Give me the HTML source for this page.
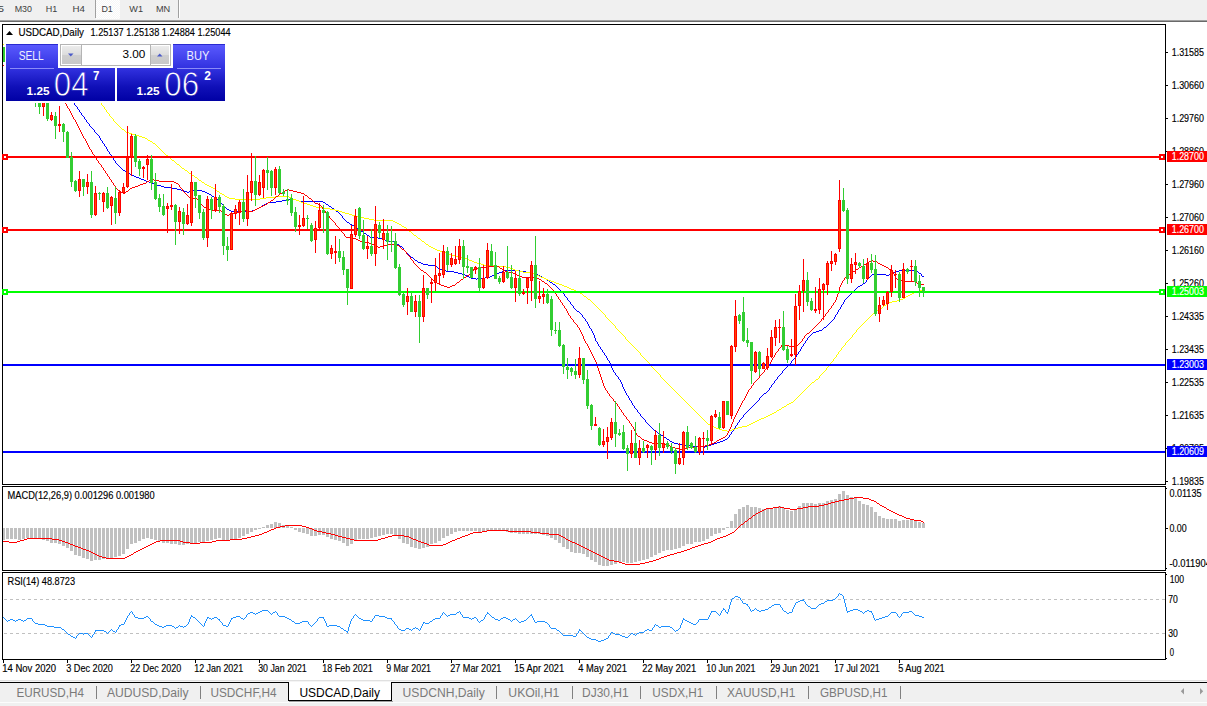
<!DOCTYPE html>
<html><head><meta charset="utf-8"><title>USDCAD,Daily</title>
<style>html,body{margin:0;padding:0;background:#fff;overflow:hidden}body{width:1207px;height:706px;font-family:"Liberation Sans",sans-serif}svg{display:block}</style></head>
<body>
<svg width="1207" height="706" viewBox="0 0 1207 706" font-family="Liberation Sans, sans-serif" style="display:block">
<defs>
<linearGradient id="gb" gradientUnits="userSpaceOnUse" x1="0" y1="44" x2="0" y2="101"><stop offset="0" stop-color="#5b5bff"/><stop offset="0.42" stop-color="#3232e0"/><stop offset="0.75" stop-color="#1010b8"/><stop offset="1" stop-color="#0000a4"/></linearGradient>
<linearGradient id="gbtn" x1="0" y1="0" x2="0" y2="1"><stop offset="0" stop-color="#ececec"/><stop offset="0.5" stop-color="#dcdcdc"/><stop offset="0.5" stop-color="#cfcfcf"/><stop offset="1" stop-color="#c8c8c8"/></linearGradient>
<pattern id="chk" width="2" height="2" patternUnits="userSpaceOnUse"><rect width="2" height="2" fill="#f6f6f6"/><rect width="1" height="1" fill="#ffffff"/><rect x="1" y="1" width="1" height="1" fill="#ffffff"/></pattern>
<clipPath id="cm"><rect x="3" y="25" width="1162" height="459"/></clipPath>
<clipPath id="cmacd"><rect x="3" y="487" width="1162" height="83"/></clipPath>
<clipPath id="crsi"><rect x="3" y="573" width="1162" height="86"/></clipPath>
</defs>
<rect x="0" y="0" width="1207" height="706" fill="#ffffff" />
<g shape-rendering="crispEdges">
<rect x="0" y="0" width="1207" height="20" fill="#f0f0f0" />
<rect x="0" y="20" width="1207" height="1" fill="#a0a0a0" />
<rect x="0" y="21" width="1207" height="1" fill="#696969" />
<rect x="96" y="0" width="24" height="19" fill="url(#chk)" />
<rect x="95" y="0" width="1" height="18" fill="#a0a0a0" />
<rect x="178" y="0" width="1" height="18" fill="#a0a0a0" />
<rect x="179" y="0" width="1" height="18" fill="#ffffff" />
<rect x="2" y="24" width="1164" height="1" fill="#000" />
<rect x="2" y="24" width="1" height="636" fill="#000" />
<rect x="1165" y="24" width="1" height="636" fill="#000" />
<rect x="2" y="484" width="1164" height="1" fill="#000" />
<rect x="2" y="485" width="1164" height="1" fill="#fff" />
<rect x="2" y="486" width="1164" height="1" fill="#000" />
<rect x="2" y="570" width="1164" height="1" fill="#000" />
<rect x="2" y="571" width="1164" height="1" fill="#fff" />
<rect x="2" y="572" width="1164" height="1" fill="#000" />
<rect x="2" y="659" width="1164" height="1" fill="#000" />
</g>
<g clip-path="url(#cm)" shape-rendering="crispEdges">
<path d="M74 103h1v1h-1zM74 104h1v1h-1zM75 105h1v1h-1zM76 106h1v1h-1zM77 107h1v1h-1zM77 108h1v1h-1zM78 109h1v1h-1zM79 110h1v1h-1zM79 111h1v1h-1zM80 112h1v1h-1zM81 113h1v1h-1zM81 114h1v1h-1zM82 115h1v1h-1zM83 116h1v1h-1zM84 117h1v1h-1zM84 118h1v1h-1zM85 119h1v1h-1zM86 120h1v1h-1zM86 121h1v1h-1zM87 122h1v1h-1zM88 123h1v1h-1zM89 124h1v1h-1zM89 125h1v1h-1zM90 126h1v1h-1zM91 127h1v1h-1zM92 128h1v1h-1zM93 129h1v1h-1zM94 130h1v1h-1zM94 131h1v1h-1zM95 132h1v1h-1zM96 133h1v1h-1zM97 134h1v1h-1zM98 135h1v1h-1zM99 136h1v1h-1zM99 137h1v1h-1zM100 138h1v1h-1zM100 139h1v1h-1zM101 140h1v1h-1zM102 141h1v1h-1zM102 142h1v1h-1zM103 143h1v1h-1zM104 144h1v1h-1zM104 145h1v1h-1zM105 146h1v1h-1zM106 147h1v1h-1zM106 148h1v1h-1zM107 149h1v1h-1zM107 150h1v1h-1zM108 151h1v1h-1zM109 152h1v1h-1zM109 153h1v1h-1zM110 154h1v1h-1zM111 155h1v1h-1zM111 156h1v1h-1zM112 157h1v1h-1zM113 158h1v1h-1zM113 159h1v1h-1zM114 160h1v1h-1zM115 161h1v1h-1zM115 162h1v1h-1zM116 163h1v1h-1zM117 164h1v1h-1zM118 165h1v1h-1zM119 166h1v1h-1zM120 167h1v1h-1zM121 168h1v1h-1zM122 169h1v1h-1zM123 170h1v1h-1zM124 170h1v1h-1zM125 171h1v1h-1zM126 171h1v1h-1zM127 172h1v1h-1zM128 173h1v1h-1zM129 173h1v1h-1zM130 174h1v1h-1zM131 174h1v1h-1zM132 175h1v1h-1zM133 175h1v1h-1zM134 176h1v1h-1zM135 176h1v1h-1zM136 177h1v1h-1zM137 177h1v1h-1zM138 177h1v1h-1zM139 178h1v1h-1zM140 178h1v1h-1zM141 179h1v1h-1zM142 179h1v1h-1zM143 179h1v1h-1zM144 180h1v1h-1zM145 180h1v1h-1zM146 181h1v1h-1zM147 181h1v1h-1zM148 181h1v1h-1zM149 182h1v1h-1zM150 182h1v1h-1zM151 183h1v1h-1zM152 183h1v1h-1zM153 183h1v1h-1zM154 184h1v1h-1zM155 184h1v1h-1zM156 184h1v1h-1zM157 185h1v1h-1zM158 185h1v1h-1zM159 185h1v1h-1zM160 185h1v1h-1zM161 186h1v1h-1zM162 186h1v1h-1zM163 186h1v1h-1zM164 187h1v1h-1zM165 187h1v1h-1zM166 187h1v1h-1zM167 187h1v1h-1zM168 187h1v1h-1zM169 187h1v1h-1zM170 187h1v1h-1zM171 188h1v1h-1zM172 188h1v1h-1zM173 188h1v1h-1zM174 188h1v1h-1zM175 188h1v1h-1zM176 188h1v1h-1zM177 189h1v1h-1zM178 189h1v1h-1zM179 189h1v1h-1zM180 189h1v1h-1zM181 190h1v1h-1zM182 190h1v1h-1zM183 190h1v1h-1zM184 191h1v1h-1zM185 191h1v1h-1zM186 191h1v1h-1zM187 192h1v1h-1zM188 192h1v1h-1zM189 191h1v1h-1zM190 191h1v1h-1zM191 191h1v1h-1zM192 190h1v1h-1zM193 190h1v1h-1zM194 189h1v1h-1zM195 189h1v1h-1zM196 190h1v1h-1zM197 190h1v1h-1zM198 190h1v1h-1zM199 190h1v1h-1zM200 190h1v1h-1zM201 190h1v1h-1zM202 191h1v1h-1zM203 191h1v1h-1zM204 191h1v1h-1zM205 192h1v1h-1zM206 192h1v1h-1zM207 193h1v1h-1zM208 193h1v1h-1zM209 194h1v1h-1zM210 194h1v1h-1zM211 195h1v1h-1zM212 196h1v1h-1zM213 196h1v1h-1zM214 197h1v1h-1zM215 197h1v1h-1zM216 198h1v1h-1zM217 199h1v1h-1zM218 200h1v1h-1zM219 201h1v1h-1zM220 202h1v1h-1zM221 203h1v1h-1zM222 204h1v1h-1zM223 205h1v1h-1zM224 206h1v1h-1zM225 207h1v1h-1zM226 208h1v1h-1zM227 209h1v1h-1zM228 209h1v1h-1zM229 210h1v1h-1zM230 210h1v1h-1zM231 211h1v1h-1zM232 211h1v1h-1zM233 211h1v1h-1zM234 211h1v1h-1zM235 211h1v1h-1zM236 211h1v1h-1zM237 211h1v1h-1zM238 211h1v1h-1zM239 211h1v1h-1zM240 211h1v1h-1zM241 211h1v1h-1zM242 211h1v1h-1zM243 211h1v1h-1zM244 211h1v1h-1zM245 211h1v1h-1zM246 211h1v1h-1zM247 211h1v1h-1zM248 211h1v1h-1zM249 211h1v1h-1zM250 211h1v1h-1zM251 211h1v1h-1zM252 210h1v1h-1zM253 210h1v1h-1zM254 210h1v1h-1zM255 209h1v1h-1zM256 209h1v1h-1zM257 208h1v1h-1zM258 208h1v1h-1zM259 207h1v1h-1zM260 207h1v1h-1zM261 206h1v1h-1zM262 205h1v1h-1zM263 205h1v1h-1zM264 204h1v1h-1zM265 204h1v1h-1zM266 203h1v1h-1zM267 203h1v1h-1zM268 202h1v1h-1zM269 202h1v1h-1zM270 202h1v1h-1zM271 202h1v1h-1zM272 202h1v1h-1zM273 202h1v1h-1zM274 202h1v1h-1zM275 202h1v1h-1zM276 201h1v1h-1zM277 201h1v1h-1zM278 201h1v1h-1zM279 201h1v1h-1zM280 201h1v1h-1zM281 201h1v1h-1zM282 200h1v1h-1zM283 200h1v1h-1zM284 200h1v1h-1zM285 200h1v1h-1zM286 199h1v1h-1zM287 199h1v1h-1zM288 199h1v1h-1zM289 199h1v1h-1zM290 199h1v1h-1zM291 199h1v1h-1zM292 199h1v1h-1zM293 199h1v1h-1zM294 199h1v1h-1zM295 199h1v1h-1zM296 200h1v1h-1zM297 200h1v1h-1zM298 200h1v1h-1zM299 201h1v1h-1zM300 201h1v1h-1zM301 201h1v1h-1zM302 201h1v1h-1zM303 201h1v1h-1zM304 201h1v1h-1zM305 201h1v1h-1zM306 201h1v1h-1zM307 201h1v1h-1zM308 201h1v1h-1zM309 201h1v1h-1zM310 201h1v1h-1zM311 201h1v1h-1zM312 201h1v1h-1zM313 201h1v1h-1zM314 201h1v1h-1zM315 201h1v1h-1zM316 201h1v1h-1zM317 201h1v1h-1zM318 201h1v1h-1zM319 201h1v1h-1zM320 201h1v1h-1zM321 201h1v1h-1zM322 201h1v1h-1zM323 202h1v1h-1zM324 202h1v1h-1zM325 203h1v1h-1zM326 204h1v1h-1zM327 204h1v1h-1zM328 205h1v1h-1zM329 206h1v1h-1zM330 206h1v1h-1zM331 207h1v1h-1zM332 208h1v1h-1zM333 208h1v1h-1zM334 209h1v1h-1zM335 210h1v1h-1zM336 211h1v1h-1zM337 211h1v1h-1zM338 212h1v1h-1zM339 213h1v1h-1zM340 214h1v1h-1zM341 215h1v1h-1zM342 216h1v1h-1zM342 217h1v1h-1zM343 218h1v1h-1zM344 219h1v1h-1zM345 220h1v1h-1zM346 221h1v1h-1zM347 222h1v1h-1zM348 222h1v1h-1zM349 223h1v1h-1zM350 224h1v1h-1zM351 224h1v1h-1zM352 225h1v1h-1zM353 225h1v1h-1zM354 226h1v1h-1zM355 227h1v1h-1zM356 227h1v1h-1zM357 228h1v1h-1zM358 229h1v1h-1zM359 229h1v1h-1zM360 230h1v1h-1zM361 231h1v1h-1zM362 231h1v1h-1zM363 232h1v1h-1zM364 233h1v1h-1zM365 233h1v1h-1zM366 234h1v1h-1zM367 235h1v1h-1zM368 235h1v1h-1zM369 236h1v1h-1zM370 237h1v1h-1zM371 237h1v1h-1zM372 237h1v1h-1zM373 237h1v1h-1zM374 237h1v1h-1zM375 237h1v1h-1zM376 237h1v1h-1zM377 237h1v1h-1zM378 238h1v1h-1zM379 238h1v1h-1zM380 238h1v1h-1zM381 238h1v1h-1zM382 239h1v1h-1zM383 239h1v1h-1zM384 239h1v1h-1zM385 240h1v1h-1zM386 240h1v1h-1zM387 240h1v1h-1zM388 240h1v1h-1zM389 241h1v1h-1zM390 241h1v1h-1zM391 241h1v1h-1zM392 241h1v1h-1zM393 241h1v1h-1zM394 242h1v1h-1zM395 242h1v1h-1zM396 243h1v1h-1zM397 244h1v1h-1zM398 244h1v1h-1zM399 245h1v1h-1zM400 246h1v1h-1zM401 246h1v1h-1zM402 247h1v1h-1zM403 248h1v1h-1zM403 249h1v1h-1zM404 250h1v1h-1zM405 251h1v1h-1zM406 252h1v1h-1zM407 253h1v1h-1zM408 254h1v1h-1zM409 255h1v1h-1zM410 256h1v1h-1zM411 257h1v1h-1zM412 257h1v1h-1zM413 258h1v1h-1zM414 259h1v1h-1zM415 260h1v1h-1zM416 260h1v1h-1zM417 261h1v1h-1zM418 262h1v1h-1zM419 262h1v1h-1zM420 262h1v1h-1zM421 263h1v1h-1zM422 263h1v1h-1zM423 264h1v1h-1zM424 264h1v1h-1zM425 264h1v1h-1zM426 264h1v1h-1zM427 264h1v1h-1zM428 265h1v1h-1zM429 265h1v1h-1zM430 265h1v1h-1zM431 265h1v1h-1zM432 265h1v1h-1zM433 265h1v1h-1zM434 265h1v1h-1zM435 266h1v1h-1zM436 266h1v1h-1zM437 267h1v1h-1zM438 268h1v1h-1zM439 268h1v1h-1zM440 269h1v1h-1zM441 269h1v1h-1zM442 269h1v1h-1zM443 270h1v1h-1zM444 270h1v1h-1zM445 270h1v1h-1zM446 271h1v1h-1zM447 271h1v1h-1zM448 271h1v1h-1zM449 271h1v1h-1zM450 271h1v1h-1zM451 271h1v1h-1zM452 271h1v1h-1zM453 271h1v1h-1zM454 272h1v1h-1zM455 272h1v1h-1zM456 272h1v1h-1zM457 272h1v1h-1zM458 273h1v1h-1zM459 273h1v1h-1zM460 273h1v1h-1zM461 273h1v1h-1zM462 274h1v1h-1zM463 274h1v1h-1zM464 274h1v1h-1zM465 275h1v1h-1zM466 275h1v1h-1zM467 276h1v1h-1zM468 276h1v1h-1zM469 277h1v1h-1zM470 277h1v1h-1zM471 278h1v1h-1zM472 278h1v1h-1zM473 278h1v1h-1zM474 278h1v1h-1zM475 278h1v1h-1zM476 279h1v1h-1zM477 278h1v1h-1zM478 278h1v1h-1zM479 278h1v1h-1zM480 278h1v1h-1zM481 278h1v1h-1zM482 278h1v1h-1zM483 278h1v1h-1zM484 278h1v1h-1zM485 277h1v1h-1zM486 277h1v1h-1zM487 277h1v1h-1zM488 277h1v1h-1zM489 277h1v1h-1zM490 276h1v1h-1zM491 276h1v1h-1zM492 275h1v1h-1zM493 275h1v1h-1zM494 275h1v1h-1zM495 274h1v1h-1zM496 274h1v1h-1zM497 273h1v1h-1zM498 273h1v1h-1zM499 272h1v1h-1zM500 272h1v1h-1zM501 272h1v1h-1zM502 271h1v1h-1zM503 271h1v1h-1zM504 270h1v1h-1zM505 270h1v1h-1zM506 270h1v1h-1zM507 270h1v1h-1zM508 270h1v1h-1zM509 270h1v1h-1zM510 270h1v1h-1zM511 270h1v1h-1zM512 270h1v1h-1zM513 270h1v1h-1zM514 270h1v1h-1zM515 270h1v1h-1zM516 270h1v1h-1zM517 270h1v1h-1zM518 270h1v1h-1zM519 270h1v1h-1zM520 271h1v1h-1zM521 271h1v1h-1zM522 271h1v1h-1zM523 271h1v1h-1zM524 271h1v1h-1zM525 271h1v1h-1zM526 272h1v1h-1zM527 272h1v1h-1zM528 272h1v1h-1zM529 272h1v1h-1zM530 272h1v1h-1zM531 273h1v1h-1zM532 273h1v1h-1zM533 273h1v1h-1zM534 273h1v1h-1zM535 274h1v1h-1zM536 274h1v1h-1zM537 274h1v1h-1zM538 275h1v1h-1zM539 275h1v1h-1zM540 276h1v1h-1zM541 276h1v1h-1zM542 277h1v1h-1zM543 277h1v1h-1zM544 278h1v1h-1zM545 278h1v1h-1zM546 279h1v1h-1zM547 280h1v1h-1zM548 280h1v1h-1zM549 281h1v1h-1zM550 282h1v1h-1zM551 282h1v1h-1zM552 283h1v1h-1zM553 284h1v1h-1zM554 284h1v1h-1zM555 285h1v1h-1zM556 286h1v1h-1zM557 287h1v1h-1zM558 288h1v1h-1zM559 289h1v1h-1zM560 290h1v1h-1zM561 291h1v1h-1zM562 292h1v1h-1zM563 293h1v1h-1zM564 294h1v1h-1zM564 295h1v1h-1zM565 296h1v1h-1zM566 297h1v1h-1zM567 298h1v1h-1zM567 299h1v1h-1zM568 300h1v1h-1zM569 301h1v1h-1zM570 302h1v1h-1zM570 303h1v1h-1zM571 304h1v1h-1zM572 305h1v1h-1zM573 306h1v1h-1zM573 307h1v1h-1zM574 308h1v1h-1zM575 309h1v1h-1zM576 310h1v1h-1zM577 311h1v1h-1zM578 311h1v1h-1zM579 312h1v1h-1zM580 313h1v1h-1zM581 314h1v1h-1zM582 315h1v1h-1zM582 316h1v1h-1zM583 317h1v1h-1zM584 318h1v1h-1zM585 319h1v1h-1zM585 320h1v1h-1zM586 321h1v1h-1zM587 322h1v1h-1zM587 323h1v1h-1zM588 324h1v1h-1zM588 325h1v1h-1zM589 326h1v1h-1zM589 327h1v1h-1zM590 328h1v1h-1zM591 329h1v1h-1zM591 330h1v1h-1zM592 331h1v1h-1zM592 332h1v1h-1zM593 333h1v1h-1zM593 334h1v1h-1zM594 335h1v2h-1zM594 337h1v1h-1zM595 338h1v2h-1zM595 340h1v1h-1zM596 341h1v1h-1zM597 342h1v1h-1zM597 343h1v1h-1zM598 344h1v1h-1zM598 345h1v1h-1zM599 346h1v1h-1zM600 347h1v1h-1zM600 348h1v1h-1zM601 349h1v1h-1zM602 350h1v1h-1zM602 351h1v1h-1zM603 352h1v1h-1zM604 353h1v1h-1zM604 354h1v1h-1zM605 355h1v1h-1zM606 356h1v1h-1zM606 357h1v1h-1zM607 358h1v1h-1zM607 359h1v1h-1zM608 360h1v1h-1zM609 361h1v1h-1zM609 362h1v1h-1zM610 363h1v1h-1zM610 364h1v1h-1zM611 365h1v2h-1zM611 367h1v1h-1zM612 368h1v1h-1zM612 369h1v1h-1zM613 370h1v1h-1zM613 371h1v1h-1zM614 372h1v1h-1zM615 373h1v1h-1zM615 374h1v1h-1zM616 375h1v1h-1zM617 376h1v1h-1zM618 377h1v1h-1zM618 378h1v1h-1zM619 379h1v1h-1zM620 380h1v1h-1zM620 381h1v1h-1zM621 382h1v1h-1zM621 383h1v1h-1zM622 384h1v2h-1zM622 386h1v1h-1zM623 387h1v1h-1zM623 388h1v1h-1zM624 389h1v1h-1zM624 390h1v1h-1zM625 391h1v1h-1zM625 392h1v1h-1zM626 393h1v1h-1zM626 394h1v1h-1zM627 395h1v1h-1zM628 396h1v1h-1zM628 397h1v1h-1zM629 398h1v1h-1zM629 399h1v1h-1zM630 400h1v1h-1zM631 401h1v1h-1zM631 402h1v1h-1zM632 403h1v1h-1zM632 404h1v1h-1zM633 405h1v1h-1zM634 406h1v1h-1zM634 407h1v1h-1zM635 408h1v1h-1zM636 409h1v1h-1zM637 410h1v1h-1zM637 411h1v1h-1zM638 412h1v1h-1zM639 413h1v1h-1zM640 414h1v1h-1zM640 415h1v1h-1zM641 416h1v1h-1zM642 417h1v1h-1zM643 418h1v1h-1zM644 419h1v1h-1zM645 420h1v1h-1zM645 421h1v1h-1zM646 422h1v1h-1zM647 423h1v1h-1zM648 424h1v1h-1zM649 425h1v1h-1zM650 426h1v1h-1zM651 427h1v1h-1zM652 428h1v1h-1zM653 429h1v1h-1zM654 430h1v1h-1zM655 431h1v1h-1zM656 431h1v1h-1zM657 432h1v1h-1zM658 433h1v1h-1zM659 433h1v1h-1zM660 434h1v1h-1zM661 435h1v1h-1zM662 435h1v1h-1zM663 436h1v1h-1zM664 437h1v1h-1zM665 437h1v1h-1zM666 438h1v1h-1zM667 439h1v1h-1zM668 439h1v1h-1zM669 440h1v1h-1zM670 441h1v1h-1zM671 441h1v1h-1zM672 442h1v1h-1zM673 442h1v1h-1zM674 443h1v1h-1zM675 443h1v1h-1zM676 443h1v1h-1zM677 443h1v1h-1zM678 444h1v1h-1zM679 444h1v1h-1zM680 444h1v1h-1zM681 444h1v1h-1zM682 444h1v1h-1zM683 445h1v1h-1zM684 445h1v1h-1zM685 445h1v1h-1zM686 445h1v1h-1zM687 445h1v1h-1zM688 445h1v1h-1zM689 445h1v1h-1zM690 445h1v1h-1zM691 445h1v1h-1zM692 446h1v1h-1zM693 446h1v1h-1zM694 446h1v1h-1zM695 446h1v1h-1zM696 446h1v1h-1zM697 446h1v1h-1zM698 446h1v1h-1zM699 446h1v1h-1zM700 446h1v1h-1zM701 446h1v1h-1zM702 446h1v1h-1zM703 447h1v1h-1zM704 447h1v1h-1zM705 446h1v1h-1zM706 446h1v1h-1zM707 446h1v1h-1zM708 445h1v1h-1zM709 445h1v1h-1zM710 445h1v1h-1zM711 444h1v1h-1zM712 444h1v1h-1zM713 444h1v1h-1zM714 443h1v1h-1zM715 443h1v1h-1zM716 443h1v1h-1zM717 442h1v1h-1zM718 442h1v1h-1zM719 442h1v1h-1zM720 441h1v1h-1zM721 441h1v1h-1zM722 441h1v1h-1zM723 440h1v1h-1zM724 440h1v1h-1zM725 439h1v1h-1zM726 439h1v1h-1zM727 438h1v1h-1zM728 437h1v1h-1zM729 435h1v2h-1zM730 434h1v1h-1zM731 432h1v2h-1zM732 431h1v1h-1zM733 429h1v2h-1zM734 428h1v1h-1zM735 426h1v2h-1zM736 425h1v1h-1zM737 423h1v2h-1zM738 422h1v1h-1zM739 420h1v2h-1zM740 419h1v1h-1zM741 418h1v1h-1zM742 417h1v1h-1zM743 415h1v2h-1zM744 414h1v1h-1zM745 413h1v1h-1zM746 412h1v1h-1zM747 411h1v1h-1zM748 410h1v1h-1zM749 409h1v1h-1zM750 408h1v1h-1zM751 407h1v1h-1zM752 406h1v1h-1zM753 405h1v1h-1zM754 404h1v1h-1zM755 403h1v1h-1zM756 402h1v1h-1zM757 401h1v1h-1zM758 400h1v1h-1zM759 398h1v2h-1zM760 397h1v1h-1zM761 396h1v1h-1zM762 395h1v1h-1zM763 394h1v1h-1zM764 393h1v1h-1zM765 393h1v1h-1zM766 392h1v1h-1zM767 391h1v1h-1zM768 390h1v1h-1zM769 388h1v2h-1zM770 387h1v1h-1zM771 385h1v2h-1zM772 384h1v1h-1zM773 383h1v1h-1zM774 381h1v2h-1zM775 380h1v1h-1zM776 379h1v1h-1zM777 377h1v2h-1zM778 376h1v1h-1zM779 375h1v1h-1zM780 374h1v1h-1zM781 373h1v1h-1zM782 371h1v2h-1zM783 370h1v1h-1zM784 369h1v1h-1zM785 368h1v1h-1zM786 367h1v1h-1zM787 366h1v1h-1zM788 365h1v1h-1zM789 364h1v1h-1zM790 363h1v1h-1zM791 361h1v2h-1zM792 360h1v1h-1zM793 359h1v1h-1zM794 358h1v1h-1zM795 357h1v1h-1zM796 355h1v2h-1zM797 354h1v1h-1zM798 352h1v2h-1zM799 351h1v1h-1zM800 349h1v2h-1zM801 347h1v2h-1zM802 346h1v1h-1zM803 344h1v2h-1zM804 343h1v1h-1zM805 341h1v2h-1zM806 340h1v1h-1zM807 338h1v2h-1zM808 337h1v1h-1zM809 336h1v1h-1zM810 335h1v1h-1zM811 334h1v1h-1zM812 333h1v1h-1zM813 332h1v1h-1zM814 332h1v1h-1zM815 332h1v1h-1zM816 331h1v1h-1zM817 331h1v1h-1zM818 331h1v1h-1zM819 330h1v1h-1zM820 330h1v1h-1zM821 330h1v1h-1zM822 329h1v1h-1zM823 328h1v1h-1zM824 327h1v1h-1zM825 327h1v1h-1zM826 326h1v1h-1zM827 325h1v1h-1zM828 324h1v1h-1zM829 323h1v1h-1zM830 322h1v1h-1zM831 321h1v1h-1zM832 320h1v1h-1zM833 319h1v1h-1zM834 317h1v2h-1zM835 315h1v2h-1zM836 314h1v1h-1zM837 312h1v2h-1zM838 310h1v2h-1zM839 309h1v1h-1zM840 307h1v2h-1zM841 305h1v2h-1zM842 304h1v1h-1zM843 302h1v2h-1zM844 300h1v2h-1zM845 299h1v1h-1zM846 298h1v1h-1zM847 297h1v1h-1zM848 296h1v1h-1zM849 295h1v1h-1zM850 294h1v1h-1zM851 293h1v1h-1zM852 292h1v1h-1zM853 291h1v1h-1zM854 290h1v1h-1zM855 289h1v1h-1zM856 288h1v1h-1zM857 287h1v1h-1zM858 286h1v1h-1zM859 286h1v1h-1zM860 285h1v1h-1zM861 285h1v1h-1zM862 284h1v1h-1zM863 283h1v1h-1zM864 283h1v1h-1zM865 282h1v1h-1zM866 280h1v2h-1zM867 279h1v1h-1zM868 278h1v1h-1zM869 277h1v1h-1zM870 276h1v1h-1zM871 275h1v1h-1zM872 274h1v1h-1zM873 274h1v1h-1zM874 274h1v1h-1zM875 274h1v1h-1zM876 274h1v1h-1zM877 274h1v1h-1zM878 274h1v1h-1zM879 274h1v1h-1zM880 274h1v1h-1zM881 274h1v1h-1zM882 274h1v1h-1zM883 274h1v1h-1zM884 274h1v1h-1zM885 274h1v1h-1zM886 275h1v1h-1zM887 275h1v1h-1zM888 275h1v1h-1zM889 274h1v1h-1zM890 274h1v1h-1zM891 273h1v1h-1zM892 273h1v1h-1zM893 272h1v1h-1zM894 272h1v1h-1zM895 272h1v1h-1zM896 271h1v1h-1zM897 271h1v1h-1zM898 271h1v1h-1zM899 270h1v1h-1zM900 270h1v1h-1zM901 270h1v1h-1zM902 270h1v1h-1zM903 270h1v1h-1zM904 270h1v1h-1zM905 270h1v1h-1zM906 270h1v1h-1zM907 270h1v1h-1zM908 270h1v1h-1zM909 270h1v1h-1zM910 270h1v1h-1zM911 270h1v1h-1zM912 270h1v1h-1zM913 270h1v1h-1zM914 270h1v1h-1zM915 270h1v1h-1zM916 271h1v1h-1zM917 271h1v1h-1zM918 272h1v1h-1zM919 273h1v1h-1zM920 273h1v1h-1zM921 274h1v1h-1zM921 275h1v1h-1zM922 276h1v1h-1zM923 276h1v1h-1z" fill="#0000ff"/>
<path d="M101 103h1v1h-1zM101 104h1v1h-1zM102 105h1v1h-1zM103 106h1v1h-1zM104 107h1v1h-1zM104 108h1v1h-1zM105 109h1v1h-1zM106 110h1v1h-1zM106 111h1v1h-1zM107 112h1v1h-1zM108 113h1v1h-1zM109 114h1v1h-1zM109 115h1v1h-1zM110 116h1v1h-1zM111 117h1v1h-1zM112 118h1v1h-1zM113 119h1v1h-1zM113 120h1v1h-1zM114 121h1v1h-1zM115 122h1v1h-1zM116 123h1v1h-1zM117 124h1v1h-1zM118 125h1v1h-1zM119 126h1v1h-1zM120 127h1v1h-1zM121 128h1v1h-1zM122 129h1v1h-1zM123 129h1v1h-1zM124 130h1v1h-1zM125 131h1v1h-1zM126 132h1v1h-1zM127 132h1v1h-1zM128 132h1v1h-1zM129 133h1v1h-1zM130 133h1v1h-1zM131 133h1v1h-1zM132 134h1v1h-1zM133 134h1v1h-1zM134 134h1v1h-1zM135 135h1v1h-1zM136 135h1v1h-1zM137 135h1v1h-1zM138 135h1v1h-1zM139 136h1v1h-1zM140 136h1v1h-1zM141 136h1v1h-1zM142 137h1v1h-1zM143 137h1v1h-1zM144 137h1v1h-1zM145 138h1v1h-1zM146 138h1v1h-1zM147 139h1v1h-1zM148 140h1v1h-1zM149 140h1v1h-1zM150 141h1v1h-1zM151 141h1v1h-1zM152 142h1v1h-1zM153 143h1v1h-1zM154 143h1v1h-1zM155 144h1v1h-1zM156 145h1v1h-1zM157 146h1v1h-1zM158 147h1v1h-1zM159 148h1v1h-1zM160 149h1v1h-1zM161 150h1v1h-1zM162 151h1v1h-1zM163 152h1v1h-1zM164 153h1v1h-1zM165 154h1v1h-1zM166 155h1v1h-1zM167 155h1v1h-1zM168 156h1v1h-1zM169 157h1v1h-1zM170 158h1v1h-1zM171 159h1v1h-1zM172 160h1v1h-1zM173 160h1v1h-1zM174 161h1v1h-1zM175 162h1v1h-1zM176 163h1v1h-1zM177 164h1v1h-1zM178 164h1v1h-1zM179 165h1v1h-1zM180 166h1v1h-1zM181 167h1v1h-1zM182 168h1v1h-1zM183 168h1v1h-1zM184 169h1v1h-1zM185 170h1v1h-1zM186 170h1v1h-1zM187 171h1v1h-1zM188 172h1v1h-1zM189 173h1v1h-1zM190 173h1v1h-1zM191 174h1v1h-1zM192 175h1v1h-1zM193 175h1v1h-1zM194 176h1v1h-1zM195 177h1v1h-1zM196 177h1v1h-1zM197 178h1v1h-1zM198 179h1v1h-1zM199 180h1v1h-1zM200 180h1v1h-1zM201 181h1v1h-1zM202 182h1v1h-1zM203 182h1v1h-1zM204 183h1v1h-1zM205 184h1v1h-1zM206 184h1v1h-1zM207 185h1v1h-1zM208 185h1v1h-1zM209 186h1v1h-1zM210 186h1v1h-1zM211 187h1v1h-1zM212 187h1v1h-1zM213 188h1v1h-1zM214 188h1v1h-1zM215 189h1v1h-1zM216 190h1v1h-1zM217 191h1v1h-1zM218 191h1v1h-1zM219 192h1v1h-1zM220 193h1v1h-1zM221 193h1v1h-1zM222 194h1v1h-1zM223 194h1v1h-1zM224 195h1v1h-1zM225 196h1v1h-1zM226 196h1v1h-1zM227 197h1v1h-1zM228 197h1v1h-1zM229 198h1v1h-1zM230 198h1v1h-1zM231 198h1v1h-1zM232 198h1v1h-1zM233 198h1v1h-1zM234 198h1v1h-1zM235 199h1v1h-1zM236 199h1v1h-1zM237 199h1v1h-1zM238 199h1v1h-1zM239 199h1v1h-1zM240 199h1v1h-1zM241 199h1v1h-1zM242 199h1v1h-1zM243 199h1v1h-1zM244 199h1v1h-1zM245 199h1v1h-1zM246 199h1v1h-1zM247 199h1v1h-1zM248 199h1v1h-1zM249 199h1v1h-1zM250 199h1v1h-1zM251 199h1v1h-1zM252 199h1v1h-1zM253 199h1v1h-1zM254 199h1v1h-1zM255 199h1v1h-1zM256 199h1v1h-1zM257 199h1v1h-1zM258 199h1v1h-1zM259 199h1v1h-1zM260 198h1v1h-1zM261 198h1v1h-1zM262 198h1v1h-1zM263 198h1v1h-1zM264 198h1v1h-1zM265 198h1v1h-1zM266 197h1v1h-1zM267 197h1v1h-1zM268 197h1v1h-1zM269 197h1v1h-1zM270 197h1v1h-1zM271 197h1v1h-1zM272 197h1v1h-1zM273 197h1v1h-1zM274 197h1v1h-1zM275 196h1v1h-1zM276 196h1v1h-1zM277 196h1v1h-1zM278 196h1v1h-1zM279 196h1v1h-1zM280 196h1v1h-1zM281 196h1v1h-1zM282 196h1v1h-1zM283 196h1v1h-1zM284 196h1v1h-1zM285 196h1v1h-1zM286 196h1v1h-1zM287 196h1v1h-1zM288 196h1v1h-1zM289 197h1v1h-1zM290 197h1v1h-1zM291 198h1v1h-1zM292 198h1v1h-1zM293 199h1v1h-1zM294 199h1v1h-1zM295 199h1v1h-1zM296 200h1v1h-1zM297 200h1v1h-1zM298 200h1v1h-1zM299 201h1v1h-1zM300 201h1v1h-1zM301 202h1v1h-1zM302 202h1v1h-1zM303 202h1v1h-1zM304 203h1v1h-1zM305 203h1v1h-1zM306 203h1v1h-1zM307 204h1v1h-1zM308 204h1v1h-1zM309 204h1v1h-1zM310 205h1v1h-1zM311 205h1v1h-1zM312 205h1v1h-1zM313 206h1v1h-1zM314 206h1v1h-1zM315 206h1v1h-1zM316 207h1v1h-1zM317 207h1v1h-1zM318 207h1v1h-1zM319 207h1v1h-1zM320 207h1v1h-1zM321 207h1v1h-1zM322 207h1v1h-1zM323 208h1v1h-1zM324 208h1v1h-1zM325 208h1v1h-1zM326 208h1v1h-1zM327 208h1v1h-1zM328 208h1v1h-1zM329 208h1v1h-1zM330 209h1v1h-1zM331 209h1v1h-1zM332 209h1v1h-1zM333 209h1v1h-1zM334 209h1v1h-1zM335 210h1v1h-1zM336 210h1v1h-1zM337 210h1v1h-1zM338 210h1v1h-1zM339 211h1v1h-1zM340 211h1v1h-1zM341 211h1v1h-1zM342 212h1v1h-1zM343 212h1v1h-1zM344 212h1v1h-1zM345 213h1v1h-1zM346 213h1v1h-1zM347 213h1v1h-1zM348 213h1v1h-1zM349 214h1v1h-1zM350 214h1v1h-1zM351 214h1v1h-1zM352 215h1v1h-1zM353 215h1v1h-1zM354 215h1v1h-1zM355 215h1v1h-1zM356 216h1v1h-1zM357 216h1v1h-1zM358 216h1v1h-1zM359 216h1v1h-1zM360 217h1v1h-1zM361 217h1v1h-1zM362 217h1v1h-1zM363 217h1v1h-1zM364 218h1v1h-1zM365 218h1v1h-1zM366 218h1v1h-1zM367 218h1v1h-1zM368 218h1v1h-1zM369 219h1v1h-1zM370 219h1v1h-1zM371 219h1v1h-1zM372 219h1v1h-1zM373 219h1v1h-1zM374 220h1v1h-1zM375 220h1v1h-1zM376 220h1v1h-1zM377 220h1v1h-1zM378 220h1v1h-1zM379 220h1v1h-1zM380 220h1v1h-1zM381 220h1v1h-1zM382 220h1v1h-1zM383 220h1v1h-1zM384 220h1v1h-1zM385 220h1v1h-1zM386 220h1v1h-1zM387 220h1v1h-1zM388 220h1v1h-1zM389 220h1v1h-1zM390 220h1v1h-1zM391 220h1v1h-1zM392 220h1v1h-1zM393 221h1v1h-1zM394 221h1v1h-1zM395 222h1v1h-1zM396 222h1v1h-1zM397 223h1v1h-1zM398 223h1v1h-1zM399 224h1v1h-1zM400 224h1v1h-1zM401 225h1v1h-1zM402 226h1v1h-1zM403 226h1v1h-1zM404 227h1v1h-1zM405 227h1v1h-1zM406 228h1v1h-1zM407 229h1v1h-1zM408 230h1v1h-1zM409 231h1v1h-1zM410 231h1v1h-1zM411 232h1v1h-1zM412 233h1v1h-1zM413 234h1v1h-1zM414 235h1v1h-1zM415 235h1v1h-1zM416 236h1v1h-1zM417 237h1v1h-1zM418 238h1v1h-1zM419 238h1v1h-1zM420 239h1v1h-1zM421 240h1v1h-1zM422 241h1v1h-1zM423 241h1v1h-1zM424 242h1v1h-1zM425 243h1v1h-1zM426 244h1v1h-1zM427 244h1v1h-1zM428 245h1v1h-1zM429 246h1v1h-1zM430 246h1v1h-1zM431 247h1v1h-1zM432 247h1v1h-1zM433 248h1v1h-1zM434 248h1v1h-1zM435 249h1v1h-1zM436 249h1v1h-1zM437 250h1v1h-1zM438 250h1v1h-1zM439 250h1v1h-1zM440 251h1v1h-1zM441 251h1v1h-1zM442 251h1v1h-1zM443 252h1v1h-1zM444 252h1v1h-1zM445 252h1v1h-1zM446 253h1v1h-1zM447 253h1v1h-1zM448 253h1v1h-1zM449 254h1v1h-1zM450 254h1v1h-1zM451 254h1v1h-1zM452 255h1v1h-1zM453 255h1v1h-1zM454 255h1v1h-1zM455 255h1v1h-1zM456 256h1v1h-1zM457 256h1v1h-1zM458 256h1v1h-1zM459 256h1v1h-1zM460 257h1v1h-1zM461 257h1v1h-1zM462 257h1v1h-1zM463 257h1v1h-1zM464 258h1v1h-1zM465 258h1v1h-1zM466 258h1v1h-1zM467 259h1v1h-1zM468 259h1v1h-1zM469 260h1v1h-1zM470 260h1v1h-1zM471 260h1v1h-1zM472 261h1v1h-1zM473 261h1v1h-1zM474 262h1v1h-1zM475 262h1v1h-1zM476 262h1v1h-1zM477 263h1v1h-1zM478 263h1v1h-1zM479 263h1v1h-1zM480 263h1v1h-1zM481 264h1v1h-1zM482 264h1v1h-1zM483 264h1v1h-1zM484 265h1v1h-1zM485 265h1v1h-1zM486 265h1v1h-1zM487 265h1v1h-1zM488 265h1v1h-1zM489 265h1v1h-1zM490 265h1v1h-1zM491 265h1v1h-1zM492 265h1v1h-1zM493 265h1v1h-1zM494 266h1v1h-1zM495 266h1v1h-1zM496 266h1v1h-1zM497 266h1v1h-1zM498 266h1v1h-1zM499 266h1v1h-1zM500 266h1v1h-1zM501 266h1v1h-1zM502 266h1v1h-1zM503 266h1v1h-1zM504 266h1v1h-1zM505 266h1v1h-1zM506 267h1v1h-1zM507 267h1v1h-1zM508 267h1v1h-1zM509 267h1v1h-1zM510 268h1v1h-1zM511 268h1v1h-1zM512 268h1v1h-1zM513 269h1v1h-1zM514 269h1v1h-1zM515 270h1v1h-1zM516 270h1v1h-1zM517 270h1v1h-1zM518 270h1v1h-1zM519 271h1v1h-1zM520 271h1v1h-1zM521 271h1v1h-1zM522 271h1v1h-1zM523 272h1v1h-1zM524 272h1v1h-1zM525 272h1v1h-1zM526 272h1v1h-1zM527 272h1v1h-1zM528 272h1v1h-1zM529 272h1v1h-1zM530 272h1v1h-1zM531 272h1v1h-1zM532 272h1v1h-1zM533 273h1v1h-1zM534 273h1v1h-1zM535 274h1v1h-1zM536 274h1v1h-1zM537 275h1v1h-1zM538 275h1v1h-1zM539 276h1v1h-1zM540 276h1v1h-1zM541 277h1v1h-1zM542 277h1v1h-1zM543 277h1v1h-1zM544 278h1v1h-1zM545 278h1v1h-1zM546 279h1v1h-1zM547 279h1v1h-1zM548 280h1v1h-1zM549 280h1v1h-1zM550 280h1v1h-1zM551 281h1v1h-1zM552 281h1v1h-1zM553 281h1v1h-1zM554 282h1v1h-1zM555 282h1v1h-1zM556 283h1v1h-1zM557 283h1v1h-1zM558 283h1v1h-1zM559 284h1v1h-1zM560 284h1v1h-1zM561 284h1v1h-1zM562 285h1v1h-1zM563 285h1v1h-1zM564 286h1v1h-1zM565 286h1v1h-1zM566 286h1v1h-1zM567 287h1v1h-1zM568 287h1v1h-1zM569 288h1v1h-1zM570 288h1v1h-1zM571 289h1v1h-1zM572 289h1v1h-1zM573 289h1v1h-1zM574 290h1v1h-1zM575 290h1v1h-1zM576 291h1v1h-1zM577 291h1v1h-1zM578 292h1v1h-1zM579 292h1v1h-1zM580 293h1v1h-1zM581 293h1v1h-1zM582 294h1v1h-1zM583 295h1v1h-1zM584 296h1v1h-1zM585 296h1v1h-1zM586 297h1v1h-1zM587 298h1v1h-1zM588 299h1v1h-1zM589 299h1v1h-1zM590 300h1v1h-1zM591 301h1v1h-1zM592 302h1v1h-1zM593 303h1v1h-1zM594 304h1v1h-1zM595 305h1v1h-1zM596 306h1v1h-1zM597 307h1v1h-1zM598 308h1v1h-1zM599 309h1v1h-1zM600 310h1v1h-1zM601 311h1v1h-1zM602 312h1v1h-1zM603 313h1v1h-1zM604 314h1v1h-1zM605 315h1v1h-1zM605 316h1v1h-1zM606 317h1v1h-1zM607 318h1v1h-1zM608 319h1v1h-1zM609 320h1v1h-1zM610 321h1v1h-1zM611 322h1v1h-1zM612 323h1v1h-1zM613 324h1v1h-1zM614 325h1v1h-1zM615 326h1v1h-1zM615 327h1v1h-1zM616 328h1v1h-1zM617 329h1v1h-1zM618 330h1v1h-1zM619 331h1v1h-1zM620 332h1v1h-1zM621 333h1v1h-1zM622 334h1v1h-1zM623 335h1v1h-1zM624 336h1v1h-1zM625 337h1v1h-1zM625 338h1v1h-1zM626 339h1v1h-1zM627 340h1v1h-1zM628 341h1v1h-1zM629 342h1v1h-1zM630 343h1v1h-1zM631 344h1v1h-1zM632 345h1v1h-1zM633 346h1v1h-1zM634 347h1v1h-1zM635 348h1v1h-1zM636 349h1v1h-1zM637 350h1v1h-1zM638 351h1v1h-1zM639 352h1v1h-1zM640 353h1v1h-1zM640 354h1v1h-1zM641 355h1v1h-1zM642 356h1v1h-1zM643 357h1v1h-1zM644 358h1v1h-1zM645 359h1v1h-1zM646 360h1v1h-1zM647 361h1v1h-1zM648 362h1v1h-1zM649 363h1v1h-1zM650 364h1v1h-1zM650 365h1v1h-1zM651 366h1v1h-1zM652 367h1v1h-1zM653 368h1v1h-1zM654 369h1v1h-1zM655 370h1v1h-1zM656 371h1v1h-1zM657 372h1v1h-1zM658 373h1v1h-1zM659 374h1v1h-1zM660 375h1v1h-1zM660 376h1v1h-1zM661 377h1v1h-1zM662 378h1v1h-1zM663 379h1v1h-1zM664 380h1v1h-1zM665 381h1v1h-1zM666 382h1v1h-1zM667 383h1v1h-1zM668 384h1v1h-1zM669 385h1v1h-1zM670 386h1v1h-1zM671 387h1v1h-1zM672 388h1v1h-1zM673 389h1v1h-1zM674 390h1v1h-1zM675 391h1v1h-1zM676 392h1v1h-1zM677 393h1v1h-1zM678 394h1v1h-1zM679 395h1v1h-1zM680 396h1v1h-1zM681 397h1v1h-1zM682 398h1v1h-1zM683 399h1v1h-1zM684 400h1v1h-1zM685 401h1v1h-1zM686 402h1v1h-1zM687 403h1v1h-1zM688 404h1v1h-1zM689 405h1v1h-1zM690 406h1v1h-1zM691 407h1v1h-1zM692 408h1v1h-1zM693 409h1v1h-1zM694 410h1v1h-1zM695 411h1v1h-1zM696 412h1v1h-1zM697 413h1v1h-1zM698 414h1v1h-1zM699 415h1v1h-1zM700 416h1v1h-1zM701 417h1v1h-1zM702 418h1v1h-1zM703 419h1v1h-1zM704 420h1v1h-1zM705 421h1v1h-1zM706 422h1v1h-1zM707 423h1v1h-1zM708 424h1v1h-1zM709 424h1v1h-1zM710 425h1v1h-1zM711 425h1v1h-1zM712 426h1v1h-1zM713 426h1v1h-1zM714 427h1v1h-1zM715 427h1v1h-1zM716 428h1v1h-1zM717 428h1v1h-1zM718 428h1v1h-1zM719 429h1v1h-1zM720 429h1v1h-1zM721 429h1v1h-1zM722 430h1v1h-1zM723 430h1v1h-1zM724 430h1v1h-1zM725 430h1v1h-1zM726 430h1v1h-1zM727 431h1v1h-1zM728 431h1v1h-1zM729 430h1v1h-1zM730 430h1v1h-1zM731 430h1v1h-1zM732 429h1v1h-1zM733 429h1v1h-1zM734 429h1v1h-1zM735 428h1v1h-1zM736 428h1v1h-1zM737 428h1v1h-1zM738 427h1v1h-1zM739 427h1v1h-1zM740 427h1v1h-1zM741 427h1v1h-1zM742 426h1v1h-1zM743 426h1v1h-1zM744 426h1v1h-1zM745 426h1v1h-1zM746 426h1v1h-1zM747 425h1v1h-1zM748 425h1v1h-1zM749 424h1v1h-1zM750 424h1v1h-1zM751 423h1v1h-1zM752 423h1v1h-1zM753 422h1v1h-1zM754 422h1v1h-1zM755 421h1v1h-1zM756 421h1v1h-1zM757 420h1v1h-1zM758 420h1v1h-1zM759 419h1v1h-1zM760 419h1v1h-1zM761 418h1v1h-1zM762 418h1v1h-1zM763 418h1v1h-1zM764 417h1v1h-1zM765 417h1v1h-1zM766 416h1v1h-1zM767 416h1v1h-1zM768 415h1v1h-1zM769 415h1v1h-1zM770 414h1v1h-1zM771 414h1v1h-1zM772 413h1v1h-1zM773 413h1v1h-1zM774 412h1v1h-1zM775 412h1v1h-1zM776 411h1v1h-1zM777 410h1v1h-1zM778 410h1v1h-1zM779 409h1v1h-1zM780 409h1v1h-1zM781 408h1v1h-1zM782 407h1v1h-1zM783 407h1v1h-1zM784 406h1v1h-1zM785 406h1v1h-1zM786 405h1v1h-1zM787 404h1v1h-1zM788 404h1v1h-1zM789 403h1v1h-1zM790 403h1v1h-1zM791 402h1v1h-1zM792 402h1v1h-1zM793 401h1v1h-1zM794 400h1v1h-1zM795 399h1v1h-1zM796 398h1v1h-1zM797 397h1v1h-1zM798 396h1v1h-1zM799 395h1v1h-1zM800 394h1v1h-1zM801 393h1v1h-1zM802 392h1v1h-1zM803 391h1v1h-1zM804 390h1v1h-1zM805 389h1v1h-1zM806 388h1v1h-1zM807 387h1v1h-1zM808 386h1v1h-1zM809 385h1v1h-1zM810 384h1v1h-1zM811 383h1v1h-1zM812 382h1v1h-1zM813 382h1v1h-1zM814 381h1v1h-1zM815 380h1v1h-1zM816 379h1v1h-1zM817 379h1v1h-1zM818 378h1v1h-1zM819 376h1v2h-1zM820 375h1v1h-1zM821 374h1v1h-1zM822 373h1v1h-1zM823 372h1v1h-1zM824 371h1v1h-1zM825 370h1v1h-1zM826 368h1v2h-1zM827 367h1v1h-1zM828 366h1v1h-1zM829 365h1v1h-1zM830 363h1v2h-1zM831 362h1v1h-1zM832 361h1v1h-1zM833 359h1v2h-1zM834 358h1v1h-1zM835 357h1v1h-1zM836 355h1v2h-1zM837 354h1v1h-1zM838 352h1v2h-1zM839 351h1v1h-1zM840 350h1v1h-1zM841 348h1v2h-1zM842 347h1v1h-1zM843 346h1v1h-1zM844 345h1v1h-1zM845 343h1v2h-1zM846 342h1v1h-1zM847 341h1v1h-1zM848 340h1v1h-1zM849 339h1v1h-1zM850 338h1v1h-1zM851 337h1v1h-1zM852 335h1v2h-1zM853 334h1v1h-1zM854 333h1v1h-1zM855 332h1v1h-1zM856 330h1v2h-1zM857 329h1v1h-1zM858 328h1v1h-1zM859 327h1v1h-1zM860 326h1v1h-1zM861 325h1v1h-1zM862 324h1v1h-1zM863 323h1v1h-1zM864 322h1v1h-1zM865 321h1v1h-1zM866 320h1v1h-1zM867 319h1v1h-1zM868 318h1v1h-1zM869 317h1v1h-1zM870 316h1v1h-1zM871 315h1v1h-1zM872 314h1v1h-1zM873 313h1v1h-1zM874 312h1v1h-1zM875 312h1v1h-1zM876 311h1v1h-1zM877 310h1v1h-1zM878 310h1v1h-1zM879 309h1v1h-1zM880 308h1v1h-1zM881 308h1v1h-1zM882 307h1v1h-1zM883 306h1v1h-1zM884 305h1v1h-1zM885 305h1v1h-1zM886 304h1v1h-1zM887 304h1v1h-1zM888 303h1v1h-1zM889 302h1v1h-1zM890 302h1v1h-1zM891 302h1v1h-1zM892 301h1v1h-1zM893 301h1v1h-1zM894 301h1v1h-1zM895 301h1v1h-1zM896 301h1v1h-1zM897 300h1v1h-1zM898 300h1v1h-1zM899 300h1v1h-1zM900 299h1v1h-1zM901 299h1v1h-1zM902 299h1v1h-1zM903 298h1v1h-1zM904 298h1v1h-1zM905 297h1v1h-1zM906 296h1v1h-1zM907 296h1v1h-1zM908 295h1v1h-1zM909 295h1v1h-1zM910 294h1v1h-1zM911 294h1v1h-1zM912 293h1v1h-1zM913 293h1v1h-1zM914 292h1v1h-1zM915 292h1v1h-1zM916 292h1v1h-1zM917 291h1v1h-1zM918 291h1v1h-1zM919 290h1v1h-1zM920 290h1v1h-1zM921 290h1v1h-1z" fill="#ffff00"/>
<path d="M65 103h1v1h-1zM66 104h1v1h-1zM66 105h1v1h-1zM67 106h1v1h-1zM67 107h1v1h-1zM68 108h1v1h-1zM69 109h1v1h-1zM69 110h1v1h-1zM70 111h1v1h-1zM70 112h1v1h-1zM71 113h1v1h-1zM71 114h1v1h-1zM72 115h1v1h-1zM72 116h1v1h-1zM73 117h1v1h-1zM73 118h1v1h-1zM74 119h1v1h-1zM75 120h1v1h-1zM75 121h1v1h-1zM76 122h1v1h-1zM76 123h1v1h-1zM77 124h1v1h-1zM77 125h1v1h-1zM78 126h1v1h-1zM78 127h1v1h-1zM79 128h1v1h-1zM79 129h1v1h-1zM80 130h1v1h-1zM80 131h1v1h-1zM81 132h1v1h-1zM81 133h1v1h-1zM82 134h1v1h-1zM82 135h1v1h-1zM83 136h1v1h-1zM83 137h1v1h-1zM84 138h1v1h-1zM85 139h1v1h-1zM85 140h1v1h-1zM86 141h1v1h-1zM86 142h1v1h-1zM87 143h1v1h-1zM87 144h1v1h-1zM88 145h1v1h-1zM88 146h1v1h-1zM89 147h1v1h-1zM89 148h1v1h-1zM90 149h1v1h-1zM91 150h1v1h-1zM91 151h1v1h-1zM92 152h1v1h-1zM92 153h1v1h-1zM93 154h1v1h-1zM94 155h1v1h-1zM94 156h1v1h-1zM95 157h1v1h-1zM96 158h1v1h-1zM96 159h1v1h-1zM97 160h1v1h-1zM98 161h1v1h-1zM98 162h1v1h-1zM99 163h1v1h-1zM100 164h1v1h-1zM101 165h1v1h-1zM101 166h1v1h-1zM102 167h1v1h-1zM103 168h1v1h-1zM103 169h1v1h-1zM104 170h1v1h-1zM105 171h1v1h-1zM105 172h1v1h-1zM106 173h1v1h-1zM107 174h1v1h-1zM107 175h1v1h-1zM108 176h1v1h-1zM109 177h1v1h-1zM109 178h1v1h-1zM110 179h1v1h-1zM111 180h1v1h-1zM111 181h1v1h-1zM112 182h1v1h-1zM113 183h1v1h-1zM113 184h1v1h-1zM114 185h1v1h-1zM115 186h1v1h-1zM115 187h1v1h-1zM116 188h1v1h-1zM117 189h1v1h-1zM118 190h1v1h-1zM119 190h1v1h-1zM120 191h1v1h-1zM121 192h1v1h-1zM122 192h1v1h-1zM123 193h1v1h-1zM124 193h1v1h-1zM125 192h1v1h-1zM126 191h1v1h-1zM127 191h1v1h-1zM128 190h1v1h-1zM129 189h1v1h-1zM130 188h1v1h-1zM131 188h1v1h-1zM132 187h1v1h-1zM133 187h1v1h-1zM134 187h1v1h-1zM135 186h1v1h-1zM136 186h1v1h-1zM137 186h1v1h-1zM138 185h1v1h-1zM139 185h1v1h-1zM140 184h1v1h-1zM141 184h1v1h-1zM142 184h1v1h-1zM143 183h1v1h-1zM144 183h1v1h-1zM145 183h1v1h-1zM146 182h1v1h-1zM147 181h1v1h-1zM148 181h1v1h-1zM149 180h1v1h-1zM150 179h1v1h-1zM151 179h1v1h-1zM152 179h1v1h-1zM153 179h1v1h-1zM154 180h1v1h-1zM155 180h1v1h-1zM156 180h1v1h-1zM157 180h1v1h-1zM158 180h1v1h-1zM159 181h1v1h-1zM160 181h1v1h-1zM161 181h1v1h-1zM162 181h1v1h-1zM163 181h1v1h-1zM164 181h1v1h-1zM165 181h1v1h-1zM166 181h1v1h-1zM167 181h1v1h-1zM168 181h1v1h-1zM169 181h1v1h-1zM170 181h1v1h-1zM171 181h1v1h-1zM172 181h1v1h-1zM173 181h1v1h-1zM174 182h1v1h-1zM175 182h1v1h-1zM176 183h1v1h-1zM177 183h1v1h-1zM178 184h1v1h-1zM179 185h1v1h-1zM179 186h1v1h-1zM180 187h1v1h-1zM181 188h1v1h-1zM182 189h1v1h-1zM182 190h1v1h-1zM183 191h1v1h-1zM184 192h1v1h-1zM185 193h1v1h-1zM186 194h1v1h-1zM187 195h1v1h-1zM188 196h1v1h-1zM189 197h1v1h-1zM190 198h1v1h-1zM191 198h1v1h-1zM192 198h1v1h-1zM193 198h1v1h-1zM194 198h1v1h-1zM195 198h1v1h-1zM196 198h1v1h-1zM197 199h1v1h-1zM198 200h1v1h-1zM199 201h1v1h-1zM200 202h1v1h-1zM200 203h1v1h-1zM201 204h1v1h-1zM202 205h1v1h-1zM203 206h1v1h-1zM204 207h1v1h-1zM205 207h1v1h-1zM206 208h1v1h-1zM207 208h1v1h-1zM208 208h1v1h-1zM209 209h1v1h-1zM210 209h1v1h-1zM211 209h1v1h-1zM212 210h1v1h-1zM213 210h1v1h-1zM214 210h1v1h-1zM215 210h1v1h-1zM216 210h1v1h-1zM217 210h1v1h-1zM218 210h1v1h-1zM219 210h1v1h-1zM220 210h1v1h-1zM221 211h1v1h-1zM222 212h1v1h-1zM223 212h1v1h-1zM224 213h1v1h-1zM225 214h1v1h-1zM226 214h1v1h-1zM227 215h1v1h-1zM228 215h1v1h-1zM229 214h1v1h-1zM230 214h1v1h-1zM231 213h1v1h-1zM232 213h1v1h-1zM233 213h1v1h-1zM234 212h1v1h-1zM235 212h1v1h-1zM236 212h1v1h-1zM237 212h1v1h-1zM238 212h1v1h-1zM239 212h1v1h-1zM240 212h1v1h-1zM241 211h1v1h-1zM242 211h1v1h-1zM243 211h1v1h-1zM244 210h1v1h-1zM245 210h1v1h-1zM246 210h1v1h-1zM247 210h1v1h-1zM248 210h1v1h-1zM249 211h1v1h-1zM250 211h1v1h-1zM251 211h1v1h-1zM252 211h1v1h-1zM253 210h1v1h-1zM254 210h1v1h-1zM255 209h1v1h-1zM256 209h1v1h-1zM257 208h1v1h-1zM258 208h1v1h-1zM259 207h1v1h-1zM260 207h1v1h-1zM261 206h1v1h-1zM262 206h1v1h-1zM263 205h1v1h-1zM264 205h1v1h-1zM265 204h1v1h-1zM266 204h1v1h-1zM267 203h1v1h-1zM268 202h1v1h-1zM269 202h1v1h-1zM270 201h1v1h-1zM271 200h1v1h-1zM272 200h1v1h-1zM273 199h1v1h-1zM274 198h1v1h-1zM275 197h1v1h-1zM276 196h1v1h-1zM277 196h1v1h-1zM278 195h1v1h-1zM279 194h1v1h-1zM280 193h1v1h-1zM281 193h1v1h-1zM282 192h1v1h-1zM283 192h1v1h-1zM284 191h1v1h-1zM285 190h1v1h-1zM286 190h1v1h-1zM287 189h1v1h-1zM288 189h1v1h-1zM289 190h1v1h-1zM290 190h1v1h-1zM291 190h1v1h-1zM292 190h1v1h-1zM293 191h1v1h-1zM294 191h1v1h-1zM295 191h1v1h-1zM296 191h1v1h-1zM297 192h1v1h-1zM298 192h1v1h-1zM299 192h1v1h-1zM300 192h1v1h-1zM301 193h1v1h-1zM302 193h1v1h-1zM303 193h1v1h-1zM304 194h1v1h-1zM305 195h1v1h-1zM306 195h1v1h-1zM307 196h1v1h-1zM308 197h1v1h-1zM309 198h1v1h-1zM310 198h1v1h-1zM311 199h1v1h-1zM312 200h1v1h-1zM313 201h1v1h-1zM314 202h1v1h-1zM315 203h1v1h-1zM316 203h1v1h-1zM317 203h1v1h-1zM318 204h1v1h-1zM319 204h1v1h-1zM320 205h1v1h-1zM321 206h1v1h-1zM322 207h1v1h-1zM322 208h1v1h-1zM323 209h1v1h-1zM324 210h1v1h-1zM325 211h1v1h-1zM325 212h1v1h-1zM326 213h1v1h-1zM327 214h1v1h-1zM328 215h1v1h-1zM329 216h1v1h-1zM329 217h1v1h-1zM330 218h1v1h-1zM331 219h1v1h-1zM332 220h1v1h-1zM333 221h1v1h-1zM334 222h1v1h-1zM335 223h1v1h-1zM335 224h1v1h-1zM336 225h1v1h-1zM337 226h1v1h-1zM338 227h1v1h-1zM339 228h1v1h-1zM340 229h1v1h-1zM340 230h1v1h-1zM341 231h1v1h-1zM342 232h1v1h-1zM343 233h1v1h-1zM344 234h1v1h-1zM344 235h1v1h-1zM345 236h1v1h-1zM346 237h1v1h-1zM347 237h1v1h-1zM348 237h1v1h-1zM349 237h1v1h-1zM350 238h1v1h-1zM351 238h1v1h-1zM352 238h1v1h-1zM353 238h1v1h-1zM354 238h1v1h-1zM355 238h1v1h-1zM356 239h1v1h-1zM357 239h1v1h-1zM358 240h1v1h-1zM359 240h1v1h-1zM360 241h1v1h-1zM361 241h1v1h-1zM362 241h1v1h-1zM363 242h1v1h-1zM364 242h1v1h-1zM365 242h1v1h-1zM366 242h1v1h-1zM367 242h1v1h-1zM368 242h1v1h-1zM369 243h1v1h-1zM370 243h1v1h-1zM371 243h1v1h-1zM372 244h1v1h-1zM373 244h1v1h-1zM374 245h1v1h-1zM375 245h1v1h-1zM376 246h1v1h-1zM377 246h1v1h-1zM378 247h1v1h-1zM379 247h1v1h-1zM380 246h1v1h-1zM381 246h1v1h-1zM382 246h1v1h-1zM383 245h1v1h-1zM384 245h1v1h-1zM385 245h1v1h-1zM386 245h1v1h-1zM387 244h1v1h-1zM388 244h1v1h-1zM389 244h1v1h-1zM390 244h1v1h-1zM391 244h1v1h-1zM392 244h1v1h-1zM393 244h1v1h-1zM394 244h1v1h-1zM395 244h1v1h-1zM396 245h1v1h-1zM397 245h1v1h-1zM398 245h1v1h-1zM399 246h1v1h-1zM400 247h1v1h-1zM401 248h1v1h-1zM402 249h1v1h-1zM403 249h1v1h-1zM404 250h1v1h-1zM405 251h1v1h-1zM406 252h1v1h-1zM406 253h1v1h-1zM407 254h1v1h-1zM408 255h1v1h-1zM409 256h1v1h-1zM410 257h1v1h-1zM410 258h1v1h-1zM411 259h1v1h-1zM412 260h1v1h-1zM413 261h1v1h-1zM413 262h1v1h-1zM414 263h1v1h-1zM415 264h1v1h-1zM416 265h1v1h-1zM417 266h1v1h-1zM418 267h1v1h-1zM419 268h1v1h-1zM420 269h1v1h-1zM421 270h1v1h-1zM422 270h1v1h-1zM423 271h1v1h-1zM424 272h1v1h-1zM425 272h1v1h-1zM426 273h1v1h-1zM427 274h1v1h-1zM428 275h1v1h-1zM429 276h1v1h-1zM430 277h1v1h-1zM431 278h1v1h-1zM432 279h1v1h-1zM433 280h1v1h-1zM434 280h1v1h-1zM435 281h1v1h-1zM436 282h1v1h-1zM437 283h1v1h-1zM438 283h1v1h-1zM439 284h1v1h-1zM440 284h1v1h-1zM441 285h1v1h-1zM442 285h1v1h-1zM443 285h1v1h-1zM444 286h1v1h-1zM445 286h1v1h-1zM446 286h1v1h-1zM447 287h1v1h-1zM448 287h1v1h-1zM449 287h1v1h-1zM450 286h1v1h-1zM451 286h1v1h-1zM452 285h1v1h-1zM453 285h1v1h-1zM454 285h1v1h-1zM455 284h1v1h-1zM456 283h1v1h-1zM457 282h1v1h-1zM458 282h1v1h-1zM459 281h1v1h-1zM460 280h1v1h-1zM461 279h1v1h-1zM462 279h1v1h-1zM463 278h1v1h-1zM464 277h1v1h-1zM465 277h1v1h-1zM466 276h1v1h-1zM467 275h1v1h-1zM468 275h1v1h-1zM469 274h1v1h-1zM470 273h1v1h-1zM471 272h1v1h-1zM472 271h1v1h-1zM473 269h1v2h-1zM474 268h1v1h-1zM475 268h1v1h-1zM476 268h1v1h-1zM477 268h1v1h-1zM478 267h1v1h-1zM479 267h1v1h-1zM480 267h1v1h-1zM481 267h1v1h-1zM482 267h1v1h-1zM483 267h1v1h-1zM484 267h1v1h-1zM485 267h1v1h-1zM486 267h1v1h-1zM487 266h1v1h-1zM488 266h1v1h-1zM489 266h1v1h-1zM490 266h1v1h-1zM491 266h1v1h-1zM492 266h1v1h-1zM493 266h1v1h-1zM494 266h1v1h-1zM495 266h1v1h-1zM496 266h1v1h-1zM497 266h1v1h-1zM498 266h1v1h-1zM499 267h1v1h-1zM500 268h1v1h-1zM501 268h1v1h-1zM502 269h1v1h-1zM503 269h1v1h-1zM504 270h1v1h-1zM505 271h1v1h-1zM506 271h1v1h-1zM507 271h1v1h-1zM508 272h1v1h-1zM509 272h1v1h-1zM510 272h1v1h-1zM511 272h1v1h-1zM512 272h1v1h-1zM513 273h1v1h-1zM514 273h1v1h-1zM515 274h1v1h-1zM516 274h1v1h-1zM517 275h1v1h-1zM518 275h1v1h-1zM519 276h1v1h-1zM520 276h1v1h-1zM521 276h1v1h-1zM522 277h1v1h-1zM523 277h1v1h-1zM524 277h1v1h-1zM525 277h1v1h-1zM526 277h1v1h-1zM527 277h1v1h-1zM528 277h1v1h-1zM529 277h1v1h-1zM530 277h1v1h-1zM531 277h1v1h-1zM532 277h1v1h-1zM533 277h1v1h-1zM534 277h1v1h-1zM535 277h1v1h-1zM536 277h1v1h-1zM537 278h1v1h-1zM538 278h1v1h-1zM539 279h1v1h-1zM540 279h1v1h-1zM541 280h1v1h-1zM542 281h1v1h-1zM543 281h1v1h-1zM544 282h1v1h-1zM545 283h1v1h-1zM546 283h1v1h-1zM547 284h1v1h-1zM548 285h1v1h-1zM549 286h1v1h-1zM550 287h1v1h-1zM551 288h1v1h-1zM552 289h1v1h-1zM553 290h1v1h-1zM554 291h1v1h-1zM554 292h1v1h-1zM555 293h1v1h-1zM556 294h1v1h-1zM556 295h1v1h-1zM557 296h1v1h-1zM558 297h1v1h-1zM558 298h1v1h-1zM559 299h1v1h-1zM560 300h1v1h-1zM560 301h1v1h-1zM561 302h1v1h-1zM562 303h1v1h-1zM562 304h1v1h-1zM563 305h1v1h-1zM564 306h1v1h-1zM564 307h1v1h-1zM565 308h1v1h-1zM566 309h1v1h-1zM566 310h1v1h-1zM567 311h1v1h-1zM567 312h1v1h-1zM568 313h1v1h-1zM568 314h1v1h-1zM569 315h1v1h-1zM570 316h1v1h-1zM570 317h1v1h-1zM571 318h1v1h-1zM572 319h1v1h-1zM573 320h1v1h-1zM573 321h1v1h-1zM574 322h1v1h-1zM575 323h1v1h-1zM576 324h1v1h-1zM577 325h1v1h-1zM577 326h1v1h-1zM578 327h1v1h-1zM579 328h1v1h-1zM579 329h1v1h-1zM580 330h1v1h-1zM580 331h1v1h-1zM581 332h1v1h-1zM581 333h1v1h-1zM582 334h1v1h-1zM582 335h1v1h-1zM583 336h1v2h-1zM583 338h1v1h-1zM584 339h1v1h-1zM584 340h1v1h-1zM585 341h1v1h-1zM585 342h1v1h-1zM586 343h1v1h-1zM587 344h1v1h-1zM587 345h1v1h-1zM588 346h1v1h-1zM588 347h1v1h-1zM589 348h1v1h-1zM589 349h1v1h-1zM590 350h1v1h-1zM590 351h1v1h-1zM591 352h1v1h-1zM591 353h1v1h-1zM592 354h1v1h-1zM592 355h1v1h-1zM593 356h1v1h-1zM593 357h1v1h-1zM594 358h1v1h-1zM594 359h1v1h-1zM595 360h1v1h-1zM595 361h1v1h-1zM596 362h1v2h-1zM596 364h1v1h-1zM597 365h1v2h-1zM597 367h1v1h-1zM598 368h1v2h-1zM598 370h1v1h-1zM599 371h1v2h-1zM599 373h1v1h-1zM600 374h1v2h-1zM600 376h1v1h-1zM601 377h1v2h-1zM601 379h1v1h-1zM602 380h1v2h-1zM602 382h1v1h-1zM603 383h1v2h-1zM603 385h1v1h-1zM604 386h1v2h-1zM605 388h1v1h-1zM605 389h1v1h-1zM606 390h1v1h-1zM607 391h1v1h-1zM607 392h1v1h-1zM608 393h1v1h-1zM609 394h1v1h-1zM609 395h1v1h-1zM610 396h1v1h-1zM611 397h1v1h-1zM612 398h1v1h-1zM613 399h1v1h-1zM613 400h1v1h-1zM614 401h1v1h-1zM615 402h1v1h-1zM616 403h1v1h-1zM617 404h1v1h-1zM617 405h1v1h-1zM618 406h1v1h-1zM619 407h1v1h-1zM619 408h1v1h-1zM620 409h1v1h-1zM621 410h1v1h-1zM621 411h1v1h-1zM622 412h1v1h-1zM623 413h1v1h-1zM623 414h1v1h-1zM624 415h1v1h-1zM625 416h1v1h-1zM626 417h1v1h-1zM626 418h1v1h-1zM627 419h1v1h-1zM628 420h1v1h-1zM629 421h1v1h-1zM629 422h1v1h-1zM630 423h1v1h-1zM631 424h1v1h-1zM631 425h1v1h-1zM632 426h1v1h-1zM633 427h1v1h-1zM633 428h1v1h-1zM634 429h1v1h-1zM634 430h1v1h-1zM635 431h1v1h-1zM635 432h1v1h-1zM636 433h1v1h-1zM636 434h1v1h-1zM637 435h1v1h-1zM638 436h1v1h-1zM639 436h1v1h-1zM640 437h1v1h-1zM641 438h1v1h-1zM642 439h1v1h-1zM643 439h1v1h-1zM644 440h1v1h-1zM645 440h1v1h-1zM646 440h1v1h-1zM647 441h1v1h-1zM648 441h1v1h-1zM649 442h1v1h-1zM650 442h1v1h-1zM651 442h1v1h-1zM652 443h1v1h-1zM653 443h1v1h-1zM654 443h1v1h-1zM655 443h1v1h-1zM656 443h1v1h-1zM657 443h1v1h-1zM658 443h1v1h-1zM659 443h1v1h-1zM660 443h1v1h-1zM661 443h1v1h-1zM662 443h1v1h-1zM663 443h1v1h-1zM664 443h1v1h-1zM665 444h1v1h-1zM666 444h1v1h-1zM667 445h1v1h-1zM668 445h1v1h-1zM669 445h1v1h-1zM670 446h1v1h-1zM671 446h1v1h-1zM672 447h1v1h-1zM673 447h1v1h-1zM674 447h1v1h-1zM675 448h1v1h-1zM676 448h1v1h-1zM677 448h1v1h-1zM678 448h1v1h-1zM679 449h1v1h-1zM680 449h1v1h-1zM681 449h1v1h-1zM682 449h1v1h-1zM683 448h1v1h-1zM684 448h1v1h-1zM685 448h1v1h-1zM686 448h1v1h-1zM687 447h1v1h-1zM688 447h1v1h-1zM689 447h1v1h-1zM690 447h1v1h-1zM691 447h1v1h-1zM692 447h1v1h-1zM693 447h1v1h-1zM694 447h1v1h-1zM695 447h1v1h-1zM696 447h1v1h-1zM697 446h1v1h-1zM698 446h1v1h-1zM699 446h1v1h-1zM700 446h1v1h-1zM701 446h1v1h-1zM702 446h1v1h-1zM703 446h1v1h-1zM704 446h1v1h-1zM705 445h1v1h-1zM706 445h1v1h-1zM707 445h1v1h-1zM708 445h1v1h-1zM709 444h1v1h-1zM710 444h1v1h-1zM711 443h1v1h-1zM712 443h1v1h-1zM713 443h1v1h-1zM714 442h1v1h-1zM715 442h1v1h-1zM716 441h1v1h-1zM717 440h1v1h-1zM718 440h1v1h-1zM719 439h1v1h-1zM720 439h1v1h-1zM721 438h1v1h-1zM722 438h1v1h-1zM723 437h1v1h-1zM724 437h1v1h-1zM725 436h1v1h-1zM726 435h1v1h-1zM727 433h1v2h-1zM728 431h1v2h-1zM729 429h1v2h-1zM730 427h1v2h-1zM731 425h1v2h-1zM731 424h1v1h-1zM732 422h1v2h-1zM733 420h1v2h-1zM733 419h1v1h-1zM734 417h1v2h-1zM735 415h1v2h-1zM736 413h1v2h-1zM737 411h1v2h-1zM738 409h1v2h-1zM739 407h1v2h-1zM740 405h1v2h-1zM741 403h1v2h-1zM742 401h1v2h-1zM743 400h1v1h-1zM744 398h1v2h-1zM745 396h1v2h-1zM746 394h1v2h-1zM747 392h1v2h-1zM748 390h1v2h-1zM749 389h1v1h-1zM750 388h1v1h-1zM751 386h1v2h-1zM752 385h1v1h-1zM753 383h1v2h-1zM754 382h1v1h-1zM755 381h1v1h-1zM756 380h1v1h-1zM757 379h1v1h-1zM758 378h1v1h-1zM759 376h1v2h-1zM760 375h1v1h-1zM761 374h1v1h-1zM762 373h1v1h-1zM763 372h1v1h-1zM764 370h1v2h-1zM765 369h1v1h-1zM766 368h1v1h-1zM767 367h1v1h-1zM768 365h1v2h-1zM769 364h1v1h-1zM770 362h1v2h-1zM771 360h1v2h-1zM772 358h1v2h-1zM773 357h1v1h-1zM774 355h1v2h-1zM775 353h1v2h-1zM776 352h1v1h-1zM777 351h1v1h-1zM778 349h1v2h-1zM779 348h1v1h-1zM780 347h1v1h-1zM781 345h1v2h-1zM782 345h1v1h-1zM783 345h1v1h-1zM784 345h1v1h-1zM785 345h1v1h-1zM786 345h1v1h-1zM787 345h1v1h-1zM788 345h1v1h-1zM789 346h1v1h-1zM790 346h1v1h-1zM791 346h1v1h-1zM792 346h1v1h-1zM793 346h1v1h-1zM794 346h1v1h-1zM795 346h1v1h-1zM796 345h1v1h-1zM797 345h1v1h-1zM798 344h1v1h-1zM799 343h1v1h-1zM800 342h1v1h-1zM801 341h1v1h-1zM802 339h1v2h-1zM803 338h1v1h-1zM804 336h1v2h-1zM805 335h1v1h-1zM806 334h1v1h-1zM807 333h1v1h-1zM808 333h1v1h-1zM809 332h1v1h-1zM810 331h1v1h-1zM811 330h1v1h-1zM812 329h1v1h-1zM813 328h1v1h-1zM814 327h1v1h-1zM815 326h1v1h-1zM816 325h1v1h-1zM817 324h1v1h-1zM818 323h1v1h-1zM819 322h1v1h-1zM820 321h1v1h-1zM821 319h1v2h-1zM822 318h1v1h-1zM823 317h1v1h-1zM824 316h1v1h-1zM825 314h1v2h-1zM826 313h1v1h-1zM827 312h1v1h-1zM828 310h1v2h-1zM829 309h1v1h-1zM830 308h1v1h-1zM831 306h1v2h-1zM832 305h1v1h-1zM833 303h1v2h-1zM834 302h1v1h-1zM835 300h1v2h-1zM836 298h1v2h-1zM836 297h1v1h-1zM837 295h1v2h-1zM837 294h1v1h-1zM838 292h1v2h-1zM838 291h1v1h-1zM839 288h1v3h-1zM839 287h1v1h-1zM840 285h1v2h-1zM841 283h1v2h-1zM842 281h1v2h-1zM843 280h1v1h-1zM844 278h1v2h-1zM845 277h1v1h-1zM846 276h1v1h-1zM847 275h1v1h-1zM848 274h1v1h-1zM849 274h1v1h-1zM850 273h1v1h-1zM851 272h1v1h-1zM852 272h1v1h-1zM853 271h1v1h-1zM854 271h1v1h-1zM855 270h1v1h-1zM856 269h1v1h-1zM857 269h1v1h-1zM858 268h1v1h-1zM859 267h1v1h-1zM860 267h1v1h-1zM861 266h1v1h-1zM862 266h1v1h-1zM863 265h1v1h-1zM864 264h1v1h-1zM865 264h1v1h-1zM866 263h1v1h-1zM867 262h1v1h-1zM868 262h1v1h-1zM869 261h1v1h-1zM870 261h1v1h-1zM871 260h1v1h-1zM872 260h1v1h-1zM873 261h1v1h-1zM874 261h1v1h-1zM875 261h1v1h-1zM876 261h1v1h-1zM877 262h1v1h-1zM878 263h1v1h-1zM879 263h1v1h-1zM880 264h1v1h-1zM881 264h1v1h-1zM882 265h1v1h-1zM883 265h1v1h-1zM884 266h1v1h-1zM885 266h1v1h-1zM886 267h1v1h-1zM887 267h1v1h-1zM888 268h1v1h-1zM889 269h1v1h-1zM890 269h1v1h-1zM891 270h1v1h-1zM892 271h1v1h-1zM893 272h1v1h-1zM893 273h1v1h-1zM894 274h1v1h-1zM894 275h1v1h-1zM895 276h1v1h-1zM895 277h1v1h-1zM896 278h1v1h-1zM897 279h1v1h-1zM898 279h1v1h-1zM899 280h1v1h-1zM900 280h1v1h-1zM901 280h1v1h-1zM902 281h1v1h-1zM903 281h1v1h-1zM904 281h1v1h-1zM905 281h1v1h-1zM906 281h1v1h-1zM907 281h1v1h-1zM908 281h1v1h-1zM909 281h1v1h-1zM910 281h1v1h-1zM911 281h1v1h-1zM912 281h1v1h-1zM913 281h1v1h-1zM914 281h1v1h-1zM915 282h1v1h-1zM916 282h1v1h-1zM917 283h1v1h-1zM918 283h1v1h-1zM919 283h1v1h-1zM920 283h1v1h-1zM921 284h1v1h-1zM922 284h1v1h-1zM923 284h1v1h-1z" fill="#ff0000"/>
<rect x="3" y="156" width="1162" height="2" fill="#ff0000" />
<rect x="3" y="229" width="1162" height="2" fill="#ff0000" />
<rect x="3" y="291" width="1162" height="2" fill="#00ff00" />
<rect x="3" y="364" width="1162" height="2" fill="#0000ff" />
<rect x="3" y="451" width="1162" height="2" fill="#0000ff" />
<rect x="3" y="47" width="2" height="15" fill="#32cd32" />
<rect x="3" y="44" width="1" height="1" fill="#ffff00" />
<rect x="3" y="65" width="1" height="1" fill="#ff0000" />
<rect x="35" y="101" width="1" height="6" fill="#32cd32" />
<rect x="34" y="101" width="3" height="1" fill="#32cd32" />
<rect x="39" y="101" width="1" height="13" fill="#32cd32" />
<rect x="38" y="101" width="3" height="6" fill="#32cd32" />
<rect x="43" y="101" width="1" height="15" fill="#ff0000" />
<rect x="42" y="101" width="3" height="6" fill="#ff0000" />
<rect x="43" y="102" width="1" height="4" fill="#ff4500" />
<rect x="47" y="101" width="1" height="20" fill="#32cd32" />
<rect x="46" y="101" width="3" height="18" fill="#32cd32" />
<rect x="51" y="112" width="1" height="9" fill="#ff0000" />
<rect x="50" y="115" width="3" height="5" fill="#ff0000" />
<rect x="51" y="116" width="1" height="3" fill="#ff4500" />
<rect x="55" y="112" width="1" height="27" fill="#32cd32" />
<rect x="54" y="116" width="3" height="10" fill="#32cd32" />
<rect x="59" y="106" width="1" height="26" fill="#ff0000" />
<rect x="58" y="124" width="3" height="2" fill="#ff0000" />
<rect x="63" y="123" width="1" height="19" fill="#32cd32" />
<rect x="62" y="124" width="3" height="8" fill="#32cd32" />
<rect x="67" y="131" width="1" height="27" fill="#32cd32" />
<rect x="66" y="132" width="3" height="26" fill="#32cd32" />
<rect x="71" y="152" width="1" height="35" fill="#32cd32" />
<rect x="70" y="157" width="3" height="25" fill="#32cd32" />
<rect x="75" y="180" width="1" height="12" fill="#32cd32" />
<rect x="74" y="181" width="3" height="10" fill="#32cd32" />
<rect x="79" y="171" width="1" height="26" fill="#ff0000" />
<rect x="78" y="179" width="3" height="12" fill="#ff0000" />
<rect x="79" y="180" width="1" height="10" fill="#ff4500" />
<rect x="83" y="179" width="1" height="17" fill="#32cd32" />
<rect x="82" y="179" width="3" height="8" fill="#32cd32" />
<rect x="87" y="174" width="1" height="20" fill="#ff0000" />
<rect x="86" y="182" width="3" height="5" fill="#ff0000" />
<rect x="87" y="183" width="1" height="3" fill="#ff4500" />
<rect x="91" y="171" width="1" height="47" fill="#32cd32" />
<rect x="90" y="182" width="3" height="33" fill="#32cd32" />
<rect x="95" y="186" width="1" height="30" fill="#ff0000" />
<rect x="94" y="193" width="3" height="22" fill="#ff0000" />
<rect x="95" y="194" width="1" height="20" fill="#ff4500" />
<rect x="99" y="192" width="1" height="8" fill="#32cd32" />
<rect x="98" y="193" width="3" height="1" fill="#32cd32" />
<rect x="103" y="192" width="1" height="20" fill="#ff0000" />
<rect x="102" y="193" width="3" height="9" fill="#ff0000" />
<rect x="103" y="194" width="1" height="7" fill="#ff4500" />
<rect x="107" y="187" width="1" height="22" fill="#32cd32" />
<rect x="106" y="193" width="3" height="15" fill="#32cd32" />
<rect x="111" y="196" width="1" height="29" fill="#ff0000" />
<rect x="110" y="197" width="3" height="9" fill="#ff0000" />
<rect x="111" y="198" width="1" height="7" fill="#ff4500" />
<rect x="115" y="187" width="1" height="37" fill="#32cd32" />
<rect x="114" y="198" width="3" height="15" fill="#32cd32" />
<rect x="119" y="190" width="1" height="26" fill="#ff0000" />
<rect x="118" y="192" width="3" height="21" fill="#ff0000" />
<rect x="119" y="193" width="1" height="19" fill="#ff4500" />
<rect x="123" y="183" width="1" height="11" fill="#ff0000" />
<rect x="122" y="187" width="3" height="6" fill="#ff0000" />
<rect x="123" y="188" width="1" height="4" fill="#ff4500" />
<rect x="127" y="126" width="1" height="62" fill="#ff0000" />
<rect x="126" y="157" width="3" height="30" fill="#ff0000" />
<rect x="127" y="158" width="1" height="28" fill="#ff4500" />
<rect x="131" y="134" width="1" height="42" fill="#ff0000" />
<rect x="130" y="136" width="3" height="21" fill="#ff0000" />
<rect x="131" y="137" width="1" height="19" fill="#ff4500" />
<rect x="135" y="134" width="1" height="33" fill="#32cd32" />
<rect x="134" y="136" width="3" height="26" fill="#32cd32" />
<rect x="139" y="159" width="1" height="17" fill="#32cd32" />
<rect x="138" y="161" width="3" height="8" fill="#32cd32" />
<rect x="143" y="166" width="1" height="12" fill="#ff0000" />
<rect x="142" y="167" width="3" height="2" fill="#ff0000" />
<rect x="147" y="155" width="1" height="25" fill="#ff0000" />
<rect x="146" y="159" width="3" height="6" fill="#ff0000" />
<rect x="147" y="160" width="1" height="4" fill="#ff4500" />
<rect x="151" y="155" width="1" height="35" fill="#32cd32" />
<rect x="150" y="159" width="3" height="24" fill="#32cd32" />
<rect x="155" y="173" width="1" height="27" fill="#32cd32" />
<rect x="154" y="182" width="3" height="17" fill="#32cd32" />
<rect x="159" y="194" width="1" height="18" fill="#32cd32" />
<rect x="158" y="198" width="3" height="9" fill="#32cd32" />
<rect x="163" y="194" width="1" height="22" fill="#32cd32" />
<rect x="162" y="206" width="3" height="9" fill="#32cd32" />
<rect x="167" y="203" width="1" height="30" fill="#ff0000" />
<rect x="166" y="206" width="3" height="3" fill="#ff0000" />
<rect x="167" y="207" width="1" height="1" fill="#ff4500" />
<rect x="171" y="184" width="1" height="26" fill="#ff0000" />
<rect x="170" y="205" width="3" height="2" fill="#ff0000" />
<rect x="175" y="204" width="1" height="41" fill="#32cd32" />
<rect x="174" y="205" width="3" height="17" fill="#32cd32" />
<rect x="179" y="207" width="1" height="27" fill="#ff0000" />
<rect x="178" y="211" width="3" height="11" fill="#ff0000" />
<rect x="179" y="212" width="1" height="9" fill="#ff4500" />
<rect x="183" y="208" width="1" height="27" fill="#32cd32" />
<rect x="182" y="212" width="3" height="12" fill="#32cd32" />
<rect x="187" y="204" width="1" height="21" fill="#ff0000" />
<rect x="186" y="215" width="3" height="9" fill="#ff0000" />
<rect x="187" y="216" width="1" height="7" fill="#ff4500" />
<rect x="191" y="171" width="1" height="55" fill="#ff0000" />
<rect x="190" y="182" width="3" height="41" fill="#ff0000" />
<rect x="191" y="183" width="1" height="39" fill="#ff4500" />
<rect x="195" y="182" width="1" height="26" fill="#32cd32" />
<rect x="194" y="182" width="3" height="14" fill="#32cd32" />
<rect x="199" y="195" width="1" height="24" fill="#32cd32" />
<rect x="198" y="195" width="3" height="18" fill="#32cd32" />
<rect x="203" y="209" width="1" height="31" fill="#32cd32" />
<rect x="202" y="212" width="3" height="26" fill="#32cd32" />
<rect x="207" y="196" width="1" height="51" fill="#ff0000" />
<rect x="206" y="199" width="3" height="39" fill="#ff0000" />
<rect x="207" y="200" width="1" height="37" fill="#ff4500" />
<rect x="211" y="197" width="1" height="22" fill="#32cd32" />
<rect x="210" y="199" width="3" height="11" fill="#32cd32" />
<rect x="215" y="184" width="1" height="28" fill="#ff0000" />
<rect x="214" y="197" width="3" height="13" fill="#ff0000" />
<rect x="215" y="198" width="1" height="11" fill="#ff4500" />
<rect x="219" y="195" width="1" height="18" fill="#32cd32" />
<rect x="218" y="197" width="3" height="10" fill="#32cd32" />
<rect x="223" y="204" width="1" height="51" fill="#32cd32" />
<rect x="222" y="206" width="3" height="40" fill="#32cd32" />
<rect x="227" y="237" width="1" height="24" fill="#32cd32" />
<rect x="226" y="246" width="3" height="4" fill="#32cd32" />
<rect x="231" y="212" width="1" height="38" fill="#ff0000" />
<rect x="230" y="213" width="3" height="37" fill="#ff0000" />
<rect x="231" y="214" width="1" height="35" fill="#ff4500" />
<rect x="235" y="205" width="1" height="14" fill="#ff0000" />
<rect x="234" y="209" width="3" height="5" fill="#ff0000" />
<rect x="235" y="210" width="1" height="3" fill="#ff4500" />
<rect x="239" y="200" width="1" height="25" fill="#ff0000" />
<rect x="238" y="202" width="3" height="10" fill="#ff0000" />
<rect x="239" y="203" width="1" height="8" fill="#ff4500" />
<rect x="243" y="189" width="1" height="33" fill="#32cd32" />
<rect x="242" y="202" width="3" height="17" fill="#32cd32" />
<rect x="247" y="175" width="1" height="51" fill="#ff0000" />
<rect x="246" y="192" width="3" height="27" fill="#ff0000" />
<rect x="247" y="193" width="1" height="25" fill="#ff4500" />
<rect x="251" y="153" width="1" height="48" fill="#ff0000" />
<rect x="250" y="181" width="3" height="12" fill="#ff0000" />
<rect x="251" y="182" width="1" height="10" fill="#ff4500" />
<rect x="255" y="156" width="1" height="50" fill="#32cd32" />
<rect x="254" y="181" width="3" height="14" fill="#32cd32" />
<rect x="259" y="175" width="1" height="21" fill="#ff0000" />
<rect x="258" y="182" width="3" height="13" fill="#ff0000" />
<rect x="259" y="183" width="1" height="11" fill="#ff4500" />
<rect x="263" y="169" width="1" height="29" fill="#ff0000" />
<rect x="262" y="170" width="3" height="18" fill="#ff0000" />
<rect x="263" y="171" width="1" height="16" fill="#ff4500" />
<rect x="267" y="157" width="1" height="33" fill="#32cd32" />
<rect x="266" y="170" width="3" height="3" fill="#32cd32" />
<rect x="271" y="170" width="1" height="26" fill="#32cd32" />
<rect x="270" y="171" width="3" height="17" fill="#32cd32" />
<rect x="275" y="167" width="1" height="28" fill="#ff0000" />
<rect x="274" y="169" width="3" height="19" fill="#ff0000" />
<rect x="275" y="170" width="1" height="17" fill="#ff4500" />
<rect x="279" y="166" width="1" height="28" fill="#32cd32" />
<rect x="278" y="169" width="3" height="24" fill="#32cd32" />
<rect x="283" y="189" width="1" height="7" fill="#32cd32" />
<rect x="282" y="192" width="3" height="2" fill="#32cd32" />
<rect x="287" y="189" width="1" height="16" fill="#32cd32" />
<rect x="286" y="199" width="3" height="2" fill="#32cd32" />
<rect x="291" y="194" width="1" height="22" fill="#32cd32" />
<rect x="290" y="198" width="3" height="15" fill="#32cd32" />
<rect x="295" y="207" width="1" height="25" fill="#32cd32" />
<rect x="294" y="212" width="3" height="15" fill="#32cd32" />
<rect x="299" y="215" width="1" height="20" fill="#ff0000" />
<rect x="298" y="225" width="3" height="2" fill="#ff0000" />
<rect x="303" y="196" width="1" height="31" fill="#ff0000" />
<rect x="302" y="218" width="3" height="8" fill="#ff0000" />
<rect x="303" y="219" width="1" height="6" fill="#ff4500" />
<rect x="307" y="215" width="1" height="14" fill="#32cd32" />
<rect x="306" y="218" width="3" height="1" fill="#32cd32" />
<rect x="311" y="223" width="1" height="19" fill="#32cd32" />
<rect x="310" y="225" width="3" height="16" fill="#32cd32" />
<rect x="315" y="221" width="1" height="32" fill="#ff0000" />
<rect x="314" y="228" width="3" height="12" fill="#ff0000" />
<rect x="315" y="229" width="1" height="10" fill="#ff4500" />
<rect x="319" y="203" width="1" height="26" fill="#ff0000" />
<rect x="318" y="210" width="3" height="18" fill="#ff0000" />
<rect x="319" y="211" width="1" height="16" fill="#ff4500" />
<rect x="323" y="205" width="1" height="28" fill="#32cd32" />
<rect x="322" y="210" width="3" height="3" fill="#32cd32" />
<rect x="327" y="211" width="1" height="44" fill="#32cd32" />
<rect x="326" y="212" width="3" height="42" fill="#32cd32" />
<rect x="331" y="245" width="1" height="14" fill="#ff0000" />
<rect x="330" y="248" width="3" height="6" fill="#ff0000" />
<rect x="331" y="249" width="1" height="4" fill="#ff4500" />
<rect x="335" y="236" width="1" height="28" fill="#ff0000" />
<rect x="334" y="251" width="3" height="2" fill="#ff0000" />
<rect x="339" y="239" width="1" height="23" fill="#32cd32" />
<rect x="338" y="251" width="3" height="7" fill="#32cd32" />
<rect x="343" y="251" width="1" height="24" fill="#32cd32" />
<rect x="342" y="257" width="3" height="13" fill="#32cd32" />
<rect x="347" y="269" width="1" height="36" fill="#32cd32" />
<rect x="346" y="269" width="3" height="19" fill="#32cd32" />
<rect x="351" y="225" width="1" height="64" fill="#ff0000" />
<rect x="350" y="234" width="3" height="55" fill="#ff0000" />
<rect x="351" y="235" width="1" height="53" fill="#ff4500" />
<rect x="355" y="209" width="1" height="28" fill="#ff0000" />
<rect x="354" y="216" width="3" height="19" fill="#ff0000" />
<rect x="355" y="217" width="1" height="17" fill="#ff4500" />
<rect x="359" y="207" width="1" height="32" fill="#32cd32" />
<rect x="358" y="208" width="3" height="28" fill="#32cd32" />
<rect x="363" y="220" width="1" height="30" fill="#32cd32" />
<rect x="362" y="235" width="3" height="14" fill="#32cd32" />
<rect x="367" y="236" width="1" height="23" fill="#ff0000" />
<rect x="366" y="246" width="3" height="3" fill="#ff0000" />
<rect x="367" y="247" width="1" height="1" fill="#ff4500" />
<rect x="371" y="229" width="1" height="27" fill="#32cd32" />
<rect x="370" y="246" width="3" height="8" fill="#32cd32" />
<rect x="375" y="206" width="1" height="60" fill="#ff0000" />
<rect x="374" y="224" width="3" height="30" fill="#ff0000" />
<rect x="375" y="225" width="1" height="28" fill="#ff4500" />
<rect x="379" y="222" width="1" height="16" fill="#32cd32" />
<rect x="378" y="225" width="3" height="8" fill="#32cd32" />
<rect x="383" y="219" width="1" height="30" fill="#ff0000" />
<rect x="382" y="233" width="3" height="7" fill="#ff0000" />
<rect x="383" y="234" width="1" height="5" fill="#ff4500" />
<rect x="387" y="225" width="1" height="35" fill="#32cd32" />
<rect x="386" y="233" width="3" height="9" fill="#32cd32" />
<rect x="391" y="226" width="1" height="26" fill="#32cd32" />
<rect x="390" y="241" width="3" height="1" fill="#32cd32" />
<rect x="395" y="233" width="1" height="36" fill="#32cd32" />
<rect x="394" y="241" width="3" height="27" fill="#32cd32" />
<rect x="399" y="264" width="1" height="32" fill="#32cd32" />
<rect x="398" y="267" width="3" height="28" fill="#32cd32" />
<rect x="403" y="293" width="1" height="14" fill="#32cd32" />
<rect x="402" y="294" width="3" height="11" fill="#32cd32" />
<rect x="407" y="288" width="1" height="27" fill="#ff0000" />
<rect x="406" y="296" width="3" height="6" fill="#ff0000" />
<rect x="407" y="297" width="1" height="4" fill="#ff4500" />
<rect x="411" y="292" width="1" height="20" fill="#32cd32" />
<rect x="410" y="296" width="3" height="16" fill="#32cd32" />
<rect x="415" y="295" width="1" height="22" fill="#ff0000" />
<rect x="414" y="301" width="3" height="11" fill="#ff0000" />
<rect x="415" y="302" width="1" height="9" fill="#ff4500" />
<rect x="419" y="295" width="1" height="48" fill="#32cd32" />
<rect x="418" y="301" width="3" height="16" fill="#32cd32" />
<rect x="423" y="275" width="1" height="47" fill="#ff0000" />
<rect x="422" y="288" width="3" height="29" fill="#ff0000" />
<rect x="423" y="289" width="1" height="27" fill="#ff4500" />
<rect x="427" y="288" width="1" height="11" fill="#32cd32" />
<rect x="426" y="288" width="3" height="7" fill="#32cd32" />
<rect x="431" y="278" width="1" height="25" fill="#ff0000" />
<rect x="430" y="282" width="3" height="2" fill="#ff0000" />
<rect x="435" y="258" width="1" height="33" fill="#ff0000" />
<rect x="434" y="275" width="3" height="8" fill="#ff0000" />
<rect x="435" y="276" width="1" height="6" fill="#ff4500" />
<rect x="439" y="253" width="1" height="31" fill="#ff0000" />
<rect x="438" y="273" width="3" height="3" fill="#ff0000" />
<rect x="439" y="274" width="1" height="1" fill="#ff4500" />
<rect x="443" y="245" width="1" height="33" fill="#ff0000" />
<rect x="442" y="251" width="3" height="24" fill="#ff0000" />
<rect x="443" y="252" width="1" height="22" fill="#ff4500" />
<rect x="447" y="247" width="1" height="24" fill="#32cd32" />
<rect x="446" y="251" width="3" height="14" fill="#32cd32" />
<rect x="451" y="253" width="1" height="14" fill="#ff0000" />
<rect x="450" y="258" width="3" height="7" fill="#ff0000" />
<rect x="451" y="259" width="1" height="5" fill="#ff4500" />
<rect x="455" y="246" width="1" height="19" fill="#ff0000" />
<rect x="454" y="259" width="3" height="5" fill="#ff0000" />
<rect x="455" y="260" width="1" height="3" fill="#ff4500" />
<rect x="459" y="239" width="1" height="25" fill="#ff0000" />
<rect x="458" y="246" width="3" height="14" fill="#ff0000" />
<rect x="459" y="247" width="1" height="12" fill="#ff4500" />
<rect x="463" y="240" width="1" height="39" fill="#32cd32" />
<rect x="462" y="246" width="3" height="21" fill="#32cd32" />
<rect x="467" y="255" width="1" height="18" fill="#32cd32" />
<rect x="466" y="266" width="3" height="2" fill="#32cd32" />
<rect x="471" y="267" width="1" height="11" fill="#32cd32" />
<rect x="470" y="267" width="3" height="11" fill="#32cd32" />
<rect x="475" y="266" width="1" height="8" fill="#ff0000" />
<rect x="474" y="267" width="3" height="3" fill="#ff0000" />
<rect x="475" y="268" width="1" height="1" fill="#ff4500" />
<rect x="479" y="258" width="1" height="34" fill="#32cd32" />
<rect x="478" y="267" width="3" height="21" fill="#32cd32" />
<rect x="483" y="265" width="1" height="24" fill="#ff0000" />
<rect x="482" y="278" width="3" height="10" fill="#ff0000" />
<rect x="483" y="279" width="1" height="8" fill="#ff4500" />
<rect x="487" y="243" width="1" height="36" fill="#ff0000" />
<rect x="486" y="250" width="3" height="28" fill="#ff0000" />
<rect x="487" y="251" width="1" height="26" fill="#ff4500" />
<rect x="491" y="244" width="1" height="22" fill="#32cd32" />
<rect x="490" y="251" width="3" height="15" fill="#32cd32" />
<rect x="495" y="252" width="1" height="27" fill="#32cd32" />
<rect x="494" y="265" width="3" height="14" fill="#32cd32" />
<rect x="499" y="276" width="1" height="8" fill="#32cd32" />
<rect x="498" y="278" width="3" height="4" fill="#32cd32" />
<rect x="503" y="266" width="1" height="17" fill="#ff0000" />
<rect x="502" y="272" width="3" height="10" fill="#ff0000" />
<rect x="503" y="273" width="1" height="8" fill="#ff4500" />
<rect x="507" y="246" width="1" height="33" fill="#32cd32" />
<rect x="506" y="272" width="3" height="6" fill="#32cd32" />
<rect x="511" y="265" width="1" height="24" fill="#32cd32" />
<rect x="510" y="277" width="3" height="11" fill="#32cd32" />
<rect x="515" y="271" width="1" height="31" fill="#ff0000" />
<rect x="514" y="278" width="3" height="10" fill="#ff0000" />
<rect x="515" y="279" width="1" height="8" fill="#ff4500" />
<rect x="519" y="271" width="1" height="25" fill="#32cd32" />
<rect x="518" y="278" width="3" height="16" fill="#32cd32" />
<rect x="523" y="289" width="1" height="6" fill="#ff0000" />
<rect x="522" y="292" width="3" height="2" fill="#ff0000" />
<rect x="527" y="278" width="1" height="26" fill="#ff0000" />
<rect x="526" y="278" width="3" height="10" fill="#ff0000" />
<rect x="527" y="279" width="1" height="8" fill="#ff4500" />
<rect x="531" y="261" width="1" height="40" fill="#ff0000" />
<rect x="530" y="265" width="3" height="16" fill="#ff0000" />
<rect x="531" y="266" width="1" height="14" fill="#ff4500" />
<rect x="535" y="236" width="1" height="72" fill="#32cd32" />
<rect x="534" y="265" width="3" height="34" fill="#32cd32" />
<rect x="539" y="281" width="1" height="22" fill="#ff0000" />
<rect x="538" y="296" width="3" height="3" fill="#ff0000" />
<rect x="539" y="297" width="1" height="1" fill="#ff4500" />
<rect x="543" y="288" width="1" height="16" fill="#ff0000" />
<rect x="542" y="294" width="3" height="3" fill="#ff0000" />
<rect x="543" y="295" width="1" height="1" fill="#ff4500" />
<rect x="547" y="289" width="1" height="15" fill="#32cd32" />
<rect x="546" y="294" width="3" height="9" fill="#32cd32" />
<rect x="551" y="296" width="1" height="40" fill="#32cd32" />
<rect x="550" y="299" width="3" height="31" fill="#32cd32" />
<rect x="555" y="322" width="1" height="12" fill="#32cd32" />
<rect x="554" y="330" width="3" height="1" fill="#32cd32" />
<rect x="559" y="322" width="1" height="25" fill="#32cd32" />
<rect x="558" y="330" width="3" height="16" fill="#32cd32" />
<rect x="563" y="344" width="1" height="30" fill="#32cd32" />
<rect x="562" y="345" width="3" height="22" fill="#32cd32" />
<rect x="567" y="358" width="1" height="21" fill="#32cd32" />
<rect x="566" y="367" width="3" height="3" fill="#32cd32" />
<rect x="571" y="367" width="1" height="9" fill="#32cd32" />
<rect x="570" y="368" width="3" height="4" fill="#32cd32" />
<rect x="575" y="359" width="1" height="20" fill="#32cd32" />
<rect x="574" y="371" width="3" height="4" fill="#32cd32" />
<rect x="579" y="347" width="1" height="31" fill="#ff0000" />
<rect x="578" y="358" width="3" height="17" fill="#ff0000" />
<rect x="579" y="359" width="1" height="15" fill="#ff4500" />
<rect x="583" y="358" width="1" height="26" fill="#32cd32" />
<rect x="582" y="358" width="3" height="22" fill="#32cd32" />
<rect x="587" y="370" width="1" height="39" fill="#32cd32" />
<rect x="586" y="379" width="3" height="27" fill="#32cd32" />
<rect x="591" y="404" width="1" height="26" fill="#32cd32" />
<rect x="590" y="405" width="3" height="21" fill="#32cd32" />
<rect x="595" y="417" width="1" height="9" fill="#ff0000" />
<rect x="594" y="424" width="3" height="2" fill="#ff0000" />
<rect x="599" y="427" width="1" height="19" fill="#32cd32" />
<rect x="598" y="428" width="3" height="17" fill="#32cd32" />
<rect x="603" y="429" width="1" height="18" fill="#ff0000" />
<rect x="602" y="441" width="3" height="4" fill="#ff0000" />
<rect x="603" y="442" width="1" height="2" fill="#ff4500" />
<rect x="607" y="427" width="1" height="32" fill="#ff0000" />
<rect x="606" y="437" width="3" height="5" fill="#ff0000" />
<rect x="607" y="438" width="1" height="3" fill="#ff4500" />
<rect x="611" y="418" width="1" height="22" fill="#ff0000" />
<rect x="610" y="422" width="3" height="16" fill="#ff0000" />
<rect x="611" y="423" width="1" height="14" fill="#ff4500" />
<rect x="615" y="401" width="1" height="46" fill="#32cd32" />
<rect x="614" y="422" width="3" height="12" fill="#32cd32" />
<rect x="619" y="429" width="1" height="7" fill="#32cd32" />
<rect x="618" y="433" width="3" height="2" fill="#32cd32" />
<rect x="623" y="425" width="1" height="25" fill="#32cd32" />
<rect x="622" y="432" width="3" height="17" fill="#32cd32" />
<rect x="627" y="445" width="1" height="26" fill="#32cd32" />
<rect x="626" y="448" width="3" height="6" fill="#32cd32" />
<rect x="631" y="430" width="1" height="28" fill="#ff0000" />
<rect x="630" y="443" width="3" height="11" fill="#ff0000" />
<rect x="631" y="444" width="1" height="9" fill="#ff4500" />
<rect x="635" y="422" width="1" height="36" fill="#32cd32" />
<rect x="634" y="443" width="3" height="15" fill="#32cd32" />
<rect x="639" y="440" width="1" height="25" fill="#ff0000" />
<rect x="638" y="448" width="3" height="10" fill="#ff0000" />
<rect x="639" y="449" width="1" height="8" fill="#ff4500" />
<rect x="643" y="441" width="1" height="12" fill="#32cd32" />
<rect x="642" y="448" width="3" height="4" fill="#32cd32" />
<rect x="647" y="444" width="1" height="14" fill="#ff0000" />
<rect x="646" y="445" width="3" height="3" fill="#ff0000" />
<rect x="647" y="446" width="1" height="1" fill="#ff4500" />
<rect x="651" y="445" width="1" height="20" fill="#32cd32" />
<rect x="650" y="446" width="3" height="4" fill="#32cd32" />
<rect x="655" y="430" width="1" height="30" fill="#ff0000" />
<rect x="654" y="435" width="3" height="15" fill="#ff0000" />
<rect x="655" y="436" width="1" height="13" fill="#ff4500" />
<rect x="659" y="423" width="1" height="33" fill="#32cd32" />
<rect x="658" y="435" width="3" height="13" fill="#32cd32" />
<rect x="663" y="431" width="1" height="22" fill="#ff0000" />
<rect x="662" y="443" width="3" height="5" fill="#ff0000" />
<rect x="663" y="444" width="1" height="3" fill="#ff4500" />
<rect x="667" y="441" width="1" height="8" fill="#32cd32" />
<rect x="666" y="443" width="3" height="4" fill="#32cd32" />
<rect x="671" y="443" width="1" height="11" fill="#32cd32" />
<rect x="670" y="447" width="3" height="4" fill="#32cd32" />
<rect x="675" y="448" width="1" height="26" fill="#32cd32" />
<rect x="674" y="450" width="3" height="14" fill="#32cd32" />
<rect x="679" y="443" width="1" height="22" fill="#ff0000" />
<rect x="678" y="458" width="3" height="6" fill="#ff0000" />
<rect x="679" y="459" width="1" height="4" fill="#ff4500" />
<rect x="683" y="431" width="1" height="34" fill="#ff0000" />
<rect x="682" y="432" width="3" height="26" fill="#ff0000" />
<rect x="683" y="433" width="1" height="24" fill="#ff4500" />
<rect x="687" y="426" width="1" height="24" fill="#32cd32" />
<rect x="686" y="432" width="3" height="16" fill="#32cd32" />
<rect x="691" y="442" width="1" height="7" fill="#32cd32" />
<rect x="690" y="443" width="3" height="5" fill="#32cd32" />
<rect x="695" y="436" width="1" height="17" fill="#32cd32" />
<rect x="694" y="447" width="3" height="5" fill="#32cd32" />
<rect x="699" y="437" width="1" height="18" fill="#ff0000" />
<rect x="698" y="438" width="3" height="14" fill="#ff0000" />
<rect x="699" y="439" width="1" height="12" fill="#ff4500" />
<rect x="703" y="432" width="1" height="23" fill="#ff0000" />
<rect x="702" y="438" width="3" height="1" fill="#ff0000" />
<rect x="707" y="430" width="1" height="20" fill="#32cd32" />
<rect x="706" y="438" width="3" height="3" fill="#32cd32" />
<rect x="711" y="415" width="1" height="30" fill="#ff0000" />
<rect x="710" y="416" width="3" height="25" fill="#ff0000" />
<rect x="711" y="417" width="1" height="23" fill="#ff4500" />
<rect x="715" y="410" width="1" height="8" fill="#ff0000" />
<rect x="714" y="414" width="3" height="3" fill="#ff0000" />
<rect x="715" y="415" width="1" height="1" fill="#ff4500" />
<rect x="719" y="412" width="1" height="17" fill="#32cd32" />
<rect x="718" y="417" width="3" height="11" fill="#32cd32" />
<rect x="723" y="401" width="1" height="28" fill="#ff0000" />
<rect x="722" y="401" width="3" height="27" fill="#ff0000" />
<rect x="723" y="402" width="1" height="25" fill="#ff4500" />
<rect x="727" y="401" width="1" height="14" fill="#32cd32" />
<rect x="726" y="401" width="3" height="14" fill="#32cd32" />
<rect x="731" y="345" width="1" height="74" fill="#ff0000" />
<rect x="730" y="346" width="3" height="70" fill="#ff0000" />
<rect x="731" y="347" width="1" height="68" fill="#ff4500" />
<rect x="735" y="300" width="1" height="52" fill="#ff0000" />
<rect x="734" y="316" width="3" height="31" fill="#ff0000" />
<rect x="735" y="317" width="1" height="29" fill="#ff4500" />
<rect x="739" y="314" width="1" height="10" fill="#32cd32" />
<rect x="738" y="315" width="3" height="6" fill="#32cd32" />
<rect x="743" y="297" width="1" height="45" fill="#32cd32" />
<rect x="742" y="312" width="3" height="29" fill="#32cd32" />
<rect x="747" y="328" width="1" height="19" fill="#32cd32" />
<rect x="746" y="340" width="3" height="3" fill="#32cd32" />
<rect x="751" y="342" width="1" height="42" fill="#32cd32" />
<rect x="750" y="342" width="3" height="29" fill="#32cd32" />
<rect x="755" y="351" width="1" height="22" fill="#ff0000" />
<rect x="754" y="352" width="3" height="20" fill="#ff0000" />
<rect x="755" y="353" width="1" height="18" fill="#ff4500" />
<rect x="759" y="351" width="1" height="25" fill="#32cd32" />
<rect x="758" y="352" width="3" height="17" fill="#32cd32" />
<rect x="763" y="362" width="1" height="7" fill="#ff0000" />
<rect x="762" y="363" width="3" height="6" fill="#ff0000" />
<rect x="763" y="364" width="1" height="4" fill="#ff4500" />
<rect x="767" y="348" width="1" height="22" fill="#ff0000" />
<rect x="766" y="356" width="3" height="12" fill="#ff0000" />
<rect x="767" y="357" width="1" height="10" fill="#ff4500" />
<rect x="771" y="330" width="1" height="28" fill="#ff0000" />
<rect x="770" y="337" width="3" height="20" fill="#ff0000" />
<rect x="771" y="338" width="1" height="18" fill="#ff4500" />
<rect x="775" y="320" width="1" height="26" fill="#ff0000" />
<rect x="774" y="327" width="3" height="11" fill="#ff0000" />
<rect x="775" y="328" width="1" height="9" fill="#ff4500" />
<rect x="779" y="319" width="1" height="24" fill="#ff0000" />
<rect x="778" y="327" width="3" height="1" fill="#ff0000" />
<rect x="783" y="311" width="1" height="40" fill="#32cd32" />
<rect x="782" y="327" width="3" height="23" fill="#32cd32" />
<rect x="787" y="346" width="1" height="17" fill="#32cd32" />
<rect x="786" y="349" width="3" height="11" fill="#32cd32" />
<rect x="791" y="339" width="1" height="18" fill="#ff0000" />
<rect x="790" y="354" width="3" height="2" fill="#ff0000" />
<rect x="795" y="294" width="1" height="71" fill="#ff0000" />
<rect x="794" y="306" width="3" height="49" fill="#ff0000" />
<rect x="795" y="307" width="1" height="47" fill="#ff4500" />
<rect x="799" y="285" width="1" height="35" fill="#ff0000" />
<rect x="798" y="291" width="3" height="15" fill="#ff0000" />
<rect x="799" y="292" width="1" height="13" fill="#ff4500" />
<rect x="803" y="259" width="1" height="53" fill="#ff0000" />
<rect x="802" y="280" width="3" height="11" fill="#ff0000" />
<rect x="803" y="281" width="1" height="9" fill="#ff4500" />
<rect x="807" y="272" width="1" height="34" fill="#32cd32" />
<rect x="806" y="280" width="3" height="22" fill="#32cd32" />
<rect x="811" y="298" width="1" height="13" fill="#32cd32" />
<rect x="810" y="301" width="3" height="9" fill="#32cd32" />
<rect x="815" y="287" width="1" height="26" fill="#ff0000" />
<rect x="814" y="309" width="3" height="2" fill="#ff0000" />
<rect x="819" y="278" width="1" height="36" fill="#ff0000" />
<rect x="818" y="289" width="3" height="21" fill="#ff0000" />
<rect x="819" y="290" width="1" height="19" fill="#ff4500" />
<rect x="823" y="283" width="1" height="37" fill="#ff0000" />
<rect x="822" y="284" width="3" height="6" fill="#ff0000" />
<rect x="823" y="285" width="1" height="4" fill="#ff4500" />
<rect x="827" y="261" width="1" height="34" fill="#ff0000" />
<rect x="826" y="263" width="3" height="22" fill="#ff0000" />
<rect x="827" y="264" width="1" height="20" fill="#ff4500" />
<rect x="831" y="251" width="1" height="20" fill="#ff0000" />
<rect x="830" y="261" width="3" height="3" fill="#ff0000" />
<rect x="831" y="262" width="1" height="1" fill="#ff4500" />
<rect x="835" y="253" width="1" height="12" fill="#ff0000" />
<rect x="834" y="254" width="3" height="8" fill="#ff0000" />
<rect x="835" y="255" width="1" height="6" fill="#ff4500" />
<rect x="839" y="180" width="1" height="72" fill="#ff0000" />
<rect x="838" y="200" width="3" height="49" fill="#ff0000" />
<rect x="839" y="201" width="1" height="47" fill="#ff4500" />
<rect x="843" y="188" width="1" height="24" fill="#32cd32" />
<rect x="842" y="200" width="3" height="11" fill="#32cd32" />
<rect x="847" y="208" width="1" height="76" fill="#32cd32" />
<rect x="846" y="210" width="3" height="69" fill="#32cd32" />
<rect x="851" y="258" width="1" height="25" fill="#ff0000" />
<rect x="850" y="264" width="3" height="15" fill="#ff0000" />
<rect x="851" y="265" width="1" height="13" fill="#ff4500" />
<rect x="855" y="253" width="1" height="21" fill="#ff0000" />
<rect x="854" y="262" width="3" height="3" fill="#ff0000" />
<rect x="855" y="263" width="1" height="1" fill="#ff4500" />
<rect x="859" y="262" width="1" height="6" fill="#32cd32" />
<rect x="858" y="263" width="3" height="3" fill="#32cd32" />
<rect x="863" y="259" width="1" height="24" fill="#32cd32" />
<rect x="862" y="266" width="3" height="13" fill="#32cd32" />
<rect x="867" y="258" width="1" height="22" fill="#ff0000" />
<rect x="866" y="263" width="3" height="16" fill="#ff0000" />
<rect x="867" y="264" width="1" height="14" fill="#ff4500" />
<rect x="871" y="254" width="1" height="19" fill="#32cd32" />
<rect x="870" y="263" width="3" height="7" fill="#32cd32" />
<rect x="875" y="255" width="1" height="61" fill="#32cd32" />
<rect x="874" y="269" width="3" height="45" fill="#32cd32" />
<rect x="879" y="297" width="1" height="25" fill="#ff0000" />
<rect x="878" y="305" width="3" height="9" fill="#ff0000" />
<rect x="879" y="306" width="1" height="7" fill="#ff4500" />
<rect x="883" y="296" width="1" height="10" fill="#ff0000" />
<rect x="882" y="300" width="3" height="5" fill="#ff0000" />
<rect x="883" y="301" width="1" height="3" fill="#ff4500" />
<rect x="887" y="291" width="1" height="19" fill="#ff0000" />
<rect x="886" y="292" width="3" height="12" fill="#ff0000" />
<rect x="887" y="293" width="1" height="10" fill="#ff4500" />
<rect x="891" y="265" width="1" height="32" fill="#ff0000" />
<rect x="890" y="270" width="3" height="22" fill="#ff0000" />
<rect x="891" y="271" width="1" height="20" fill="#ff4500" />
<rect x="895" y="270" width="1" height="18" fill="#ff0000" />
<rect x="894" y="274" width="3" height="1" fill="#ff0000" />
<rect x="899" y="272" width="1" height="30" fill="#32cd32" />
<rect x="898" y="274" width="3" height="24" fill="#32cd32" />
<rect x="903" y="263" width="1" height="35" fill="#ff0000" />
<rect x="902" y="269" width="3" height="29" fill="#ff0000" />
<rect x="903" y="270" width="1" height="27" fill="#ff4500" />
<rect x="907" y="268" width="1" height="6" fill="#32cd32" />
<rect x="906" y="269" width="3" height="3" fill="#32cd32" />
<rect x="911" y="260" width="1" height="21" fill="#ff0000" />
<rect x="910" y="266" width="3" height="1" fill="#ff0000" />
<rect x="915" y="260" width="1" height="26" fill="#32cd32" />
<rect x="914" y="266" width="3" height="16" fill="#32cd32" />
<rect x="919" y="275" width="1" height="22" fill="#32cd32" />
<rect x="918" y="281" width="3" height="7" fill="#32cd32" />
<rect x="923" y="287" width="1" height="10" fill="#32cd32" />
<rect x="922" y="287" width="3" height="5" fill="#32cd32" />
</g>
<g shape-rendering="crispEdges">
<rect x="2" y="154" width="6" height="6" fill="#ff0000" />
<rect x="4" y="156" width="2" height="2" fill="#fff" />
<rect x="1159" y="154" width="6" height="6" fill="#ff0000" />
<rect x="1161" y="156" width="2" height="2" fill="#fff" />
<rect x="2" y="227" width="6" height="6" fill="#ff0000" />
<rect x="4" y="229" width="2" height="2" fill="#fff" />
<rect x="1159" y="227" width="6" height="6" fill="#ff0000" />
<rect x="1161" y="229" width="2" height="2" fill="#fff" />
<rect x="2" y="289" width="6" height="6" fill="#00ff00" />
<rect x="4" y="291" width="2" height="2" fill="#fff" />
<rect x="1159" y="289" width="6" height="6" fill="#00ff00" />
<rect x="1161" y="291" width="2" height="2" fill="#fff" />
</g>
<g clip-path="url(#cmacd)" shape-rendering="crispEdges">
<rect x="2" y="528" width="3" height="12" fill="#c0c0c0" />
<rect x="6" y="528" width="3" height="11" fill="#c0c0c0" />
<rect x="10" y="528" width="3" height="11" fill="#c0c0c0" />
<rect x="14" y="528" width="3" height="11" fill="#c0c0c0" />
<rect x="18" y="528" width="3" height="12" fill="#c0c0c0" />
<rect x="22" y="528" width="3" height="11" fill="#c0c0c0" />
<rect x="26" y="528" width="3" height="10" fill="#c0c0c0" />
<rect x="30" y="528" width="3" height="10" fill="#c0c0c0" />
<rect x="34" y="528" width="3" height="10" fill="#c0c0c0" />
<rect x="38" y="528" width="3" height="11" fill="#c0c0c0" />
<rect x="42" y="528" width="3" height="12" fill="#c0c0c0" />
<rect x="46" y="528" width="3" height="13" fill="#c0c0c0" />
<rect x="50" y="528" width="3" height="15" fill="#c0c0c0" />
<rect x="54" y="528" width="3" height="15" fill="#c0c0c0" />
<rect x="58" y="528" width="3" height="16" fill="#c0c0c0" />
<rect x="62" y="528" width="3" height="18" fill="#c0c0c0" />
<rect x="66" y="528" width="3" height="20" fill="#c0c0c0" />
<rect x="70" y="528" width="3" height="23" fill="#c0c0c0" />
<rect x="74" y="528" width="3" height="27" fill="#c0c0c0" />
<rect x="78" y="528" width="3" height="28" fill="#c0c0c0" />
<rect x="82" y="528" width="3" height="30" fill="#c0c0c0" />
<rect x="86" y="528" width="3" height="31" fill="#c0c0c0" />
<rect x="90" y="528" width="3" height="33" fill="#c0c0c0" />
<rect x="94" y="528" width="3" height="32" fill="#c0c0c0" />
<rect x="98" y="528" width="3" height="32" fill="#c0c0c0" />
<rect x="102" y="528" width="3" height="31" fill="#c0c0c0" />
<rect x="106" y="528" width="3" height="31" fill="#c0c0c0" />
<rect x="110" y="528" width="3" height="30" fill="#c0c0c0" />
<rect x="114" y="528" width="3" height="29" fill="#c0c0c0" />
<rect x="118" y="528" width="3" height="28" fill="#c0c0c0" />
<rect x="122" y="528" width="3" height="26" fill="#c0c0c0" />
<rect x="126" y="528" width="3" height="21" fill="#c0c0c0" />
<rect x="130" y="528" width="3" height="16" fill="#c0c0c0" />
<rect x="134" y="528" width="3" height="15" fill="#c0c0c0" />
<rect x="138" y="528" width="3" height="13" fill="#c0c0c0" />
<rect x="142" y="528" width="3" height="11" fill="#c0c0c0" />
<rect x="146" y="528" width="3" height="10" fill="#c0c0c0" />
<rect x="150" y="528" width="3" height="11" fill="#c0c0c0" />
<rect x="154" y="528" width="3" height="12" fill="#c0c0c0" />
<rect x="158" y="528" width="3" height="13" fill="#c0c0c0" />
<rect x="162" y="528" width="3" height="15" fill="#c0c0c0" />
<rect x="166" y="528" width="3" height="15" fill="#c0c0c0" />
<rect x="170" y="528" width="3" height="16" fill="#c0c0c0" />
<rect x="174" y="528" width="3" height="16" fill="#c0c0c0" />
<rect x="178" y="528" width="3" height="17" fill="#c0c0c0" />
<rect x="182" y="528" width="3" height="17" fill="#c0c0c0" />
<rect x="186" y="528" width="3" height="16" fill="#c0c0c0" />
<rect x="190" y="528" width="3" height="15" fill="#c0c0c0" />
<rect x="194" y="528" width="3" height="15" fill="#c0c0c0" />
<rect x="198" y="528" width="3" height="14" fill="#c0c0c0" />
<rect x="202" y="528" width="3" height="14" fill="#c0c0c0" />
<rect x="206" y="528" width="3" height="13" fill="#c0c0c0" />
<rect x="210" y="528" width="3" height="12" fill="#c0c0c0" />
<rect x="214" y="528" width="3" height="11" fill="#c0c0c0" />
<rect x="218" y="528" width="3" height="10" fill="#c0c0c0" />
<rect x="222" y="528" width="3" height="12" fill="#c0c0c0" />
<rect x="226" y="528" width="3" height="12" fill="#c0c0c0" />
<rect x="230" y="528" width="3" height="11" fill="#c0c0c0" />
<rect x="234" y="528" width="3" height="11" fill="#c0c0c0" />
<rect x="238" y="528" width="3" height="10" fill="#c0c0c0" />
<rect x="242" y="528" width="3" height="8" fill="#c0c0c0" />
<rect x="246" y="528" width="3" height="6" fill="#c0c0c0" />
<rect x="250" y="528" width="3" height="4" fill="#c0c0c0" />
<rect x="254" y="528" width="3" height="2" fill="#c0c0c0" />
<rect x="258" y="528" width="3" height="1" fill="#c0c0c0" />
<rect x="262" y="527" width="3" height="1" fill="#c0c0c0" />
<rect x="266" y="525" width="3" height="3" fill="#c0c0c0" />
<rect x="270" y="524" width="3" height="4" fill="#c0c0c0" />
<rect x="274" y="522" width="3" height="6" fill="#c0c0c0" />
<rect x="278" y="523" width="3" height="5" fill="#c0c0c0" />
<rect x="282" y="525" width="3" height="3" fill="#c0c0c0" />
<rect x="286" y="526" width="3" height="2" fill="#c0c0c0" />
<rect x="290" y="527" width="3" height="1" fill="#c0c0c0" />
<rect x="294" y="528" width="3" height="2" fill="#c0c0c0" />
<rect x="298" y="528" width="3" height="4" fill="#c0c0c0" />
<rect x="302" y="528" width="3" height="5" fill="#c0c0c0" />
<rect x="306" y="528" width="3" height="6" fill="#c0c0c0" />
<rect x="310" y="528" width="3" height="8" fill="#c0c0c0" />
<rect x="314" y="528" width="3" height="8" fill="#c0c0c0" />
<rect x="318" y="528" width="3" height="7" fill="#c0c0c0" />
<rect x="322" y="528" width="3" height="7" fill="#c0c0c0" />
<rect x="326" y="528" width="3" height="9" fill="#c0c0c0" />
<rect x="330" y="528" width="3" height="11" fill="#c0c0c0" />
<rect x="334" y="528" width="3" height="12" fill="#c0c0c0" />
<rect x="338" y="528" width="3" height="13" fill="#c0c0c0" />
<rect x="342" y="528" width="3" height="15" fill="#c0c0c0" />
<rect x="346" y="528" width="3" height="18" fill="#c0c0c0" />
<rect x="350" y="528" width="3" height="16" fill="#c0c0c0" />
<rect x="354" y="528" width="3" height="12" fill="#c0c0c0" />
<rect x="358" y="528" width="3" height="11" fill="#c0c0c0" />
<rect x="362" y="528" width="3" height="11" fill="#c0c0c0" />
<rect x="366" y="528" width="3" height="11" fill="#c0c0c0" />
<rect x="370" y="528" width="3" height="10" fill="#c0c0c0" />
<rect x="374" y="528" width="3" height="9" fill="#c0c0c0" />
<rect x="378" y="528" width="3" height="8" fill="#c0c0c0" />
<rect x="382" y="528" width="3" height="7" fill="#c0c0c0" />
<rect x="386" y="528" width="3" height="6" fill="#c0c0c0" />
<rect x="390" y="528" width="3" height="6" fill="#c0c0c0" />
<rect x="394" y="528" width="3" height="8" fill="#c0c0c0" />
<rect x="398" y="528" width="3" height="11" fill="#c0c0c0" />
<rect x="402" y="528" width="3" height="15" fill="#c0c0c0" />
<rect x="406" y="528" width="3" height="16" fill="#c0c0c0" />
<rect x="410" y="528" width="3" height="19" fill="#c0c0c0" />
<rect x="414" y="528" width="3" height="20" fill="#c0c0c0" />
<rect x="418" y="528" width="3" height="21" fill="#c0c0c0" />
<rect x="422" y="528" width="3" height="20" fill="#c0c0c0" />
<rect x="426" y="528" width="3" height="19" fill="#c0c0c0" />
<rect x="430" y="528" width="3" height="16" fill="#c0c0c0" />
<rect x="434" y="528" width="3" height="15" fill="#c0c0c0" />
<rect x="438" y="528" width="3" height="13" fill="#c0c0c0" />
<rect x="442" y="528" width="3" height="10" fill="#c0c0c0" />
<rect x="446" y="528" width="3" height="8" fill="#c0c0c0" />
<rect x="450" y="528" width="3" height="6" fill="#c0c0c0" />
<rect x="454" y="528" width="3" height="4" fill="#c0c0c0" />
<rect x="458" y="528" width="3" height="3" fill="#c0c0c0" />
<rect x="462" y="528" width="3" height="3" fill="#c0c0c0" />
<rect x="466" y="528" width="3" height="3" fill="#c0c0c0" />
<rect x="470" y="528" width="3" height="3" fill="#c0c0c0" />
<rect x="474" y="528" width="3" height="3" fill="#c0c0c0" />
<rect x="478" y="528" width="3" height="4" fill="#c0c0c0" />
<rect x="482" y="528" width="3" height="4" fill="#c0c0c0" />
<rect x="486" y="528" width="3" height="3" fill="#c0c0c0" />
<rect x="490" y="528" width="3" height="3" fill="#c0c0c0" />
<rect x="494" y="528" width="3" height="3" fill="#c0c0c0" />
<rect x="498" y="528" width="3" height="3" fill="#c0c0c0" />
<rect x="502" y="528" width="3" height="3" fill="#c0c0c0" />
<rect x="506" y="528" width="3" height="4" fill="#c0c0c0" />
<rect x="510" y="528" width="3" height="5" fill="#c0c0c0" />
<rect x="514" y="528" width="3" height="5" fill="#c0c0c0" />
<rect x="518" y="528" width="3" height="6" fill="#c0c0c0" />
<rect x="522" y="528" width="3" height="6" fill="#c0c0c0" />
<rect x="526" y="528" width="3" height="6" fill="#c0c0c0" />
<rect x="530" y="528" width="3" height="6" fill="#c0c0c0" />
<rect x="534" y="528" width="3" height="6" fill="#c0c0c0" />
<rect x="538" y="528" width="3" height="6" fill="#c0c0c0" />
<rect x="542" y="528" width="3" height="7" fill="#c0c0c0" />
<rect x="546" y="528" width="3" height="8" fill="#c0c0c0" />
<rect x="550" y="528" width="3" height="10" fill="#c0c0c0" />
<rect x="554" y="528" width="3" height="12" fill="#c0c0c0" />
<rect x="558" y="528" width="3" height="15" fill="#c0c0c0" />
<rect x="562" y="528" width="3" height="19" fill="#c0c0c0" />
<rect x="566" y="528" width="3" height="21" fill="#c0c0c0" />
<rect x="570" y="528" width="3" height="24" fill="#c0c0c0" />
<rect x="574" y="528" width="3" height="25" fill="#c0c0c0" />
<rect x="578" y="528" width="3" height="25" fill="#c0c0c0" />
<rect x="582" y="528" width="3" height="26" fill="#c0c0c0" />
<rect x="586" y="528" width="3" height="29" fill="#c0c0c0" />
<rect x="590" y="528" width="3" height="32" fill="#c0c0c0" />
<rect x="594" y="528" width="3" height="34" fill="#c0c0c0" />
<rect x="598" y="528" width="3" height="37" fill="#c0c0c0" />
<rect x="602" y="528" width="3" height="38" fill="#c0c0c0" />
<rect x="606" y="528" width="3" height="38" fill="#c0c0c0" />
<rect x="610" y="528" width="3" height="37" fill="#c0c0c0" />
<rect x="614" y="528" width="3" height="36" fill="#c0c0c0" />
<rect x="618" y="528" width="3" height="34" fill="#c0c0c0" />
<rect x="622" y="528" width="3" height="34" fill="#c0c0c0" />
<rect x="626" y="528" width="3" height="35" fill="#c0c0c0" />
<rect x="630" y="528" width="3" height="35" fill="#c0c0c0" />
<rect x="634" y="528" width="3" height="34" fill="#c0c0c0" />
<rect x="638" y="528" width="3" height="33" fill="#c0c0c0" />
<rect x="642" y="528" width="3" height="32" fill="#c0c0c0" />
<rect x="646" y="528" width="3" height="31" fill="#c0c0c0" />
<rect x="650" y="528" width="3" height="29" fill="#c0c0c0" />
<rect x="654" y="528" width="3" height="27" fill="#c0c0c0" />
<rect x="658" y="528" width="3" height="25" fill="#c0c0c0" />
<rect x="662" y="528" width="3" height="23" fill="#c0c0c0" />
<rect x="666" y="528" width="3" height="22" fill="#c0c0c0" />
<rect x="670" y="528" width="3" height="22" fill="#c0c0c0" />
<rect x="674" y="528" width="3" height="21" fill="#c0c0c0" />
<rect x="678" y="528" width="3" height="20" fill="#c0c0c0" />
<rect x="682" y="528" width="3" height="18" fill="#c0c0c0" />
<rect x="686" y="528" width="3" height="16" fill="#c0c0c0" />
<rect x="690" y="528" width="3" height="16" fill="#c0c0c0" />
<rect x="694" y="528" width="3" height="14" fill="#c0c0c0" />
<rect x="698" y="528" width="3" height="14" fill="#c0c0c0" />
<rect x="702" y="528" width="3" height="13" fill="#c0c0c0" />
<rect x="706" y="528" width="3" height="11" fill="#c0c0c0" />
<rect x="710" y="528" width="3" height="8" fill="#c0c0c0" />
<rect x="714" y="528" width="3" height="6" fill="#c0c0c0" />
<rect x="718" y="528" width="3" height="5" fill="#c0c0c0" />
<rect x="722" y="528" width="3" height="2" fill="#c0c0c0" />
<rect x="726" y="527" width="3" height="1" fill="#c0c0c0" />
<rect x="730" y="521" width="3" height="7" fill="#c0c0c0" />
<rect x="734" y="514" width="3" height="14" fill="#c0c0c0" />
<rect x="738" y="509" width="3" height="19" fill="#c0c0c0" />
<rect x="742" y="507" width="3" height="21" fill="#c0c0c0" />
<rect x="746" y="505" width="3" height="23" fill="#c0c0c0" />
<rect x="750" y="507" width="3" height="21" fill="#c0c0c0" />
<rect x="754" y="507" width="3" height="21" fill="#c0c0c0" />
<rect x="758" y="508" width="3" height="20" fill="#c0c0c0" />
<rect x="762" y="509" width="3" height="19" fill="#c0c0c0" />
<rect x="766" y="509" width="3" height="19" fill="#c0c0c0" />
<rect x="770" y="508" width="3" height="20" fill="#c0c0c0" />
<rect x="774" y="507" width="3" height="21" fill="#c0c0c0" />
<rect x="778" y="506" width="3" height="22" fill="#c0c0c0" />
<rect x="782" y="508" width="3" height="20" fill="#c0c0c0" />
<rect x="786" y="510" width="3" height="18" fill="#c0c0c0" />
<rect x="790" y="511" width="3" height="17" fill="#c0c0c0" />
<rect x="794" y="509" width="3" height="19" fill="#c0c0c0" />
<rect x="798" y="506" width="3" height="22" fill="#c0c0c0" />
<rect x="802" y="503" width="3" height="25" fill="#c0c0c0" />
<rect x="806" y="503" width="3" height="25" fill="#c0c0c0" />
<rect x="810" y="503" width="3" height="25" fill="#c0c0c0" />
<rect x="814" y="504" width="3" height="24" fill="#c0c0c0" />
<rect x="818" y="503" width="3" height="25" fill="#c0c0c0" />
<rect x="822" y="503" width="3" height="25" fill="#c0c0c0" />
<rect x="826" y="501" width="3" height="27" fill="#c0c0c0" />
<rect x="830" y="500" width="3" height="28" fill="#c0c0c0" />
<rect x="834" y="499" width="3" height="29" fill="#c0c0c0" />
<rect x="838" y="494" width="3" height="34" fill="#c0c0c0" />
<rect x="842" y="491" width="3" height="37" fill="#c0c0c0" />
<rect x="846" y="495" width="3" height="33" fill="#c0c0c0" />
<rect x="850" y="497" width="3" height="31" fill="#c0c0c0" />
<rect x="854" y="498" width="3" height="30" fill="#c0c0c0" />
<rect x="858" y="501" width="3" height="27" fill="#c0c0c0" />
<rect x="862" y="504" width="3" height="24" fill="#c0c0c0" />
<rect x="866" y="505" width="3" height="23" fill="#c0c0c0" />
<rect x="870" y="507" width="3" height="21" fill="#c0c0c0" />
<rect x="874" y="512" width="3" height="16" fill="#c0c0c0" />
<rect x="878" y="516" width="3" height="12" fill="#c0c0c0" />
<rect x="882" y="518" width="3" height="10" fill="#c0c0c0" />
<rect x="886" y="519" width="3" height="9" fill="#c0c0c0" />
<rect x="890" y="519" width="3" height="9" fill="#c0c0c0" />
<rect x="894" y="519" width="3" height="9" fill="#c0c0c0" />
<rect x="898" y="521" width="3" height="7" fill="#c0c0c0" />
<rect x="902" y="520" width="3" height="8" fill="#c0c0c0" />
<rect x="906" y="520" width="3" height="8" fill="#c0c0c0" />
<rect x="910" y="520" width="3" height="8" fill="#c0c0c0" />
<rect x="914" y="521" width="3" height="7" fill="#c0c0c0" />
<rect x="918" y="522" width="3" height="6" fill="#c0c0c0" />
<rect x="922" y="523" width="3" height="5" fill="#c0c0c0" />
<path d="M3 541h1v1h-1zM4 541h1v1h-1zM5 541h1v1h-1zM6 541h1v1h-1zM7 541h1v1h-1zM8 541h1v1h-1zM9 542h1v1h-1zM10 542h1v1h-1zM11 542h1v1h-1zM12 542h1v1h-1zM13 542h1v1h-1zM14 542h1v1h-1zM15 542h1v1h-1zM16 542h1v1h-1zM17 541h1v1h-1zM18 541h1v1h-1zM19 541h1v1h-1zM20 540h1v1h-1zM21 540h1v1h-1zM22 540h1v1h-1zM23 540h1v1h-1zM24 539h1v1h-1zM25 539h1v1h-1zM26 539h1v1h-1zM27 538h1v1h-1zM28 538h1v1h-1zM29 538h1v1h-1zM30 538h1v1h-1zM31 538h1v1h-1zM32 538h1v1h-1zM33 538h1v1h-1zM34 538h1v1h-1zM35 538h1v1h-1zM36 538h1v1h-1zM37 538h1v1h-1zM38 538h1v1h-1zM39 538h1v1h-1zM40 538h1v1h-1zM41 538h1v1h-1zM42 538h1v1h-1zM43 538h1v1h-1zM44 538h1v1h-1zM45 538h1v1h-1zM46 538h1v1h-1zM47 538h1v1h-1zM48 538h1v1h-1zM49 538h1v1h-1zM50 538h1v1h-1zM51 538h1v1h-1zM52 539h1v1h-1zM53 539h1v1h-1zM54 539h1v1h-1zM55 539h1v1h-1zM56 539h1v1h-1zM57 539h1v1h-1zM58 539h1v1h-1zM59 540h1v1h-1zM60 540h1v1h-1zM61 540h1v1h-1zM62 541h1v1h-1zM63 541h1v1h-1zM64 541h1v1h-1zM65 542h1v1h-1zM66 542h1v1h-1zM67 542h1v1h-1zM68 543h1v1h-1zM69 543h1v1h-1zM70 544h1v1h-1zM71 544h1v1h-1zM72 544h1v1h-1zM73 545h1v1h-1zM74 545h1v1h-1zM75 546h1v1h-1zM76 546h1v1h-1zM77 546h1v1h-1zM78 547h1v1h-1zM79 547h1v1h-1zM80 547h1v1h-1zM81 548h1v1h-1zM82 548h1v1h-1zM83 549h1v1h-1zM84 549h1v1h-1zM85 549h1v1h-1zM86 550h1v1h-1zM87 550h1v1h-1zM88 550h1v1h-1zM89 551h1v1h-1zM90 551h1v1h-1zM91 552h1v1h-1zM92 552h1v1h-1zM93 553h1v1h-1zM94 553h1v1h-1zM95 554h1v1h-1zM96 554h1v1h-1zM97 555h1v1h-1zM98 555h1v1h-1zM99 556h1v1h-1zM100 556h1v1h-1zM101 556h1v1h-1zM102 557h1v1h-1zM103 557h1v1h-1zM104 557h1v1h-1zM105 557h1v1h-1zM106 558h1v1h-1zM107 558h1v1h-1zM108 558h1v1h-1zM109 558h1v1h-1zM110 558h1v1h-1zM111 558h1v1h-1zM112 558h1v1h-1zM113 558h1v1h-1zM114 558h1v1h-1zM115 558h1v1h-1zM116 558h1v1h-1zM117 558h1v1h-1zM118 558h1v1h-1zM119 558h1v1h-1zM120 558h1v1h-1zM121 558h1v1h-1zM122 558h1v1h-1zM123 558h1v1h-1zM124 558h1v1h-1zM125 557h1v1h-1zM126 557h1v1h-1zM127 556h1v1h-1zM128 556h1v1h-1zM129 555h1v1h-1zM130 555h1v1h-1zM131 554h1v1h-1zM132 554h1v1h-1zM133 553h1v1h-1zM134 552h1v1h-1zM135 552h1v1h-1zM136 551h1v1h-1zM137 551h1v1h-1zM138 550h1v1h-1zM139 550h1v1h-1zM140 549h1v1h-1zM141 549h1v1h-1zM142 548h1v1h-1zM143 548h1v1h-1zM144 547h1v1h-1zM145 547h1v1h-1zM146 546h1v1h-1zM147 546h1v1h-1zM148 545h1v1h-1zM149 545h1v1h-1zM150 544h1v1h-1zM151 544h1v1h-1zM152 543h1v1h-1zM153 543h1v1h-1zM154 542h1v1h-1zM155 542h1v1h-1zM156 541h1v1h-1zM157 541h1v1h-1zM158 541h1v1h-1zM159 541h1v1h-1zM160 540h1v1h-1zM161 540h1v1h-1zM162 540h1v1h-1zM163 540h1v1h-1zM164 540h1v1h-1zM165 540h1v1h-1zM166 540h1v1h-1zM167 540h1v1h-1zM168 540h1v1h-1zM169 540h1v1h-1zM170 540h1v1h-1zM171 540h1v1h-1zM172 540h1v1h-1zM173 540h1v1h-1zM174 540h1v1h-1zM175 540h1v1h-1zM176 540h1v1h-1zM177 540h1v1h-1zM178 540h1v1h-1zM179 540h1v1h-1zM180 541h1v1h-1zM181 541h1v1h-1zM182 541h1v1h-1zM183 542h1v1h-1zM184 542h1v1h-1zM185 542h1v1h-1zM186 542h1v1h-1zM187 542h1v1h-1zM188 542h1v1h-1zM189 542h1v1h-1zM190 543h1v1h-1zM191 543h1v1h-1zM192 543h1v1h-1zM193 543h1v1h-1zM194 543h1v1h-1zM195 543h1v1h-1zM196 543h1v1h-1zM197 543h1v1h-1zM198 543h1v1h-1zM199 543h1v1h-1zM200 542h1v1h-1zM201 542h1v1h-1zM202 542h1v1h-1zM203 542h1v1h-1zM204 542h1v1h-1zM205 542h1v1h-1zM206 542h1v1h-1zM207 542h1v1h-1zM208 542h1v1h-1zM209 542h1v1h-1zM210 542h1v1h-1zM211 542h1v1h-1zM212 541h1v1h-1zM213 541h1v1h-1zM214 541h1v1h-1zM215 541h1v1h-1zM216 540h1v1h-1zM217 540h1v1h-1zM218 540h1v1h-1zM219 540h1v1h-1zM220 540h1v1h-1zM221 540h1v1h-1zM222 540h1v1h-1zM223 540h1v1h-1zM224 540h1v1h-1zM225 540h1v1h-1zM226 540h1v1h-1zM227 540h1v1h-1zM228 540h1v1h-1zM229 540h1v1h-1zM230 539h1v1h-1zM231 539h1v1h-1zM232 539h1v1h-1zM233 539h1v1h-1zM234 539h1v1h-1zM235 539h1v1h-1zM236 539h1v1h-1zM237 539h1v1h-1zM238 539h1v1h-1zM239 539h1v1h-1zM240 539h1v1h-1zM241 539h1v1h-1zM242 538h1v1h-1zM243 538h1v1h-1zM244 538h1v1h-1zM245 538h1v1h-1zM246 538h1v1h-1zM247 537h1v1h-1zM248 537h1v1h-1zM249 537h1v1h-1zM250 537h1v1h-1zM251 536h1v1h-1zM252 536h1v1h-1zM253 536h1v1h-1zM254 536h1v1h-1zM255 535h1v1h-1zM256 535h1v1h-1zM257 535h1v1h-1zM258 535h1v1h-1zM259 534h1v1h-1zM260 534h1v1h-1zM261 534h1v1h-1zM262 533h1v1h-1zM263 533h1v1h-1zM264 532h1v1h-1zM265 532h1v1h-1zM266 532h1v1h-1zM267 531h1v1h-1zM268 531h1v1h-1zM269 530h1v1h-1zM270 530h1v1h-1zM271 529h1v1h-1zM272 529h1v1h-1zM273 529h1v1h-1zM274 528h1v1h-1zM275 528h1v1h-1zM276 527h1v1h-1zM277 527h1v1h-1zM278 527h1v1h-1zM279 527h1v1h-1zM280 526h1v1h-1zM281 526h1v1h-1zM282 526h1v1h-1zM283 526h1v1h-1zM284 526h1v1h-1zM285 525h1v1h-1zM286 525h1v1h-1zM287 525h1v1h-1zM288 525h1v1h-1zM289 525h1v1h-1zM290 525h1v1h-1zM291 525h1v1h-1zM292 525h1v1h-1zM293 525h1v1h-1zM294 525h1v1h-1zM295 525h1v1h-1zM296 525h1v1h-1zM297 525h1v1h-1zM298 525h1v1h-1zM299 525h1v1h-1zM300 525h1v1h-1zM301 525h1v1h-1zM302 526h1v1h-1zM303 526h1v1h-1zM304 526h1v1h-1zM305 526h1v1h-1zM306 527h1v1h-1zM307 527h1v1h-1zM308 527h1v1h-1zM309 528h1v1h-1zM310 528h1v1h-1zM311 528h1v1h-1zM312 529h1v1h-1zM313 529h1v1h-1zM314 530h1v1h-1zM315 530h1v1h-1zM316 530h1v1h-1zM317 531h1v1h-1zM318 531h1v1h-1zM319 531h1v1h-1zM320 531h1v1h-1zM321 531h1v1h-1zM322 532h1v1h-1zM323 532h1v1h-1zM324 532h1v1h-1zM325 532h1v1h-1zM326 533h1v1h-1zM327 533h1v1h-1zM328 533h1v1h-1zM329 533h1v1h-1zM330 533h1v1h-1zM331 534h1v1h-1zM332 534h1v1h-1zM333 534h1v1h-1zM334 534h1v1h-1zM335 535h1v1h-1zM336 535h1v1h-1zM337 535h1v1h-1zM338 536h1v1h-1zM339 536h1v1h-1zM340 536h1v1h-1zM341 536h1v1h-1zM342 537h1v1h-1zM343 537h1v1h-1zM344 537h1v1h-1zM345 537h1v1h-1zM346 538h1v1h-1zM347 538h1v1h-1zM348 538h1v1h-1zM349 538h1v1h-1zM350 539h1v1h-1zM351 539h1v1h-1zM352 539h1v1h-1zM353 539h1v1h-1zM354 540h1v1h-1zM355 540h1v1h-1zM356 540h1v1h-1zM357 540h1v1h-1zM358 540h1v1h-1zM359 540h1v1h-1zM360 540h1v1h-1zM361 540h1v1h-1zM362 540h1v1h-1zM363 540h1v1h-1zM364 540h1v1h-1zM365 540h1v1h-1zM366 540h1v1h-1zM367 540h1v1h-1zM368 540h1v1h-1zM369 540h1v1h-1zM370 540h1v1h-1zM371 540h1v1h-1zM372 540h1v1h-1zM373 540h1v1h-1zM374 540h1v1h-1zM375 540h1v1h-1zM376 540h1v1h-1zM377 540h1v1h-1zM378 539h1v1h-1zM379 539h1v1h-1zM380 539h1v1h-1zM381 538h1v1h-1zM382 538h1v1h-1zM383 538h1v1h-1zM384 538h1v1h-1zM385 537h1v1h-1zM386 537h1v1h-1zM387 537h1v1h-1zM388 536h1v1h-1zM389 536h1v1h-1zM390 536h1v1h-1zM391 536h1v1h-1zM392 535h1v1h-1zM393 535h1v1h-1zM394 535h1v1h-1zM395 535h1v1h-1zM396 535h1v1h-1zM397 535h1v1h-1zM398 535h1v1h-1zM399 535h1v1h-1zM400 535h1v1h-1zM401 535h1v1h-1zM402 535h1v1h-1zM403 535h1v1h-1zM404 536h1v1h-1zM405 536h1v1h-1zM406 536h1v1h-1zM407 536h1v1h-1zM408 536h1v1h-1zM409 537h1v1h-1zM410 537h1v1h-1zM411 538h1v1h-1zM412 538h1v1h-1zM413 539h1v1h-1zM414 539h1v1h-1zM415 539h1v1h-1zM416 540h1v1h-1zM417 540h1v1h-1zM418 541h1v1h-1zM419 541h1v1h-1zM420 541h1v1h-1zM421 542h1v1h-1zM422 542h1v1h-1zM423 542h1v1h-1zM424 543h1v1h-1zM425 543h1v1h-1zM426 543h1v1h-1zM427 544h1v1h-1zM428 544h1v1h-1zM429 545h1v1h-1zM430 545h1v1h-1zM431 545h1v1h-1zM432 545h1v1h-1zM433 545h1v1h-1zM434 545h1v1h-1zM435 545h1v1h-1zM436 545h1v1h-1zM437 545h1v1h-1zM438 545h1v1h-1zM439 545h1v1h-1zM440 545h1v1h-1zM441 545h1v1h-1zM442 545h1v1h-1zM443 544h1v1h-1zM444 544h1v1h-1zM445 544h1v1h-1zM446 543h1v1h-1zM447 543h1v1h-1zM448 542h1v1h-1zM449 542h1v1h-1zM450 541h1v1h-1zM451 541h1v1h-1zM452 540h1v1h-1zM453 540h1v1h-1zM454 540h1v1h-1zM455 539h1v1h-1zM456 539h1v1h-1zM457 538h1v1h-1zM458 538h1v1h-1zM459 538h1v1h-1zM460 537h1v1h-1zM461 537h1v1h-1zM462 536h1v1h-1zM463 536h1v1h-1zM464 536h1v1h-1zM465 535h1v1h-1zM466 535h1v1h-1zM467 535h1v1h-1zM468 534h1v1h-1zM469 534h1v1h-1zM470 533h1v1h-1zM471 533h1v1h-1zM472 533h1v1h-1zM473 532h1v1h-1zM474 532h1v1h-1zM475 532h1v1h-1zM476 532h1v1h-1zM477 532h1v1h-1zM478 532h1v1h-1zM479 532h1v1h-1zM480 532h1v1h-1zM481 532h1v1h-1zM482 531h1v1h-1zM483 531h1v1h-1zM484 531h1v1h-1zM485 531h1v1h-1zM486 531h1v1h-1zM487 530h1v1h-1zM488 530h1v1h-1zM489 530h1v1h-1zM490 530h1v1h-1zM491 530h1v1h-1zM492 530h1v1h-1zM493 530h1v1h-1zM494 530h1v1h-1zM495 530h1v1h-1zM496 530h1v1h-1zM497 530h1v1h-1zM498 530h1v1h-1zM499 530h1v1h-1zM500 530h1v1h-1zM501 530h1v1h-1zM502 530h1v1h-1zM503 530h1v1h-1zM504 530h1v1h-1zM505 530h1v1h-1zM506 530h1v1h-1zM507 530h1v1h-1zM508 531h1v1h-1zM509 531h1v1h-1zM510 531h1v1h-1zM511 531h1v1h-1zM512 531h1v1h-1zM513 531h1v1h-1zM514 531h1v1h-1zM515 531h1v1h-1zM516 531h1v1h-1zM517 531h1v1h-1zM518 531h1v1h-1zM519 531h1v1h-1zM520 531h1v1h-1zM521 531h1v1h-1zM522 531h1v1h-1zM523 531h1v1h-1zM524 531h1v1h-1zM525 531h1v1h-1zM526 531h1v1h-1zM527 531h1v1h-1zM528 531h1v1h-1zM529 531h1v1h-1zM530 531h1v1h-1zM531 532h1v1h-1zM532 532h1v1h-1zM533 532h1v1h-1zM534 532h1v1h-1zM535 532h1v1h-1zM536 532h1v1h-1zM537 532h1v1h-1zM538 532h1v1h-1zM539 532h1v1h-1zM540 533h1v1h-1zM541 533h1v1h-1zM542 533h1v1h-1zM543 533h1v1h-1zM544 533h1v1h-1zM545 533h1v1h-1zM546 533h1v1h-1zM547 533h1v1h-1zM548 533h1v1h-1zM549 534h1v1h-1zM550 534h1v1h-1zM551 534h1v1h-1zM552 534h1v1h-1zM553 534h1v1h-1zM554 534h1v1h-1zM555 534h1v1h-1zM556 534h1v1h-1zM557 534h1v1h-1zM558 534h1v1h-1zM559 535h1v1h-1zM560 535h1v1h-1zM561 536h1v1h-1zM562 536h1v1h-1zM563 537h1v1h-1zM564 537h1v1h-1zM565 538h1v1h-1zM566 539h1v1h-1zM567 539h1v1h-1zM568 540h1v1h-1zM569 540h1v1h-1zM570 541h1v1h-1zM571 541h1v1h-1zM572 542h1v1h-1zM573 542h1v1h-1zM574 542h1v1h-1zM575 543h1v1h-1zM576 543h1v1h-1zM577 544h1v1h-1zM578 544h1v1h-1zM579 545h1v1h-1zM580 545h1v1h-1zM581 546h1v1h-1zM582 546h1v1h-1zM583 547h1v1h-1zM584 547h1v1h-1zM585 548h1v1h-1zM586 548h1v1h-1zM587 549h1v1h-1zM588 549h1v1h-1zM589 550h1v1h-1zM590 550h1v1h-1zM591 551h1v1h-1zM592 551h1v1h-1zM593 552h1v1h-1zM594 552h1v1h-1zM595 553h1v1h-1zM596 553h1v1h-1zM597 554h1v1h-1zM598 554h1v1h-1zM599 555h1v1h-1zM600 555h1v1h-1zM601 556h1v1h-1zM602 556h1v1h-1zM603 557h1v1h-1zM604 557h1v1h-1zM605 558h1v1h-1zM606 558h1v1h-1zM607 559h1v1h-1zM608 559h1v1h-1zM609 560h1v1h-1zM610 560h1v1h-1zM611 560h1v1h-1zM612 560h1v1h-1zM613 560h1v1h-1zM614 561h1v1h-1zM615 561h1v1h-1zM616 561h1v1h-1zM617 561h1v1h-1zM618 561h1v1h-1zM619 562h1v1h-1zM620 562h1v1h-1zM621 562h1v1h-1zM622 563h1v1h-1zM623 563h1v1h-1zM624 563h1v1h-1zM625 564h1v1h-1zM626 564h1v1h-1zM627 564h1v1h-1zM628 564h1v1h-1zM629 564h1v1h-1zM630 564h1v1h-1zM631 564h1v1h-1zM632 564h1v1h-1zM633 564h1v1h-1zM634 564h1v1h-1zM635 564h1v1h-1zM636 564h1v1h-1zM637 564h1v1h-1zM638 564h1v1h-1zM639 564h1v1h-1zM640 563h1v1h-1zM641 563h1v1h-1zM642 563h1v1h-1zM643 563h1v1h-1zM644 563h1v1h-1zM645 562h1v1h-1zM646 562h1v1h-1zM647 562h1v1h-1zM648 562h1v1h-1zM649 561h1v1h-1zM650 561h1v1h-1zM651 561h1v1h-1zM652 561h1v1h-1zM653 560h1v1h-1zM654 560h1v1h-1zM655 560h1v1h-1zM656 559h1v1h-1zM657 559h1v1h-1zM658 559h1v1h-1zM659 558h1v1h-1zM660 558h1v1h-1zM661 557h1v1h-1zM662 557h1v1h-1zM663 557h1v1h-1zM664 556h1v1h-1zM665 556h1v1h-1zM666 556h1v1h-1zM667 555h1v1h-1zM668 555h1v1h-1zM669 555h1v1h-1zM670 554h1v1h-1zM671 554h1v1h-1zM672 554h1v1h-1zM673 554h1v1h-1zM674 553h1v1h-1zM675 553h1v1h-1zM676 553h1v1h-1zM677 552h1v1h-1zM678 552h1v1h-1zM679 552h1v1h-1zM680 552h1v1h-1zM681 551h1v1h-1zM682 551h1v1h-1zM683 551h1v1h-1zM684 550h1v1h-1zM685 550h1v1h-1zM686 550h1v1h-1zM687 549h1v1h-1zM688 549h1v1h-1zM689 549h1v1h-1zM690 548h1v1h-1zM691 548h1v1h-1zM692 547h1v1h-1zM693 547h1v1h-1zM694 547h1v1h-1zM695 546h1v1h-1zM696 546h1v1h-1zM697 546h1v1h-1zM698 545h1v1h-1zM699 545h1v1h-1zM700 545h1v1h-1zM701 544h1v1h-1zM702 544h1v1h-1zM703 544h1v1h-1zM704 543h1v1h-1zM705 543h1v1h-1zM706 543h1v1h-1zM707 543h1v1h-1zM708 542h1v1h-1zM709 542h1v1h-1zM710 542h1v1h-1zM711 541h1v1h-1zM712 541h1v1h-1zM713 540h1v1h-1zM714 540h1v1h-1zM715 539h1v1h-1zM716 539h1v1h-1zM717 538h1v1h-1zM718 538h1v1h-1zM719 538h1v1h-1zM720 537h1v1h-1zM721 537h1v1h-1zM722 537h1v1h-1zM723 536h1v1h-1zM724 536h1v1h-1zM725 536h1v1h-1zM726 535h1v1h-1zM727 535h1v1h-1zM728 534h1v1h-1zM729 534h1v1h-1zM730 533h1v1h-1zM731 533h1v1h-1zM732 532h1v1h-1zM733 532h1v1h-1zM734 531h1v1h-1zM735 530h1v1h-1zM736 529h1v1h-1zM737 528h1v1h-1zM738 527h1v1h-1zM739 526h1v1h-1zM740 525h1v1h-1zM741 524h1v1h-1zM742 524h1v1h-1zM743 523h1v1h-1zM744 522h1v1h-1zM745 521h1v1h-1zM746 521h1v1h-1zM747 520h1v1h-1zM748 519h1v1h-1zM749 518h1v1h-1zM750 518h1v1h-1zM751 517h1v1h-1zM752 516h1v1h-1zM753 515h1v1h-1zM754 515h1v1h-1zM755 514h1v1h-1zM756 513h1v1h-1zM757 513h1v1h-1zM758 512h1v1h-1zM759 512h1v1h-1zM760 511h1v1h-1zM761 511h1v1h-1zM762 510h1v1h-1zM763 510h1v1h-1zM764 509h1v1h-1zM765 509h1v1h-1zM766 508h1v1h-1zM767 508h1v1h-1zM768 508h1v1h-1zM769 508h1v1h-1zM770 508h1v1h-1zM771 508h1v1h-1zM772 508h1v1h-1zM773 507h1v1h-1zM774 507h1v1h-1zM775 507h1v1h-1zM776 507h1v1h-1zM777 507h1v1h-1zM778 507h1v1h-1zM779 506h1v1h-1zM780 507h1v1h-1zM781 507h1v1h-1zM782 507h1v1h-1zM783 507h1v1h-1zM784 508h1v1h-1zM785 508h1v1h-1zM786 508h1v1h-1zM787 508h1v1h-1zM788 508h1v1h-1zM789 508h1v1h-1zM790 509h1v1h-1zM791 509h1v1h-1zM792 509h1v1h-1zM793 509h1v1h-1zM794 509h1v1h-1zM795 509h1v1h-1zM796 509h1v1h-1zM797 508h1v1h-1zM798 508h1v1h-1zM799 508h1v1h-1zM800 508h1v1h-1zM801 508h1v1h-1zM802 508h1v1h-1zM803 507h1v1h-1zM804 507h1v1h-1zM805 507h1v1h-1zM806 507h1v1h-1zM807 507h1v1h-1zM808 506h1v1h-1zM809 506h1v1h-1zM810 506h1v1h-1zM811 506h1v1h-1zM812 506h1v1h-1zM813 506h1v1h-1zM814 506h1v1h-1zM815 506h1v1h-1zM816 506h1v1h-1zM817 506h1v1h-1zM818 506h1v1h-1zM819 505h1v1h-1zM820 505h1v1h-1zM821 505h1v1h-1zM822 505h1v1h-1zM823 505h1v1h-1zM824 504h1v1h-1zM825 504h1v1h-1zM826 504h1v1h-1zM827 504h1v1h-1zM828 503h1v1h-1zM829 503h1v1h-1zM830 503h1v1h-1zM831 502h1v1h-1zM832 502h1v1h-1zM833 502h1v1h-1zM834 502h1v1h-1zM835 501h1v1h-1zM836 501h1v1h-1zM837 501h1v1h-1zM838 501h1v1h-1zM839 500h1v1h-1zM840 500h1v1h-1zM841 500h1v1h-1zM842 500h1v1h-1zM843 500h1v1h-1zM844 499h1v1h-1zM845 499h1v1h-1zM846 499h1v1h-1zM847 499h1v1h-1zM848 499h1v1h-1zM849 498h1v1h-1zM850 498h1v1h-1zM851 498h1v1h-1zM852 498h1v1h-1zM853 498h1v1h-1zM854 497h1v1h-1zM855 497h1v1h-1zM856 497h1v1h-1zM857 497h1v1h-1zM858 497h1v1h-1zM859 497h1v1h-1zM860 497h1v1h-1zM861 497h1v1h-1zM862 497h1v1h-1zM863 498h1v1h-1zM864 498h1v1h-1zM865 498h1v1h-1zM866 498h1v1h-1zM867 498h1v1h-1zM868 498h1v1h-1zM869 499h1v1h-1zM870 499h1v1h-1zM871 500h1v1h-1zM872 500h1v1h-1zM873 500h1v1h-1zM874 501h1v1h-1zM875 501h1v1h-1zM876 502h1v1h-1zM877 503h1v1h-1zM878 503h1v1h-1zM879 504h1v1h-1zM880 505h1v1h-1zM881 505h1v1h-1zM882 506h1v1h-1zM883 506h1v1h-1zM884 507h1v1h-1zM885 507h1v1h-1zM886 508h1v1h-1zM887 509h1v1h-1zM888 509h1v1h-1zM889 510h1v1h-1zM890 510h1v1h-1zM891 511h1v1h-1zM892 511h1v1h-1zM893 512h1v1h-1zM894 512h1v1h-1zM895 513h1v1h-1zM896 513h1v1h-1zM897 514h1v1h-1zM898 514h1v1h-1zM899 515h1v1h-1zM900 515h1v1h-1zM901 515h1v1h-1zM902 516h1v1h-1zM903 516h1v1h-1zM904 517h1v1h-1zM905 517h1v1h-1zM906 518h1v1h-1zM907 518h1v1h-1zM908 518h1v1h-1zM909 518h1v1h-1zM910 519h1v1h-1zM911 519h1v1h-1zM912 519h1v1h-1zM913 519h1v1h-1zM914 520h1v1h-1zM915 520h1v1h-1zM916 520h1v1h-1zM917 520h1v1h-1zM918 520h1v1h-1zM919 520h1v1h-1zM920 520h1v1h-1zM921 521h1v1h-1zM922 521h1v1h-1zM923 522h1v1h-1z" fill="#ff0000"/>
</g>
<g clip-path="url(#crsi)" shape-rendering="crispEdges">
<line x1="4" y1="599.5" x2="1165" y2="599.5" stroke="#c0c0c0" stroke-width="1" stroke-dasharray="3,3"/>
<line x1="4" y1="633.5" x2="1165" y2="633.5" stroke="#c0c0c0" stroke-width="1" stroke-dasharray="3,3"/>
<path d="M3 617h1v1h-1zM4 618h1v1h-1zM5 619h1v1h-1zM6 620h1v1h-1zM7 621h1v1h-1zM8 620h1v1h-1zM9 620h1v1h-1zM10 619h1v1h-1zM11 619h1v1h-1zM12 619h1v1h-1zM13 620h1v1h-1zM14 620h1v1h-1zM15 621h1v1h-1zM16 620h1v1h-1zM17 620h1v1h-1zM18 619h1v1h-1zM19 619h1v1h-1zM20 619h1v1h-1zM21 620h1v1h-1zM22 620h1v1h-1zM23 621h1v1h-1zM24 620h1v1h-1zM25 620h1v1h-1zM26 619h1v1h-1zM27 618h1v1h-1zM28 618h1v1h-1zM29 618h1v1h-1zM30 618h1v1h-1zM31 618h1v1h-1zM32 619h1v1h-1zM32 620h1v1h-1zM33 621h1v1h-1zM34 622h1v1h-1zM35 623h1v1h-1zM36 623h1v1h-1zM37 623h1v1h-1zM38 624h1v1h-1zM39 624h1v1h-1zM40 624h1v1h-1zM41 624h1v1h-1zM42 624h1v1h-1zM43 624h1v1h-1zM44 624h1v1h-1zM45 625h1v1h-1zM46 625h1v1h-1zM47 626h1v1h-1zM48 626h1v1h-1zM49 626h1v1h-1zM50 626h1v1h-1zM51 626h1v1h-1zM52 626h1v1h-1zM53 626h1v1h-1zM54 627h1v1h-1zM55 627h1v1h-1zM56 627h1v1h-1zM57 627h1v1h-1zM58 627h1v1h-1zM59 627h1v1h-1zM60 627h1v1h-1zM61 628h1v1h-1zM62 629h1v1h-1zM63 629h1v1h-1zM64 630h1v1h-1zM65 631h1v1h-1zM66 632h1v1h-1zM67 633h1v1h-1zM68 634h1v1h-1zM69 634h1v1h-1zM70 635h1v1h-1zM71 636h1v1h-1zM72 636h1v1h-1zM73 637h1v1h-1zM74 637h1v1h-1zM75 638h1v1h-1zM76 636h1v2h-1zM77 635h1v1h-1zM78 634h1v1h-1zM79 633h1v1h-1zM80 633h1v1h-1zM81 633h1v1h-1zM82 633h1v1h-1zM83 634h1v1h-1zM84 633h1v1h-1zM85 633h1v1h-1zM86 633h1v1h-1zM87 633h1v1h-1zM88 634h1v1h-1zM89 635h1v1h-1zM90 636h1v1h-1zM91 637h1v1h-1zM92 635h1v2h-1zM93 634h1v1h-1zM94 632h1v2h-1zM95 630h1v2h-1zM96 630h1v1h-1zM97 630h1v1h-1zM98 630h1v1h-1zM99 630h1v1h-1zM100 630h1v1h-1zM101 630h1v1h-1zM102 630h1v1h-1zM103 630h1v1h-1zM104 631h1v1h-1zM105 631h1v1h-1zM106 632h1v1h-1zM107 633h1v1h-1zM108 632h1v1h-1zM109 631h1v1h-1zM110 630h1v1h-1zM111 629h1v1h-1zM112 630h1v1h-1zM113 631h1v1h-1zM114 631h1v1h-1zM115 632h1v1h-1zM116 630h1v2h-1zM117 629h1v1h-1zM118 627h1v2h-1zM119 625h1v2h-1zM120 625h1v1h-1zM121 624h1v1h-1zM122 624h1v1h-1zM123 624h1v1h-1zM124 622h1v2h-1zM125 620h1v2h-1zM126 618h1v2h-1zM127 616h1v2h-1zM128 615h1v1h-1zM129 613h1v2h-1zM130 612h1v1h-1zM131 611h1v1h-1zM132 612h1v1h-1zM132 613h1v1h-1zM133 614h1v1h-1zM134 615h1v1h-1zM134 616h1v1h-1zM135 617h1v1h-1zM136 617h1v1h-1zM137 617h1v1h-1zM138 618h1v1h-1zM139 618h1v1h-1zM140 618h1v1h-1zM141 618h1v1h-1zM142 618h1v1h-1zM143 618h1v1h-1zM144 617h1v1h-1zM145 617h1v1h-1zM146 616h1v1h-1zM147 616h1v1h-1zM148 617h1v1h-1zM149 618h1v1h-1zM150 619h1v1h-1zM150 620h1v1h-1zM151 621h1v1h-1zM152 621h1v1h-1zM153 622h1v1h-1zM154 623h1v1h-1zM155 624h1v1h-1zM156 624h1v1h-1zM157 625h1v1h-1zM158 625h1v1h-1zM159 626h1v1h-1zM160 626h1v1h-1zM161 626h1v1h-1zM162 627h1v1h-1zM163 627h1v1h-1zM164 626h1v1h-1zM165 626h1v1h-1zM166 625h1v1h-1zM167 625h1v1h-1zM168 625h1v1h-1zM169 625h1v1h-1zM170 625h1v1h-1zM171 625h1v1h-1zM172 626h1v1h-1zM173 626h1v1h-1zM174 627h1v1h-1zM175 628h1v1h-1zM176 627h1v1h-1zM177 627h1v1h-1zM178 626h1v1h-1zM179 625h1v1h-1zM180 626h1v1h-1zM181 626h1v1h-1zM182 626h1v1h-1zM183 627h1v1h-1zM184 626h1v1h-1zM185 626h1v1h-1zM186 625h1v1h-1zM187 624h1v1h-1zM188 622h1v2h-1zM189 620h1v2h-1zM189 619h1v1h-1zM190 617h1v2h-1zM191 615h1v2h-1zM192 616h1v1h-1zM193 617h1v1h-1zM194 617h1v1h-1zM195 618h1v1h-1zM196 619h1v1h-1zM197 620h1v1h-1zM198 621h1v1h-1zM199 622h1v1h-1zM200 623h1v1h-1zM201 624h1v1h-1zM202 625h1v1h-1zM203 626h1v1h-1zM204 624h1v2h-1zM204 623h1v1h-1zM205 621h1v2h-1zM206 619h1v2h-1zM207 617h1v2h-1zM208 617h1v1h-1zM209 618h1v1h-1zM210 618h1v1h-1zM211 619h1v1h-1zM212 618h1v1h-1zM213 618h1v1h-1zM214 617h1v1h-1zM215 617h1v1h-1zM216 617h1v1h-1zM217 618h1v1h-1zM218 619h1v1h-1zM219 619h1v1h-1zM219 620h1v1h-1zM220 621h1v1h-1zM221 622h1v1h-1zM222 623h1v1h-1zM222 624h1v1h-1zM223 625h1v1h-1zM224 625h1v1h-1zM225 625h1v1h-1zM226 626h1v1h-1zM227 626h1v1h-1zM228 624h1v2h-1zM229 622h1v2h-1zM230 620h1v2h-1zM231 618h1v2h-1zM232 618h1v1h-1zM233 617h1v1h-1zM234 617h1v1h-1zM235 617h1v1h-1zM236 616h1v1h-1zM237 616h1v1h-1zM238 616h1v1h-1zM239 616h1v1h-1zM240 617h1v1h-1zM241 618h1v1h-1zM242 618h1v1h-1zM243 619h1v1h-1zM244 618h1v1h-1zM245 617h1v1h-1zM246 615h1v2h-1zM247 614h1v1h-1zM248 613h1v1h-1zM249 613h1v1h-1zM250 612h1v1h-1zM251 612h1v1h-1zM252 612h1v1h-1zM253 613h1v1h-1zM254 613h1v1h-1zM255 614h1v1h-1zM256 613h1v1h-1zM257 613h1v1h-1zM258 612h1v1h-1zM259 612h1v1h-1zM260 611h1v1h-1zM261 611h1v1h-1zM262 610h1v1h-1zM263 610h1v1h-1zM264 610h1v1h-1zM265 610h1v1h-1zM266 610h1v1h-1zM267 610h1v1h-1zM268 611h1v1h-1zM269 612h1v1h-1zM270 613h1v1h-1zM271 614h1v1h-1zM272 613h1v1h-1zM273 612h1v1h-1zM274 612h1v1h-1zM275 611h1v1h-1zM276 612h1v1h-1zM277 613h1v1h-1zM277 614h1v1h-1zM278 615h1v1h-1zM279 616h1v1h-1zM280 616h1v1h-1zM281 616h1v1h-1zM282 616h1v1h-1zM283 616h1v1h-1zM284 616h1v1h-1zM285 617h1v1h-1zM286 617h1v1h-1zM287 618h1v1h-1zM288 618h1v1h-1zM289 619h1v1h-1zM290 619h1v1h-1zM291 620h1v1h-1zM292 621h1v1h-1zM293 621h1v1h-1zM294 622h1v1h-1zM295 623h1v1h-1zM296 623h1v1h-1zM297 623h1v1h-1zM298 623h1v1h-1zM299 623h1v1h-1zM300 622h1v1h-1zM301 622h1v1h-1zM302 621h1v1h-1zM303 621h1v1h-1zM304 621h1v1h-1zM305 621h1v1h-1zM306 621h1v1h-1zM307 621h1v1h-1zM308 622h1v1h-1zM308 623h1v1h-1zM309 624h1v1h-1zM310 625h1v1h-1zM311 626h1v1h-1zM312 625h1v1h-1zM313 624h1v1h-1zM314 623h1v1h-1zM315 622h1v1h-1zM316 621h1v1h-1zM317 619h1v2h-1zM318 618h1v1h-1zM319 617h1v1h-1zM320 617h1v1h-1zM321 617h1v1h-1zM322 617h1v1h-1zM323 617h1v1h-1zM323 618h1v1h-1zM324 619h1v1h-1zM324 620h1v1h-1zM325 621h1v1h-1zM325 622h1v1h-1zM326 623h1v2h-1zM326 625h1v1h-1zM327 626h1v1h-1zM328 626h1v1h-1zM329 625h1v1h-1zM330 625h1v1h-1zM331 625h1v1h-1zM332 625h1v1h-1zM333 625h1v1h-1zM334 625h1v1h-1zM335 625h1v1h-1zM336 625h1v1h-1zM337 626h1v1h-1zM338 626h1v1h-1zM339 626h1v1h-1zM340 627h1v1h-1zM341 628h1v1h-1zM342 628h1v1h-1zM343 629h1v1h-1zM344 630h1v1h-1zM345 630h1v1h-1zM346 631h1v1h-1zM347 632h1v1h-1zM347 631h1v1h-1zM348 628h1v3h-1zM348 627h1v1h-1zM349 625h1v2h-1zM349 624h1v1h-1zM350 622h1v2h-1zM350 621h1v1h-1zM351 619h1v2h-1zM352 618h1v1h-1zM353 616h1v2h-1zM354 615h1v1h-1zM355 614h1v1h-1zM356 615h1v1h-1zM357 616h1v1h-1zM358 617h1v1h-1zM359 618h1v1h-1zM360 618h1v1h-1zM361 619h1v1h-1zM362 619h1v1h-1zM363 620h1v1h-1zM364 620h1v1h-1zM365 620h1v1h-1zM366 620h1v1h-1zM367 620h1v1h-1zM368 620h1v1h-1zM369 620h1v1h-1zM370 621h1v1h-1zM371 621h1v1h-1zM372 619h1v2h-1zM373 618h1v1h-1zM374 616h1v2h-1zM375 615h1v1h-1zM376 615h1v1h-1zM377 615h1v1h-1zM378 615h1v1h-1zM379 616h1v1h-1zM380 616h1v1h-1zM381 616h1v1h-1zM382 616h1v1h-1zM383 616h1v1h-1zM384 616h1v1h-1zM385 617h1v1h-1zM386 617h1v1h-1zM387 618h1v1h-1zM388 618h1v1h-1zM389 618h1v1h-1zM390 618h1v1h-1zM391 618h1v1h-1zM391 619h1v1h-1zM392 620h1v1h-1zM393 621h1v1h-1zM394 622h1v1h-1zM394 623h1v1h-1zM395 624h1v1h-1zM396 625h1v1h-1zM397 626h1v1h-1zM397 627h1v1h-1zM398 628h1v1h-1zM399 629h1v1h-1zM400 629h1v1h-1zM401 630h1v1h-1zM402 630h1v1h-1zM403 630h1v1h-1zM404 630h1v1h-1zM405 629h1v1h-1zM406 628h1v1h-1zM407 628h1v1h-1zM408 628h1v1h-1zM409 629h1v1h-1zM410 629h1v1h-1zM411 630h1v1h-1zM412 629h1v1h-1zM413 628h1v1h-1zM414 628h1v1h-1zM415 627h1v1h-1zM416 628h1v1h-1zM417 628h1v1h-1zM418 629h1v1h-1zM419 630h1v1h-1zM420 628h1v2h-1zM421 626h1v2h-1zM422 624h1v2h-1zM423 622h1v2h-1zM424 622h1v1h-1zM425 623h1v1h-1zM426 623h1v1h-1zM427 623h1v1h-1zM428 623h1v1h-1zM429 622h1v1h-1zM430 621h1v1h-1zM431 621h1v1h-1zM432 620h1v1h-1zM433 619h1v1h-1zM434 619h1v1h-1zM435 618h1v1h-1zM436 618h1v1h-1zM437 618h1v1h-1zM438 618h1v1h-1zM439 618h1v1h-1zM440 616h1v2h-1zM441 615h1v1h-1zM442 613h1v2h-1zM443 612h1v1h-1zM444 613h1v1h-1zM445 614h1v1h-1zM446 615h1v1h-1zM447 616h1v1h-1zM448 615h1v1h-1zM449 615h1v1h-1zM450 614h1v1h-1zM451 614h1v1h-1zM452 614h1v1h-1zM453 614h1v1h-1zM454 614h1v1h-1zM455 614h1v1h-1zM456 613h1v1h-1zM457 612h1v1h-1zM458 612h1v1h-1zM459 611h1v1h-1zM460 612h1v1h-1zM460 613h1v1h-1zM461 614h1v1h-1zM462 615h1v1h-1zM462 616h1v1h-1zM463 617h1v1h-1zM464 617h1v1h-1zM465 617h1v1h-1zM466 617h1v1h-1zM467 617h1v1h-1zM468 617h1v1h-1zM469 618h1v1h-1zM470 618h1v1h-1zM471 619h1v1h-1zM472 618h1v1h-1zM473 618h1v1h-1zM474 617h1v1h-1zM475 617h1v1h-1zM476 618h1v1h-1zM477 619h1v1h-1zM477 620h1v1h-1zM478 621h1v1h-1zM479 622h1v1h-1zM480 621h1v1h-1zM481 620h1v1h-1zM482 620h1v1h-1zM483 619h1v1h-1zM484 617h1v2h-1zM485 615h1v2h-1zM486 614h1v1h-1zM487 612h1v2h-1zM488 613h1v1h-1zM489 614h1v1h-1zM490 615h1v1h-1zM491 616h1v1h-1zM492 617h1v1h-1zM493 617h1v1h-1zM494 618h1v1h-1zM495 619h1v1h-1zM496 619h1v1h-1zM497 619h1v1h-1zM498 620h1v1h-1zM499 620h1v1h-1zM500 619h1v1h-1zM501 618h1v1h-1zM502 618h1v1h-1zM503 617h1v1h-1zM504 617h1v1h-1zM505 617h1v1h-1zM506 618h1v1h-1zM507 618h1v1h-1zM508 619h1v1h-1zM509 619h1v1h-1zM510 620h1v1h-1zM511 621h1v1h-1zM512 620h1v1h-1zM513 619h1v1h-1zM514 619h1v1h-1zM515 618h1v1h-1zM516 619h1v1h-1zM517 620h1v1h-1zM518 621h1v1h-1zM519 622h1v1h-1zM520 622h1v1h-1zM521 621h1v1h-1zM522 621h1v1h-1zM523 621h1v1h-1zM524 620h1v1h-1zM525 620h1v1h-1zM526 619h1v1h-1zM527 618h1v1h-1zM528 617h1v1h-1zM529 616h1v1h-1zM530 615h1v1h-1zM531 614h1v1h-1zM531 615h1v1h-1zM532 616h1v1h-1zM532 617h1v1h-1zM533 618h1v1h-1zM533 619h1v1h-1zM534 620h1v1h-1zM534 621h1v1h-1zM535 622h1v1h-1zM536 622h1v1h-1zM537 621h1v1h-1zM538 621h1v1h-1zM539 621h1v1h-1zM540 621h1v1h-1zM541 621h1v1h-1zM542 621h1v1h-1zM543 621h1v1h-1zM544 621h1v1h-1zM545 622h1v1h-1zM546 622h1v1h-1zM547 623h1v1h-1zM548 624h1v1h-1zM549 625h1v1h-1zM549 626h1v1h-1zM550 627h1v1h-1zM551 628h1v1h-1zM552 628h1v1h-1zM553 628h1v1h-1zM554 628h1v1h-1zM555 628h1v1h-1zM556 629h1v1h-1zM557 630h1v1h-1zM558 630h1v1h-1zM559 631h1v1h-1zM560 632h1v1h-1zM561 633h1v1h-1zM562 634h1v1h-1zM563 635h1v1h-1zM564 635h1v1h-1zM565 635h1v1h-1zM566 635h1v1h-1zM567 635h1v1h-1zM568 635h1v1h-1zM569 635h1v1h-1zM570 635h1v1h-1zM571 635h1v1h-1zM572 635h1v1h-1zM573 636h1v1h-1zM574 636h1v1h-1zM575 636h1v1h-1zM576 634h1v2h-1zM577 633h1v1h-1zM578 631h1v2h-1zM579 629h1v2h-1zM580 630h1v1h-1zM581 631h1v1h-1zM582 632h1v1h-1zM583 633h1v1h-1zM584 634h1v1h-1zM585 635h1v1h-1zM586 636h1v1h-1zM587 637h1v1h-1zM588 637h1v1h-1zM589 638h1v1h-1zM590 638h1v1h-1zM591 639h1v1h-1zM592 639h1v1h-1zM593 639h1v1h-1zM594 639h1v1h-1zM595 639h1v1h-1zM596 640h1v1h-1zM597 640h1v1h-1zM598 641h1v1h-1zM599 641h1v1h-1zM600 641h1v1h-1zM601 640h1v1h-1zM602 640h1v1h-1zM603 640h1v1h-1zM604 639h1v1h-1zM605 639h1v1h-1zM606 638h1v1h-1zM607 638h1v1h-1zM608 636h1v2h-1zM609 635h1v1h-1zM610 633h1v2h-1zM611 632h1v1h-1zM612 632h1v1h-1zM613 633h1v1h-1zM614 633h1v1h-1zM615 634h1v1h-1zM616 634h1v1h-1zM617 634h1v1h-1zM618 634h1v1h-1zM619 634h1v1h-1zM620 635h1v1h-1zM621 635h1v1h-1zM622 636h1v1h-1zM623 636h1v1h-1zM624 636h1v1h-1zM625 637h1v1h-1zM626 637h1v1h-1zM627 637h1v1h-1zM628 636h1v1h-1zM629 635h1v1h-1zM630 634h1v1h-1zM631 633h1v1h-1zM632 633h1v1h-1zM633 634h1v1h-1zM634 634h1v1h-1zM635 635h1v1h-1zM636 634h1v1h-1zM637 633h1v1h-1zM638 633h1v1h-1zM639 632h1v1h-1zM640 632h1v1h-1zM641 632h1v1h-1zM642 632h1v1h-1zM643 632h1v1h-1zM644 631h1v1h-1zM645 630h1v1h-1zM646 630h1v1h-1zM647 629h1v1h-1zM648 629h1v1h-1zM649 630h1v1h-1zM650 630h1v1h-1zM651 630h1v1h-1zM652 628h1v2h-1zM653 627h1v1h-1zM654 625h1v2h-1zM655 624h1v1h-1zM656 625h1v1h-1zM657 625h1v1h-1zM658 626h1v1h-1zM659 627h1v1h-1zM660 627h1v1h-1zM661 626h1v1h-1zM662 626h1v1h-1zM663 626h1v1h-1zM664 626h1v1h-1zM665 626h1v1h-1zM666 626h1v1h-1zM667 626h1v1h-1zM668 626h1v1h-1zM669 626h1v1h-1zM670 627h1v1h-1zM671 627h1v1h-1zM672 628h1v1h-1zM673 629h1v1h-1zM674 630h1v1h-1zM675 631h1v1h-1zM676 630h1v1h-1zM677 630h1v1h-1zM678 629h1v1h-1zM679 628h1v1h-1zM680 626h1v2h-1zM680 625h1v1h-1zM681 623h1v2h-1zM682 621h1v2h-1zM682 620h1v1h-1zM683 618h1v2h-1zM684 619h1v1h-1zM685 620h1v1h-1zM686 620h1v1h-1zM687 621h1v1h-1zM688 621h1v1h-1zM689 622h1v1h-1zM690 622h1v1h-1zM691 623h1v1h-1zM692 623h1v1h-1zM693 624h1v1h-1zM694 624h1v1h-1zM695 624h1v1h-1zM696 623h1v1h-1zM697 622h1v1h-1zM698 620h1v2h-1zM699 619h1v1h-1zM700 619h1v1h-1zM701 619h1v1h-1zM702 619h1v1h-1zM703 619h1v1h-1zM704 619h1v1h-1zM705 619h1v1h-1zM706 619h1v1h-1zM707 619h1v1h-1zM708 617h1v2h-1zM709 615h1v2h-1zM710 613h1v2h-1zM711 611h1v2h-1zM712 611h1v1h-1zM713 611h1v1h-1zM714 611h1v1h-1zM715 611h1v1h-1zM716 612h1v1h-1zM717 613h1v1h-1zM718 614h1v1h-1zM719 615h1v1h-1zM720 613h1v2h-1zM721 611h1v2h-1zM722 610h1v1h-1zM723 608h1v2h-1zM724 609h1v1h-1zM725 610h1v1h-1zM725 611h1v1h-1zM726 612h1v1h-1zM727 613h1v1h-1zM727 612h1v1h-1zM728 610h1v2h-1zM728 609h1v1h-1zM729 606h1v3h-1zM729 605h1v1h-1zM730 603h1v2h-1zM730 602h1v1h-1zM731 599h1v3h-1zM732 598h1v1h-1zM733 598h1v1h-1zM734 597h1v1h-1zM735 596h1v1h-1zM736 596h1v1h-1zM737 596h1v1h-1zM738 597h1v1h-1zM739 597h1v1h-1zM740 598h1v1h-1zM740 599h1v1h-1zM741 600h1v1h-1zM742 601h1v1h-1zM742 602h1v1h-1zM743 603h1v1h-1zM744 603h1v1h-1zM745 603h1v1h-1zM746 604h1v1h-1zM747 604h1v1h-1zM747 605h1v1h-1zM748 606h1v1h-1zM749 607h1v1h-1zM749 608h1v1h-1zM750 609h1v1h-1zM750 610h1v1h-1zM751 611h1v1h-1zM752 610h1v1h-1zM753 610h1v1h-1zM754 609h1v1h-1zM755 608h1v1h-1zM756 609h1v1h-1zM757 610h1v1h-1zM758 610h1v1h-1zM759 611h1v1h-1zM760 611h1v1h-1zM761 610h1v1h-1zM762 610h1v1h-1zM763 610h1v1h-1zM764 610h1v1h-1zM765 609h1v1h-1zM766 609h1v1h-1zM767 609h1v1h-1zM768 608h1v1h-1zM769 607h1v1h-1zM770 607h1v1h-1zM771 606h1v1h-1zM772 605h1v1h-1zM773 605h1v1h-1zM774 604h1v1h-1zM775 604h1v1h-1zM776 604h1v1h-1zM777 604h1v1h-1zM778 604h1v1h-1zM779 604h1v1h-1zM780 605h1v1h-1zM780 606h1v1h-1zM781 607h1v1h-1zM782 608h1v1h-1zM782 609h1v1h-1zM783 610h1v1h-1zM784 611h1v1h-1zM785 611h1v1h-1zM786 612h1v1h-1zM787 613h1v1h-1zM788 613h1v1h-1zM789 612h1v1h-1zM790 612h1v1h-1zM791 612h1v1h-1zM792 610h1v2h-1zM792 609h1v1h-1zM793 607h1v2h-1zM794 605h1v2h-1zM795 603h1v2h-1zM796 602h1v1h-1zM797 602h1v1h-1zM798 601h1v1h-1zM799 601h1v1h-1zM800 600h1v1h-1zM801 600h1v1h-1zM802 600h1v1h-1zM803 599h1v1h-1zM803 600h1v1h-1zM804 601h1v1h-1zM805 602h1v1h-1zM805 603h1v1h-1zM806 604h1v1h-1zM807 605h1v1h-1zM808 606h1v1h-1zM809 606h1v1h-1zM810 607h1v1h-1zM811 608h1v1h-1zM812 608h1v1h-1zM813 608h1v1h-1zM814 608h1v1h-1zM815 608h1v1h-1zM816 607h1v1h-1zM817 606h1v1h-1zM818 605h1v1h-1zM819 604h1v1h-1zM820 604h1v1h-1zM821 603h1v1h-1zM822 603h1v1h-1zM823 603h1v1h-1zM824 602h1v1h-1zM825 601h1v1h-1zM826 601h1v1h-1zM827 600h1v1h-1zM828 600h1v1h-1zM829 600h1v1h-1zM830 600h1v1h-1zM831 600h1v1h-1zM832 600h1v1h-1zM833 599h1v1h-1zM834 599h1v1h-1zM835 598h1v1h-1zM836 597h1v1h-1zM837 596h1v1h-1zM838 594h1v2h-1zM839 593h1v1h-1zM840 594h1v1h-1zM841 594h1v1h-1zM842 595h1v1h-1zM843 596h1v1h-1zM843 597h1v2h-1zM844 599h1v2h-1zM844 601h1v2h-1zM845 603h1v2h-1zM845 605h1v2h-1zM846 607h1v2h-1zM846 609h1v2h-1zM847 611h1v2h-1zM848 611h1v1h-1zM849 611h1v1h-1zM850 610h1v1h-1zM851 610h1v1h-1zM852 610h1v1h-1zM853 609h1v1h-1zM854 609h1v1h-1zM855 609h1v1h-1zM856 609h1v1h-1zM857 609h1v1h-1zM858 610h1v1h-1zM859 610h1v1h-1zM860 611h1v1h-1zM861 611h1v1h-1zM862 612h1v1h-1zM863 613h1v1h-1zM864 612h1v1h-1zM865 611h1v1h-1zM866 611h1v1h-1zM867 610h1v1h-1zM868 610h1v1h-1zM869 611h1v1h-1zM870 611h1v1h-1zM871 611h1v1h-1zM871 612h1v1h-1zM872 613h1v1h-1zM872 614h1v1h-1zM873 615h1v2h-1zM873 617h1v1h-1zM874 618h1v1h-1zM874 619h1v1h-1zM875 620h1v1h-1zM876 619h1v1h-1zM877 619h1v1h-1zM878 619h1v1h-1zM879 618h1v1h-1zM880 618h1v1h-1zM881 618h1v1h-1zM882 617h1v1h-1zM883 617h1v1h-1zM884 617h1v1h-1zM885 616h1v1h-1zM886 616h1v1h-1zM887 616h1v1h-1zM888 615h1v1h-1zM889 614h1v1h-1zM890 613h1v1h-1zM891 612h1v1h-1zM892 612h1v1h-1zM893 612h1v1h-1zM894 612h1v1h-1zM895 612h1v1h-1zM896 613h1v1h-1zM897 614h1v1h-1zM897 615h1v1h-1zM898 616h1v1h-1zM899 617h1v1h-1zM900 616h1v1h-1zM901 614h1v2h-1zM902 613h1v1h-1zM903 612h1v1h-1zM904 612h1v1h-1zM905 612h1v1h-1zM906 612h1v1h-1zM907 612h1v1h-1zM908 612h1v1h-1zM909 611h1v1h-1zM910 611h1v1h-1zM911 611h1v1h-1zM912 612h1v1h-1zM913 613h1v1h-1zM914 614h1v1h-1zM915 615h1v1h-1zM916 615h1v1h-1zM917 615h1v1h-1zM918 615h1v1h-1zM919 616h1v1h-1zM920 616h1v1h-1zM921 616h1v1h-1zM922 617h1v1h-1zM923 617h1v1h-1z" fill="#1e90ff"/>
</g>
<g shape-rendering="crispEdges">
<rect x="1166" y="52" width="2" height="1" fill="#000" />
<rect x="1166" y="85" width="2" height="1" fill="#000" />
<rect x="1166" y="118" width="2" height="1" fill="#000" />
<rect x="1166" y="151" width="2" height="1" fill="#000" />
<rect x="1166" y="184" width="2" height="1" fill="#000" />
<rect x="1166" y="217" width="2" height="1" fill="#000" />
<rect x="1166" y="250" width="2" height="1" fill="#000" />
<rect x="1166" y="283" width="2" height="1" fill="#000" />
<rect x="1166" y="316" width="2" height="1" fill="#000" />
<rect x="1166" y="349" width="2" height="1" fill="#000" />
<rect x="1166" y="382" width="2" height="1" fill="#000" />
<rect x="1166" y="415" width="2" height="1" fill="#000" />
<rect x="1166" y="448" width="2" height="1" fill="#000" />
<rect x="1166" y="481" width="2" height="1" fill="#000" />
<rect x="1166" y="528" width="2" height="1" fill="#000" />
<rect x="1166" y="574" width="1" height="1" fill="#000" />
<rect x="1166" y="658" width="1" height="1" fill="#000" />
<rect x="1166" y="488" width="1" height="1" fill="#000" />
<rect x="1166" y="568" width="1" height="1" fill="#000" />
<rect x="3" y="660" width="1" height="3" fill="#000" />
<rect x="67" y="660" width="1" height="3" fill="#000" />
<rect x="131" y="660" width="1" height="3" fill="#000" />
<rect x="195" y="660" width="1" height="3" fill="#000" />
<rect x="259" y="660" width="1" height="3" fill="#000" />
<rect x="323" y="660" width="1" height="3" fill="#000" />
<rect x="387" y="660" width="1" height="3" fill="#000" />
<rect x="451" y="660" width="1" height="3" fill="#000" />
<rect x="515" y="660" width="1" height="3" fill="#000" />
<rect x="579" y="660" width="1" height="3" fill="#000" />
<rect x="643" y="660" width="1" height="3" fill="#000" />
<rect x="707" y="660" width="1" height="3" fill="#000" />
<rect x="771" y="660" width="1" height="3" fill="#000" />
<rect x="835" y="660" width="1" height="3" fill="#000" />
<rect x="899" y="660" width="1" height="3" fill="#000" />
</g>
<text x="1171.7" y="56" font-size="10.2" fill="#000" textLength="32.3" lengthAdjust="spacingAndGlyphs" stroke="#000" stroke-width="0.15" >1.31585</text>
<text x="1171.7" y="89" font-size="10.2" fill="#000" textLength="32.3" lengthAdjust="spacingAndGlyphs" stroke="#000" stroke-width="0.15" >1.30660</text>
<text x="1171.7" y="122" font-size="10.2" fill="#000" textLength="32.3" lengthAdjust="spacingAndGlyphs" stroke="#000" stroke-width="0.15" >1.29760</text>
<text x="1171.7" y="155" font-size="10.2" fill="#000" textLength="32.3" lengthAdjust="spacingAndGlyphs" stroke="#000" stroke-width="0.15" >1.28860</text>
<text x="1171.7" y="188" font-size="10.2" fill="#000" textLength="32.3" lengthAdjust="spacingAndGlyphs" stroke="#000" stroke-width="0.15" >1.27960</text>
<text x="1171.7" y="221" font-size="10.2" fill="#000" textLength="32.3" lengthAdjust="spacingAndGlyphs" stroke="#000" stroke-width="0.15" >1.27060</text>
<text x="1171.7" y="254" font-size="10.2" fill="#000" textLength="32.3" lengthAdjust="spacingAndGlyphs" stroke="#000" stroke-width="0.15" >1.26160</text>
<text x="1171.7" y="287" font-size="10.2" fill="#000" textLength="32.3" lengthAdjust="spacingAndGlyphs" stroke="#000" stroke-width="0.15" >1.25260</text>
<text x="1171.7" y="320" font-size="10.2" fill="#000" textLength="32.3" lengthAdjust="spacingAndGlyphs" stroke="#000" stroke-width="0.15" >1.24335</text>
<text x="1171.7" y="353" font-size="10.2" fill="#000" textLength="32.3" lengthAdjust="spacingAndGlyphs" stroke="#000" stroke-width="0.15" >1.23435</text>
<text x="1171.7" y="386" font-size="10.2" fill="#000" textLength="32.3" lengthAdjust="spacingAndGlyphs" stroke="#000" stroke-width="0.15" >1.22535</text>
<text x="1171.7" y="419" font-size="10.2" fill="#000" textLength="32.3" lengthAdjust="spacingAndGlyphs" stroke="#000" stroke-width="0.15" >1.21635</text>
<text x="1171.7" y="452" font-size="10.2" fill="#000" textLength="32.3" lengthAdjust="spacingAndGlyphs" stroke="#000" stroke-width="0.15" >1.20735</text>
<text x="1171.7" y="485" font-size="10.2" fill="#000" textLength="32.3" lengthAdjust="spacingAndGlyphs" stroke="#000" stroke-width="0.15" >1.19835</text>
<g shape-rendering="crispEdges">
<rect x="1167" y="151" width="40" height="11" fill="#ff0000" />
<rect x="1167" y="224" width="40" height="11" fill="#ff0000" />
<rect x="1167" y="286" width="40" height="11" fill="#00ff00" />
<rect x="1167" y="359" width="40" height="11" fill="#0000ff" />
<rect x="1167" y="446" width="40" height="11" fill="#0000ff" />
</g>
<text x="1171.7" y="160" font-size="10.2" fill="#fff" textLength="32.3" lengthAdjust="spacingAndGlyphs" stroke="#fff" stroke-width="0.15" >1.28700</text>
<text x="1171.7" y="233" font-size="10.2" fill="#fff" textLength="32.3" lengthAdjust="spacingAndGlyphs" stroke="#fff" stroke-width="0.15" >1.26700</text>
<text x="1171.7" y="295" font-size="10.2" fill="#fff" textLength="32.3" lengthAdjust="spacingAndGlyphs" stroke="#fff" stroke-width="0.15" >1.25003</text>
<text x="1171.7" y="368" font-size="10.2" fill="#fff" textLength="32.3" lengthAdjust="spacingAndGlyphs" stroke="#fff" stroke-width="0.15" >1.23003</text>
<text x="1171.7" y="455" font-size="10.2" fill="#fff" textLength="32.3" lengthAdjust="spacingAndGlyphs" stroke="#fff" stroke-width="0.15" >1.20609</text>
<text x="1169.4" y="497" font-size="10.2" fill="#000" textLength="32.1" lengthAdjust="spacingAndGlyphs" stroke="#000" stroke-width="0.15" >0.01135</text>
<text x="1169.4" y="532" font-size="10.2" fill="#000" textLength="17.3" lengthAdjust="spacingAndGlyphs" stroke="#000" stroke-width="0.15" >0.00</text>
<text x="1169.4" y="567" font-size="10.2" fill="#000" textLength="41.5" lengthAdjust="spacingAndGlyphs" stroke="#000" stroke-width="0.15" >-0.011904</text>
<text x="1169.7" y="583" font-size="10.2" fill="#000" textLength="14.4" lengthAdjust="spacingAndGlyphs" stroke="#000" stroke-width="0.15" >100</text>
<text x="1168.3" y="603" font-size="10.2" fill="#000" textLength="9.6" lengthAdjust="spacingAndGlyphs" stroke="#000" stroke-width="0.15" >70</text>
<text x="1168.3" y="637" font-size="10.2" fill="#000" textLength="9.6" lengthAdjust="spacingAndGlyphs" stroke="#000" stroke-width="0.15" >30</text>
<text x="1169.7" y="656" font-size="10.2" fill="#000" textLength="4.3" lengthAdjust="spacingAndGlyphs" stroke="#000" stroke-width="0.15" >0</text>
<text x="2.2" y="672" font-size="10.2" fill="#000" textLength="53.9" lengthAdjust="spacingAndGlyphs" stroke="#000" stroke-width="0.15" >14 Nov 2020</text>
<text x="66.2" y="672" font-size="10.2" fill="#000" textLength="46.7" lengthAdjust="spacingAndGlyphs" stroke="#000" stroke-width="0.15" >3 Dec 2020</text>
<text x="130.2" y="672" font-size="10.2" fill="#000" textLength="51" lengthAdjust="spacingAndGlyphs" stroke="#000" stroke-width="0.15" >22 Dec 2020</text>
<text x="194.2" y="672" font-size="10.2" fill="#000" textLength="49" lengthAdjust="spacingAndGlyphs" stroke="#000" stroke-width="0.15" >12 Jan 2021</text>
<text x="258.2" y="672" font-size="10.2" fill="#000" textLength="48.6" lengthAdjust="spacingAndGlyphs" stroke="#000" stroke-width="0.15" >30 Jan 2021</text>
<text x="322.2" y="672" font-size="10.2" fill="#000" textLength="50.5" lengthAdjust="spacingAndGlyphs" stroke="#000" stroke-width="0.15" >18 Feb 2021</text>
<text x="386.2" y="672" font-size="10.2" fill="#000" textLength="44.8" lengthAdjust="spacingAndGlyphs" stroke="#000" stroke-width="0.15" >9 Mar 2021</text>
<text x="450.2" y="672" font-size="10.2" fill="#000" textLength="51.2" lengthAdjust="spacingAndGlyphs" stroke="#000" stroke-width="0.15" >27 Mar 2021</text>
<text x="514.2" y="672" font-size="10.2" fill="#000" textLength="50" lengthAdjust="spacingAndGlyphs" stroke="#000" stroke-width="0.15" >15 Apr 2021</text>
<text x="578.2" y="672" font-size="10.2" fill="#000" textLength="48.8" lengthAdjust="spacingAndGlyphs" stroke="#000" stroke-width="0.15" >4 May 2021</text>
<text x="642.2" y="672" font-size="10.2" fill="#000" textLength="54" lengthAdjust="spacingAndGlyphs" stroke="#000" stroke-width="0.15" >22 May 2021</text>
<text x="706.2" y="672" font-size="10.2" fill="#000" textLength="49.2" lengthAdjust="spacingAndGlyphs" stroke="#000" stroke-width="0.15" >10 Jun 2021</text>
<text x="770.2" y="672" font-size="10.2" fill="#000" textLength="49.2" lengthAdjust="spacingAndGlyphs" stroke="#000" stroke-width="0.15" >29 Jun 2021</text>
<text x="834.2" y="672" font-size="10.2" fill="#000" textLength="45.5" lengthAdjust="spacingAndGlyphs" stroke="#000" stroke-width="0.15" >17 Jul 2021</text>
<text x="898.2" y="672" font-size="10.2" fill="#000" textLength="46.5" lengthAdjust="spacingAndGlyphs" stroke="#000" stroke-width="0.15" >5 Aug 2021</text>
<text x="7.5" y="499" font-size="10.2" fill="#000" textLength="147.2" lengthAdjust="spacingAndGlyphs" stroke="#000" stroke-width="0.15" >MACD(12,26,9) 0.001296 0.001980</text>
<text x="7.5" y="585" font-size="10.2" fill="#000" textLength="67.6" lengthAdjust="spacingAndGlyphs" stroke="#000" stroke-width="0.15" >RSI(14) 48.8723</text>
<path d="M6 35 L13 35 L9.5 31 Z" fill="#000"/>
<text x="18.4" y="36" font-size="10.2" fill="#000" textLength="65.6" lengthAdjust="spacingAndGlyphs" stroke="#000" stroke-width="0.15" >USDCAD,Daily</text>
<text x="90.5" y="36" font-size="10.2" fill="#000" textLength="140.1" lengthAdjust="spacingAndGlyphs" stroke="#000" stroke-width="0.15" >1.25137 1.25138 1.24884 1.25044</text>
<g shape-rendering="crispEdges">
<rect x="5" y="42" width="222" height="61" fill="#fff" />
<path d="M6 44 H58 V68 H115 V101 H6 Z" fill="url(#gb)"/>
<path d="M117 68 H173 V44 H225 V101 H117 Z" fill="url(#gb)"/>
<rect x="6" y="44" width="52" height="1" fill="#2a2ad0" />
<rect x="173" y="44" width="52" height="1" fill="#2a2ad0" />
<rect x="10" y="68" width="44" height="1" fill="#8c8cf8" />
<rect x="177" y="68" width="44" height="1" fill="#8c8cf8" />
<rect x="60" y="44" width="111" height="22" fill="#b4b4b4" />
<rect x="61" y="45" width="109" height="20" fill="#fff" />
<rect x="62" y="46" width="19" height="18" fill="url(#gbtn)" />
<rect x="81" y="45" width="1" height="20" fill="#b4b4b4" />
<rect x="151" y="46" width="18" height="18" fill="url(#gbtn)" />
<rect x="150" y="45" width="1" height="20" fill="#b4b4b4" />
</g>
<path d="M68 53.5 L73.5 53.5 L70.75 56.5 Z" fill="#4a5ac8"/>
<path d="M157 56.5 L162.5 56.5 L159.75 53.5 Z" fill="#4a5ac8"/>
<text x="18.7" y="59.7" font-size="12" fill="#f0f0ff" textLength="25" lengthAdjust="spacingAndGlyphs" >SELL</text>
<text x="186.5" y="59.7" font-size="12" fill="#f0f0ff" textLength="22.9" lengthAdjust="spacingAndGlyphs" >BUY</text>
<text x="122.4" y="58.4" font-size="11.4" fill="#000" textLength="22.9" lengthAdjust="spacingAndGlyphs" >3.00</text>
<text x="26.6" y="95.2" font-size="11.4" fill="#fff" textLength="22.9" lengthAdjust="spacingAndGlyphs" font-weight="bold" >1.25</text>
<text x="136.6" y="95.2" font-size="11.4" fill="#fff" textLength="22.9" lengthAdjust="spacingAndGlyphs" font-weight="bold" >1.25</text>
<text x="53.8" y="96.3" font-size="35.2" fill="#fff" textLength="34.8" lengthAdjust="spacingAndGlyphs" stroke="url(#gb)" stroke-width="0.8">04</text>
<text x="164.3" y="96.3" font-size="35.2" fill="#fff" textLength="34.8" lengthAdjust="spacingAndGlyphs" stroke="url(#gb)" stroke-width="0.8">06</text>
<text x="93" y="79.8" font-size="12" fill="#fff" textLength="6.4" lengthAdjust="spacingAndGlyphs" font-weight="bold" >7</text>
<text x="204.2" y="79.8" font-size="12" fill="#fff" textLength="6.7" lengthAdjust="spacingAndGlyphs" font-weight="bold" >2</text>
<text x="-2" y="12.2" font-size="9.5" fill="#404040" textLength="6" lengthAdjust="spacingAndGlyphs" >5</text>
<text x="14.7" y="12.2" font-size="9.5" fill="#404040" textLength="17.3" lengthAdjust="spacingAndGlyphs" >M30</text>
<text x="45.7" y="12.2" font-size="9.5" fill="#404040" textLength="11.5" lengthAdjust="spacingAndGlyphs" >H1</text>
<text x="72.6" y="12.2" font-size="9.5" fill="#404040" textLength="12.4" lengthAdjust="spacingAndGlyphs" >H4</text>
<text x="101.4" y="12.2" font-size="9.5" fill="#404040" textLength="11.4" lengthAdjust="spacingAndGlyphs" >D1</text>
<text x="129.3" y="12.2" font-size="9.5" fill="#404040" textLength="13.7" lengthAdjust="spacingAndGlyphs" >W1</text>
<text x="155.9" y="12.2" font-size="9.5" fill="#404040" textLength="14.3" lengthAdjust="spacingAndGlyphs" >MN</text>
<g shape-rendering="crispEdges">
<rect x="0" y="680" width="1207" height="1" fill="#e0e0e0" />
<rect x="0" y="681" width="1207" height="1" fill="#f4f4f4" />
<rect x="0" y="682" width="1207" height="1" fill="#000" />
<rect x="0" y="683" width="1207" height="19" fill="#f0f0f0" />
<rect x="0" y="702" width="1207" height="1" fill="#fcfcfc" />
<rect x="0" y="703" width="1207" height="3" fill="#f0f0f0" />
<rect x="288" y="682" width="104" height="19" fill="#000" />
<rect x="289" y="682" width="102" height="18" fill="#fff" />
<rect x="289" y="701" width="104" height="1" fill="#a0a0a0" />
<rect x="96" y="686" width="1" height="13" fill="#808080" />
<rect x="200" y="686" width="1" height="13" fill="#808080" />
<rect x="496" y="686" width="1" height="13" fill="#808080" />
<rect x="572" y="686" width="1" height="13" fill="#808080" />
<rect x="640" y="686" width="1" height="13" fill="#808080" />
<rect x="716" y="686" width="1" height="13" fill="#808080" />
<rect x="808" y="686" width="1" height="13" fill="#808080" />
<rect x="900" y="686" width="1" height="13" fill="#808080" />
</g>
<text x="16.4" y="696.7" font-size="12" fill="#7a7a7a" textLength="67.6" lengthAdjust="spacingAndGlyphs" >EURUSD,H4</text>
<text x="106.9" y="696.7" font-size="12" fill="#7a7a7a" textLength="81.6" lengthAdjust="spacingAndGlyphs" >AUDUSD,Daily</text>
<text x="210.4" y="696.7" font-size="12" fill="#7a7a7a" textLength="66.3" lengthAdjust="spacingAndGlyphs" >USDCHF,H4</text>
<text x="299.4" y="696.7" font-size="12" fill="#000" textLength="80.6" lengthAdjust="spacingAndGlyphs" >USDCAD,Daily</text>
<text x="402.6" y="696.7" font-size="12" fill="#7a7a7a" textLength="82.1" lengthAdjust="spacingAndGlyphs" >USDCNH,Daily</text>
<text x="508.3" y="696.7" font-size="12" fill="#7a7a7a" textLength="51" lengthAdjust="spacingAndGlyphs" >UKOil,H1</text>
<text x="582" y="696.7" font-size="12" fill="#7a7a7a" textLength="46.6" lengthAdjust="spacingAndGlyphs" >DJ30,H1</text>
<text x="652.3" y="696.7" font-size="12" fill="#7a7a7a" textLength="51" lengthAdjust="spacingAndGlyphs" >USDX,H1</text>
<text x="727" y="696.7" font-size="12" fill="#7a7a7a" textLength="68.3" lengthAdjust="spacingAndGlyphs" >XAUUSD,H1</text>
<text x="819.9" y="696.7" font-size="12" fill="#7a7a7a" textLength="67.5" lengthAdjust="spacingAndGlyphs" >GBPUSD,H1</text>
<path d="M1184 688 L1184 694.4 L1180.8 691.2 Z" fill="#9a9a9a"/>
<path d="M1200 688 L1200 694.4 L1203.2 691.2 Z" fill="#9a9a9a"/>
</svg>
</body></html>
